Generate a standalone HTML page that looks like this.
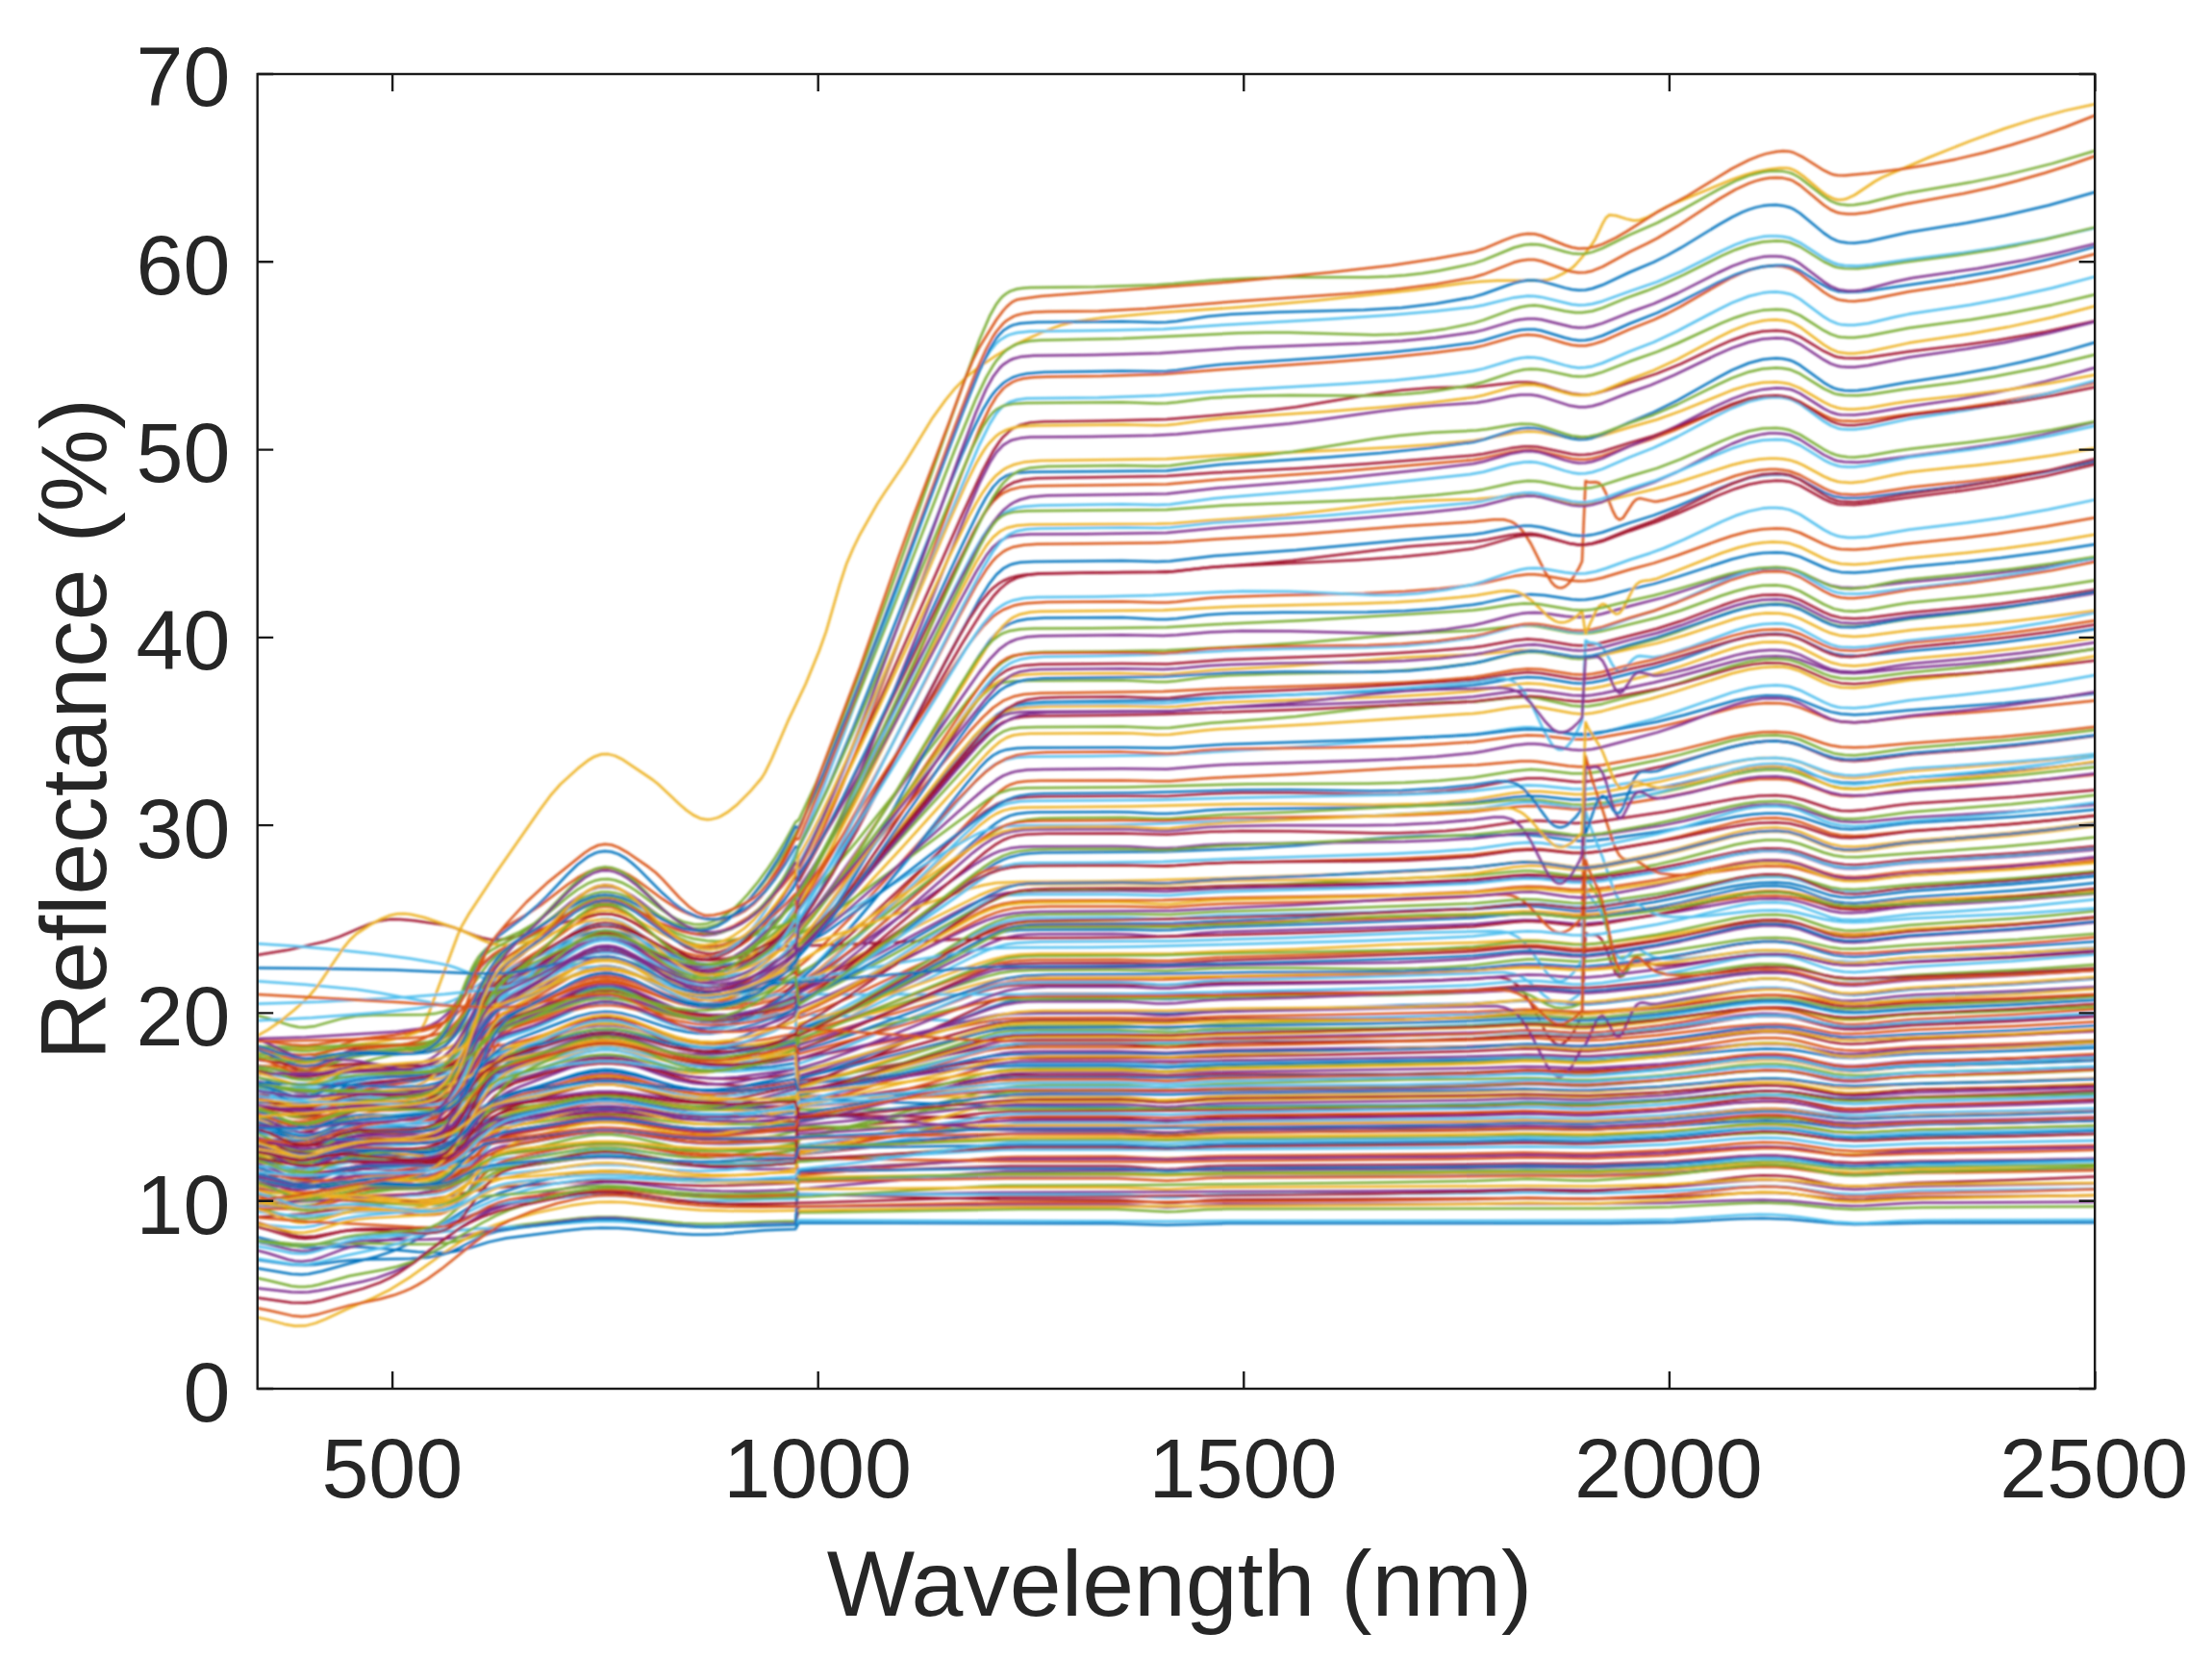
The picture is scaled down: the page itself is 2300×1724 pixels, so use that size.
<!DOCTYPE html>
<html><head><meta charset="utf-8"><title>Reflectance spectra</title><style>
html,body{margin:0;padding:0;background:#fff;overflow:hidden;}
svg{display:block;}
</style></head><body>
<svg width="2300" height="1724" viewBox="0 0 2300 1724">
<rect width="2300" height="1724" fill="#fff"/>
<defs><clipPath id="c"><rect x="267.7" y="77.0" width="1910.5" height="1367.0"/></clipPath><filter id="b" x="-2%" y="-2%" width="104%" height="104%"><feGaussianBlur stdDeviation="0.9"/></filter></defs>
<g clip-path="url(#c)"><g filter="url(#b)" fill="none" stroke-width="2.5" stroke-linejoin="round" stroke-linecap="round">
<path d="M267.7 1243.4l49.6 4.3 53.1 0.8 67.3 2.9 21.2-0.3 10.6-1.7 7.1-2.5 3.5-1.7 7.1-4.6 14.2-11.5 7.1-5.2 7.1-3.9 7-2.8 14.2-3.3 67.3-10.4 17.7-1.5 17.7 0.1 17.7 1.6 35.4 5.3 17.7 2.1 21.2 1.1 17.7-0.3 17.7-1.4 60.2-6.2 3.6-3.9 184.1-18.8 38.9-3 31.9-0.6 74.4 0.1 14.1 0.4 28.4 2.2 10.6 0.4 10.6-0.4 31.9-2.8 21.2-0.7 201.8-1.2 53.1-0.8 56.7-1.5 63.7 1 77.9-3.7 28.3-2.5 49.6-5.6 24.8-1.4 14.2 0.2 14.1 1 46.1 7.3 21.2 1.4 14.2-0.2 49.5-2.1 102.7-1.9 83.8-2.1" stroke="#A2142F"/>
<path d="M267.7 1223.6l35.4-1.4 17.7-1.4 46-6.5 53.2-6 21.2-3.8 14.2-4.5 10.6-5.3 10.6-7.2 24.8-19.8 7.1-4.5 10.6-5 10.6-3.4 17.7-3.8 49.6-9 21.2-2.5 14.2-0.4 17.7 1.2 49.6 7.8 24.8 2.8 28.3 1.4 28.3 0 21.2-1 24.8-2 3.6-2.2 60.2-7.4 134.5-18.8 14.2-1.6 14.1-1 106.3-0.4 53.1 0.7 67.2-1.7 170-0.1 77.9-1.6 60.2-2.8 49.6 1.2 14.1-0.1 77.9-4.8 24.8-2.4 49.6-5.7 28.3-1.8 14.2 0.2 14.1 1.1 14.2 2.4 28.3 6.4 10.6 1.4 10.7 0.5 14.1-0.5 35.4-3.5 21.3-1.2 102.7-2.7 80.2-2.9" stroke="#A2142F"/>
<path d="M267.7 1159.9l10.6 2.7 24.8 7.5 7.1 1.4 7.1 0.5 10.6-0.7 24.8-5 14.1-1.8 14.2-0.6 46 0.7 10.7-0.7 10.6-1.7 10.6-3.7 10.6-6.4 7.1-5.9 24.8-24.2 7.1-5.4 10.6-6.3 10.6-4.5 31.9-11 35.4-13.7 14.1-4.1 10.7-1.8 7.1-0.4 7 0.3 14.2 2.4 14.2 4.3 24.7 9.2 14.2 4.6 14.2 3.5 14.1 2 17.7 0.8 17.7-0.9 24.8-3.3 21.3-4.3 14.1-3.8 3.6-17.5 14.1-4.7 14.2-5.3 31.9-13.7 35.4-16.8 81.4-40.5 21.3-10.1 14.1-5.3 14.2-3 10.6-1 14.2-0.4 74.3-0.3 17.7 0.4 28.4 2.1 10.6 0.3 10.6-0.6 24.8-2.9 17.7-1.3 141.6-3.7 99.2-3.2 28.3-1.3 35.4-3.2 14.1-0.8 14.2 0.2 35.4 3.3 14.2 0.2 17.7-1.5 53.1-7.2 24.8-3.9 56.6-9.9 14.2-2 14.2-1.2 17.7-0.4 14.1 1 14.2 3.2 28.3 8.7 10.6 1.6 10.7 0.4 14.1-0.9 31.9-4.3 17.7-1.8 106.2-6.2 83.8-6.9" stroke="#7E2F8E"/>
<path d="M267.7 1240.3l35.4 0.7 14.2-0.6 10.6-1.4 28.3-5.2 14.2-2 74.3-7.3 10.7-1.8 10.6-2.7 10.6-4.4 7.1-4.4 3.5-2.8 10.6-10.5 14.2-17.1 7.1-7.7 7.1-6.5 7.1-4.9 10.6-5.3 10.6-3.6 21.2-5.6 21.3-4.8 10.6-1.8 10.6-1.2 10.7-0.5 10.6 0.3 17.7 2.2 46 8.6 14.2 1.6 10.6 0.7 10.6 0.2 14.2-0.4 28.3-2.8 46-6.7 3.6-5.3 28.3-5.5 31.9-7.2 131-32.4 14.1-2.9 14.2-1.9 10.6-0.8 17.7-0.5 131-0.2 70.8-1.8 177.1-1.9 74.3-2.4 42.5-3.2 14.2-0.6 14.2 0.2 31.8 2 17.7 0 17.7-1.3 56.7-6.1 24.8-3.5 53.1-8.9 17.7-2.1 14.1-0.8 14.2 0.2 10.6 0.9 10.6 1.7 24.8 5.8 10.7 2 10.6 1 14.1 0.3 155.8-6.6 90.9-5.4" stroke="#77AC30"/>
<path d="M267.7 1248.1l35.4 5.2 14.2 0.5 10.6-1 28.3-5.6 14.2-1.9 17.7-1.1 46-1.3 17.7-1.4 10.6-2.3 7.1-2.7 3.6-2 7-5 17.7-15.1 7.1-4.3 7.1-2.8 7.1-1.7 7.1-1.2 70.8-7.3 21.2-1.6 21.3-0.1 17.7 1.2 49.5 5.1 31.9 1.7 35.4-0.2 35.4-1.6 17.7-1.4 3.6-0.8 46-5.4 155.8-23.1 24.8-2.8 24.8-0.5 134.5 0.1 315.1-4.2 53.1-1.3 49.6 1.4 17.7 0.1 74.4-3.6 77.9-5.9 28.3-1.2 28.3 0.6 14.2 1.4 28.3 3.8 21.3 1.1 14.1-0.2 53.1-2.6 102.7-2.1 83.8-2.5" stroke="#4DBEEE"/>
<path d="M267.7 1239.3l10.6 3.2 24.8 8.9 7.1 1.7 7.1 0.7 10.6-0.6 28.3-5.8 14.2-1.4 17.7 0.1 49.6 2.9 10.6 0.1 10.6-0.5 10.6-1.8 10.6-3.7 10.7-6 17.7-12.4 7.1-4.2 7-3.4 10.7-3.7 17.7-3.8 38.9-6 17.7-2.1 17.7-1.1 10.6 0.1 14.2 0.8 53.1 6.5 28.3 2 35.4 0.2 60.2-2.3 3.6 9.6 191.2-11.9 24.8-1 169.9 0.1 53.1-0.9 237.3-1.8 81.4-1.5 63.7 0.9 74.4-2.8 81.4-5.5 28.3-0.9 24.8 0.9 14.2 1.7 31.9 4.8 10.6 0.8 10.6 0.1 14.2-0.7 31.8-2.4 21.3-1 182.9-3.6" stroke="#EDB120"/>
<path d="M267.7 1203.3l10.6 1.7 24.8 5.2 7.1 0.6 7.1-0.3 10.6-2.1 28.3-9.7 14.2-3.5 17.7-2.4 46-3.9 10.6-1.5 7.1-1.7 7.1-2.7 3.5-1.9 7.1-5.6 3.6-3.8 7-9.9 10.7-18.3 7-11.2 7.1-8.3 7.1-5.6 7.1-3.4 7.1-2.3 35.4-7.6 42.5-10.6 10.6-1.8 10.6-0.9 7.1 0 10.6 0.7 17.7 3.1 42.5 10.1 17.7 2.6 14.2 0.8 17.7-0.4 17.7-2 17.7-3.3 17.7-4.6 21.2-7.6 3.6-5.9 24.8-11.9 28.3-16.1 35.4-22.1 81.4-53.1 17.7-10.9 7.1-3.8 7.1-3.1 7.1-2.1 7.1-1.3 10.6-1 10.6-0.3 88.5-0.2 17.7 0.5 28.4 2.2 10.6 0.3 10.6-0.6 28.3-3.1 17.7-1.1 262-7.3 53.1-2.9 17.8 0.5 31.8 2.7 17.7 0.1 17.7-1.4 53.1-6.1 28.4-4.3 53.1-9.5 17.7-2.2 14.1-0.9 14.2 0.2 10.6 0.9 10.6 2 31.9 8 10.6 1.5 14.2 0.6 14.2-0.4 46-3.1 106.2-4.8 83.8-5.6" stroke="#EDB120"/>
<path d="M267.7 1129.1l10.6 3.9 24.8 10.5 7.1 2.1 7.1 1.1 10.6 0.1 24.8-3.6 14.1-1 10.7 0.3 10.6 0.9 42.5 5.4 17.7 1.7 7.1 0.1 7-0.4 7.1-1.6 3.6-1.5 3.5-2.1 3.5-2.8 3.6-3.7 3.5-4.9 3.6-6 7-16 17.8-52.3 7-18.2 7.1-14.2 7.1-10.8 7.1-8.4 7.1-7.2 42.4-40 7.1-5.8 7.1-4.9 7.1-3.8 7.1-2.5 7.1-0.9 7 0.6 7.1 2.1 7.1 3.5 7.1 4.6 7.1 5.5 24.7 21.6 10.7 8.3 7 4.6 7.1 3.9 7.1 3.1 7.1 2.2 7.1 1.4 7.1 0.6 7-0.1 10.7-1.7 7-2 7.1-2.8 7.1-3.6 7.1-4.4 7.1-5.3 10.6-9.5 10.6-11.4 10.6-13.2 3.6-9.5 14.1-20.5 14.2-22.5 14.2-24.1 17.7-31.6 35.4-65.9 70.8-135.1 17.7-32.2 10.6-16.9 7.1-9.2 3.5-3.7 7.1-5.8 3.6-2 7-2.9 10.7-2 14.1-0.9 120.4-1.3 21.3-0.7 38.9-2.8 88.5-5.1 113.3-8.9 70.8-4.4 21.3-2.4 10.6 0.1 7.1 1.8 3.5 1.8 3.6 2.6 3.5 3.4 3.5 4.3 7.1 11.3 14.2 28.4 7.1 11.5 3.5 3.7 3.6 2 3.5 0.2 3.5-1.4 3.6-3 3.5-4.3 7.1-11.5 3.5-7.3 3.6-83.6 3.5 1.4 7.1-0.4 3.5 1 3.6 3.7 3.5 6.9 7.1 18.3 3.5 6.8 3.6 2.6 3.5-1.8 10.7-16.5 3.5-3.1 3.5-1 14.2 3.3 3.5 0 7.1-1.3 24.8-7.4 49.6-17.9 14.1-3.8 10.7-2 10.6-0.9 7.1 0 7 0.6 7.1 1.3 10.6 4 24.8 13.6 7.1 3.2 7.1 2.3 3.5 0.6 14.2 0.9 14.2-1.2 46-6.9 60.2-6.1 38.9-4.8 46.1-6.8 44.8-8" stroke="#D95319"/>
<path d="M267.7 1154.9l49.6-3.3 49.5-6.4 63.8-6.8 17.7-3.1 7.1-2.2 7-3.4 7.1-5.4 3.6-3.8 7-10.6 7.1-14.9 14.2-38.4 7.1-17.5 7.1-13.4 7-9.3 7.1-6.4 10.6-6.4 24.8-11.8 28.3-14.4 10.7-4.7 7-2.4 10.7-2.3 7.1-0.5 7 0.3 10.7 2.1 14.1 5.2 31.9 15.4 14.1 5.7 14.2 4.2 7.1 1.4 10.6 1.2 10.6 0.3 7.1-0.3 14.2-2.4 7.1-2.2 7-2.9 7.1-3.8 7.1-4.7 7.1-5.6 7.1-6.7 14.1-16.1 3.6 0 10.6-14.8 10.6-16.3 21.3-35.5 24.7-44.4 102.7-192.2 17.7-32.1 10.7-16.9 7-8.9 7.1-6.3 7.1-3.8 3.5-1.2 7.1-1.4 14.2-0.9 92-0.8 35.5 0.8 14.1-0.4 46-5.4 85-6 113.3-10.7 70.8-5.6 10.7-1.5 28.3-5.8 14.1-1.7 7.1 0 10.7 1.5 31.8 8 7.1 0.8 7.1 0 7.1-1 10.6-2.6 28.3-9.9 24.8-7.7 24.8-9.4 42.5-18.3 14.1-5.6 17.7-5.5 14.2-2.9 14.2-0.9 7 0.3 7.1 1 10.6 3.8 24.8 13.4 10.7 4.3 10.6 1.6 14.1 0.1 14.2-1.3 35.4-4.6 53.1-6.1 39-5.5 53.1-9.3 51.9-11.2" stroke="#0072BD"/>
<path d="M267.7 1156.8l49.6 3.1 106.2 3.6 17.7-0.7 7.1-1.2 7.1-2.4 7-4.2 3.6-3.2 7.1-9 7-13.1 14.2-33.9 7.1-15.7 7.1-12.1 7.1-8.5 7-5.8 10.7-5.6 28.3-10.6 35.4-14.5 14.1-4.5 10.7-1.9 7.1-0.4 7 0.3 10.7 1.7 14.1 4.2 28.3 11.4 14.2 5 17.7 4.5 14.2 1.9 17.7 0.5 10.6-0.6 10.6-1.4 17.7-3.8 17.7-6.1 14.2-6.8 14.2-8.9 14.1-10.4 17.7-14.8 21.3-19.7 24.8-24.4 102.6-105.7 14.2-14 7.1-6.3 7.1-5 3.5-1.8 7.1-2.4 10.6-1.4 14.2-0.4 84.9-0.4 35.5 0.9 14.1-0.1 42.5-3.3 88.5-3.9 106.2-6.3 81.5-3.2 46-4.1 10.6 0 7.1 0.5 31.9 4.5 10.6 0.9 7.1-0.1 17.7-1.8 53.1-9.6 28.3-6.2 53.1-13.4 17.7-3.3 14.2-1.6 14.2-0.4 14.1 1.1 10.6 2.5 24.8 8.5 7.1 2 10.6 1.8 14.2 0.5 14.2-0.6 42.4-3.8 95.6-6.7 49.6-4.8 48.4-5.7" stroke="#D95319"/>
<path d="M267.7 1120.1l10.6 3.7 17.7 7.9 7.1 2.6 7.1 1.7 7.1 0.4 3.5-0.3 7.1-1.6 28.3-11.2 14.2-3.6 14.1-1.4 31.9-0.7 14.2-0.8 10.6-1.5 10.6-3.2 7.1-3.7 3.5-2.5 7.1-6.4 7.1-8.3 21.2-28.7 7.1-7.6 7.1-6.1 10.6-6.8 21.3-10.9 14.1-8.1 10.7-7.1 21.2-15.4 10.6-6.9 10.6-5.5 10.7-3.3 7.1-0.7 7 0.4 7.1 1.7 7.1 2.7 14.2 8 24.7 16.9 10.7 6.5 10.6 5.1 10.6 3.6 10.6 1.9 7.1 0.3 7.1-0.5 7.1-1.1 7.1-1.9 14.1-5.8 10.6-6 14.2-10 14.2-12 14.1-13.9 3.6 12.5 21.2-23.8 24.8-29.9 35.4-44.7 77.9-99.9 24.8-30.2 10.6-11.2 10.6-9.2 10.7-6.6 10.6-3.9 10.6-2.1 17.7-1.3 123.9-1.8 63.8-3.1 131-4.5 53.1-2.3 38.9-2.5 35.4-3 10.7-1.4 31.8-5.8 14.2-1.3 14.2 0.7 31.8 5.2 7.1 0.5 7.1-0.1 7.1-0.8 10.6-2 56.6-14.2 24.8-7.7 42.5-15.5 14.2-4.7 14.1-3.7 14.2-2.2 14.2-0.5 7 0.5 7.1 1.1 10.6 3.5 24.8 11.8 10.7 3.8 10.6 1.8 14.1 0.5 14.2-0.9 35.4-3.8 56.7-4.9 38.9-4 49.6-6.3 51.9-8.2" stroke="#0072BD"/>
<path d="M267.7 1205.8l10.6 2.3 24.8 6.5 7.1 1 7.1 0.3 10.6-1.2 28.3-7 14.2-2.2 17.7-1 46-0.7 10.6-0.8 10.7-1.5 10.6-2.9 10.6-4.9 10.6-7.4 17.7-14.7 7.1-5.1 7.1-4.1 10.6-4.5 17.7-4.7 39-7.5 17.7-2.9 17.7-1.6 14.1-0.1 14.2 1.1 56.6 8.9 14.2 1.4 17.7 0.9 60.2-0.7 28.3 0.3 3.6-10.4 212.4 7.6 123.9 0.7 35.5 2.5 10.6 0.3 10.6-0.4 31.9-2.8 21.2-0.6 198.3-1 56.6-1 56.7-1.8 49.6 1 17.7-0.1 74.3-3.8 24.8-2 53.1-5.3 24.8-1.3 14.2 0.1 14.1 0.7 46.1 6.2 21.2 1 250.2-6.2" stroke="#0072BD"/>
<path d="M267.7 1202.7l35.4 4.8 17.7 1.3 46-0.5 63.8 2.5 10.6-0.4 7.1-1 7.1-2.1 3.5-1.7 7.1-5 3.5-3.5 7.1-9.1 10.6-16.2 7.1-9.9 7.1-7.4 7.1-5.1 7.1-3.3 7-2.2 31.9-6.8 42.5-11.3 17.7-3.5 14.2-1.1 7 0.2 10.7 1.1 14.1 2.8 28.3 7.4 14.2 3.2 14.2 2.3 14.1 1.2 17.7 0 17.7-1.4 17.7-2.5 21.3-4.2 21.2-5.4 3.6-25 24.8-7.7 31.8-11.3 127.5-49 17.7-5.4 14.2-2.5 17.7-1.1 24.7-0.3 77.9-0.2 46.1 1 56.6-2.6 180.6-1.4 49.6-1.4 49.5-2.6 10.7 0.2 7 1.5 3.6 1.4 7.1 4.8 3.5 3.5 3.5 4.5 7.1 11.3 14.2 27.4 3.5 5.8 3.6 4.7 3.5 3.2 3.6 1.5 3.5-0.3 3.5-2 3.6-3.5 7.1-10.4 7-14.1 3.6-85.7 3.5 1.7 7.1 0.5 3.5 1.6 3.6 4.3 3.5 7.5 7.1 19.5 3.5 7.4 3.6 3.3 3.5-1.1 10.7-14.4 3.5-2.6 3.5-0.5 14.2 5.7 3.5 0.6 7.1 0 28.3-2.5 56.7-7.8 17.7-1.2 14.2-0.2 10.6 0.6 10.6 1.4 28.3 6.4 10.7 1.9 10.6 0.9 14.1 0.2 53.1-2.9 102.7-4.4 90.9-5.8" stroke="#A2142F"/>
<path d="M267.7 1221.9l10.6 2.1 24.8 6.1 7.1 1 7.1 0.3 7.1-0.4 7-1 28.4-5.4 14.1-1.2 17.7-0.3 53.1 0.8 17.7-1 10.7-2.5 7-3.5 7.1-5.3 14.2-14.8 7.1-6.8 7.1-4.9 7-3.3 10.7-2.9 10.6-1.8 56.6-8.2 21.3-1.9 10.6-0.1 14.2 0.7 14.1 1.5 42.5 5.9 14.2 1.3 14.1 0.6 28.4-0.8 67.2-5 3.6 19.6 63.7-5.4 138.1-13.2 24.8-1.6 102.7-0.3 56.6 0.7 49.6-1.4 265.5-3.1 53.1-1.4 49.6 1.4 17.7 0 77.9-4 24.8-2.3 53.1-5.8 24.8-1.4 14.2 0.1 14.1 1 10.6 1.4 35.5 6.2 10.6 0.9 10.6 0.3 14.2-0.3 49.5-2.6 102.7-2.2 83.8-2.4" stroke="#D95319"/>
<path d="M267.7 1153.1l10.6 4.8 17.7 9.9 7.1 3.4 7.1 2.4 7.1 1.1 3.5 0 7.1-1.1 28.3-9.1 7.1-1.5 7.1-0.9 17.7-0.1 35.4 3 14.2 0.6 10.6-1 7.1-2.4 3.5-2.2 3.5-3 3.6-4.2 3.5-5.5 3.6-7.1 7-19.2 10.7-36.5 7-22.4 3.6-9 3.5-7.5 3.6-6.1 3.5-4.8 7.1-6.8 7.1-4.5 31.8-14.5 42.5-24.2 7.1-3.2 7.1-2.4 7.1-1.6 7.1-0.6 7 0.4 10.7 2.3 7 2.7 7.1 3.2 28.3 15.7 10.7 5.2 14.1 5.2 7.1 1.7 7.1 1.1 10.6 0.5 7.1-0.6 7.1-1.2 7.1-1.9 7-2.6 7.1-3.4 7.1-4.3 7.1-5.2 7.1-6.1 7-7.1 7.1-8.1 7.1-9.2 14.2-21 17.7-30.9 21.2-42 24.8-53.2 31.9-71.4 63.7-145.4 21.3-45.7 10.6-19.3 7.1-10.3 3.5-4.3 7.1-6.6 3.5-2.4 7.1-3.4 10.6-2.7 17.7-1.4 134.6-1.6 53.1-4.8 116.8-7.7 148.7-12.9 10.7-1.8 28.3-6.5 14.1-2 7.1-0.2 7.1 0.8 35.4 8.5 7.1 0.8 7.1-0.1 7.1-1 10.6-2.8 28.3-10.2 21.3-6.7 24.7-9.4 42.5-18.5 17.7-7.1 17.7-5.7 14.2-2.8 14.2-1 7 0.3 7.1 1 10.6 4 24.8 13.9 7.1 3.2 7.1 2.1 3.5 0.5 14.2 0.5 14.2-1.2 35.4-5.2 60.2-7.4 35.4-5.1 53.1-9.6 51.9-11.5" stroke="#D95319"/>
<path d="M267.7 1265.5l49.6-3.4 53.1-7.1 74.3-8 21.3-3.1 31.8-6.5 14.2-2.2 92.1-6.8 21.2-0.8 17.7 0.3 60.2 4.1 28.3 0.9 24.8-0.3 70.8-2.5 3.6-10.9 219.5-6.6 109.8 0 14.1 0.5 28.4 2.4 10.6 0.4 10.6-0.4 31.9-2.8 21.2-0.6 219.5-1 88.5-1.1 74.4 0.5 74.4-2.3 24.7-1.6 49.6-4.2 24.8-1 14.2 0.2 14.1 0.9 46.1 5.7 21.2 1.1 67.3-1.9 182.9-2.2" stroke="#A2142F"/>
<path d="M267.7 1190.8l35.4 4.8 10.6 0.7 7.1 0 46-4.6 46.1-0.9 14.1-0.7 10.7-1.3 10.6-2.7 7.1-3 3.5-2 7.1-5.3 3.5-3.3 7.1-7.9 17.7-23.2 7.1-8.3 7.1-6.8 7.1-5.3 7-4.1 7.1-3.2 31.9-11.7 31.8-13 14.2-4.7 10.6-2.3 7.1-0.7 7.1-0.1 7.1 0.6 10.6 2.1 14.2 4.6 24.7 9.7 14.2 4.9 14.2 3.7 14.1 2.4 17.7 1.2 21.3-0.9 17.7-2.6 17.7-4.3 21.2-7.4 3.6-25.1 21.2-9.7 28.3-14.5 35.5-19.6 81.4-46 21.2-11.3 10.7-5 10.6-4 7.1-2 10.6-2 10.6-1 14.2-0.6 70.8-0.4 21.2 0.2 31.9 1.5 10.6-0.1 35.4-2.9 17.7-1 155.8-3.2 70.8-2.4 39-2 35.4-3.6 17.7-1.1 14.2 0.4 31.8 3.1 17.7 0 17.7-2 53.1-7.9 28.4-5.4 53.1-11.9 17.7-2.7 14.1-1.1 14.2 0.2 10.6 1 10.6 2.5 31.9 10 10.6 1.8 14.2 0.7 14.2-0.6 46-4 106.2-6.3 83.8-7.2" stroke="#4DBEEE"/>
<path d="M267.7 1020.2l49.6 3.5 53.1 5.1 24.8 3.6 53.1 10 21.2 3.5 21.3 2.5 21.2 1.1 14.2-0.7 14.1-2.6 14.2-3.8 35.4-11.3 17.7-4.6 14.2-2 10.6-0.3 10.6 1.7 7.1 2.1 7.1 2.7 14.1 6.9 28.4 15.2 14.1 6.1 10.7 3.1 10.6 1.2 17.7-0.4 17.7-1.4 17.7-2.8 17.7-4.3 3.5-0.1 49.6 1.6 162.9 6.9 95.6 0.5 88.5-0.9 240.8-4.8 84.9-2.8 42.5-3.3 14.2-0.6 14.2 0.4 31.8 2.6 14.2 0.2 21.2-1.7 56.7-7.2 24.8-4.2 53.1-10.8 14.1-2.1 14.2-1.1 14.2 0 14.1 1.4 10.6 2.5 24.8 8.1 10.7 2.8 10.6 1.4 10.6 0.4 14.2-0.7 46-4.7 106.2-5.4 83.8-6" stroke="#4DBEEE"/>
<path d="M267.7 1094.2l10.6 4.1 24.8 10.6 7.1 2.3 7.1 1.4 10.6 0.7 28.3-2 14.2 0.3 17.7 2 38.9 6.5 14.2 1.9 10.6 0.3 7.1-1.2 3.5-1.4 3.6-2.2 3.5-3.2 3.6-4.3 3.5-5.7 7.1-15.1 14.1-35.1 7.1-12.7 7.1-8.4 3.6-3.1 7-4.6 21.3-10.8 14.1-8.6 10.7-7.8 24.7-19.8 10.7-7.3 10.6-5.4 7.1-2.1 7.1-0.9 7 0.6 7.1 1.8 7.1 3.1 7.1 4 7.1 4.9 24.7 18.9 10.7 7.1 7 4 7.1 3.2 10.7 3.3 10.6 1.3 7.1-0.2 7-1.1 7.1-1.9 7.1-2.8 7.1-3.7 7.1-4.5 7-5.4 7.1-6.2 7.1-7.2 10.6-12.3 7.1-9.2 14.2-20.3 10.6-17.2 21.2-37.5 28.4-54 35.4-70.2 70.8-142.4 17.7-33.9 10.6-17.2 7.1-8.8 7.1-6.1 7.1-3.7 10.6-2.5 14.1-1 131.1-0.7 17.7-0.6 35.4-3 53.1-3.4 28.3-2.3 31.9-3.4 60.2-7.2 28.3-2.8 31.8-1.9 46.1-1.1 42.5-4.1 10.6-0.1 7.1 0.6 10.6 1.9 28.3 6.2 10.6 0.9 7.1-0.3 14.2-2.3 28.3-7.3 24.8-5.8 24.8-7.1 56.6-18.2 14.2-3.5 14.2-2.4 10.6-0.8 7.1 0 7 0.4 7.1 1.2 7.1 2.3 7.1 3.1 21.2 11.5 7.1 3.2 7.1 2.2 3.5 0.6 10.7 0.6 14.1-1.5 31.9-6.9 14.1-2.4 17.8-2.2 53.1-5.2 35.4-4.1 42.5-6 44.8-7.5" stroke="#EDB120"/>
<path d="M267.7 1213l35.4 2.4 14.2-0.4 10.6-1.4 28.3-6 14.2-2.2 17.7-1.8 56.6-4.4 10.7-1.4 7-1.4 7.1-2.5 3.6-1.8 7-5.2 7.1-8.1 17.7-25.9 7.1-7.4 7.1-4.7 7.1-2.8 10.6-2.5 24.8-4.3 38.9-7.6 17.7-2.2 14.2-0.4 17.7 1.4 46 8.2 21.3 2.8 17.7 1 21.2-0.2 31.9-2.6 38.9-4.8 3.6-2.5 60.2-10.1 134.5-24.9 14.2-2.1 10.6-0.9 21.2-0.5 88.6 0 14.1 0.4 28.4 2.3 10.6 0.4 10.6-0.6 28.3-3 17.7-1 205.4-2.4 56.6-1.9 53.1-3.5 17.8 0.2 35.4 1.9 14.1-0.1 17.7-1.3 56.7-5.7 28.3-4.1 49.6-8.4 14.1-1.7 14.2-1 14.2 0.1 14.1 1.2 10.6 2.1 24.8 6.6 10.7 2.4 10.6 1.2 10.6 0.4 14.2-0.6 46-3.7 106.2-4.2 83.8-4.7" stroke="#A2142F"/>
<path d="M267.7 1275.7l10.6 2.8 24.8 7.8 7.1 1.3 7.1 0.4 10.6-1 28.3-6.8 14.2-1.9 17.7-0.7 38.9 0.5 17.7-0.7 10.7-1.4 10.6-2.6 10.6-3.9 24.8-10.8 7.1-2.3 10.6-2.6 14.2-2.3 63.7-7.9 14.1-1.4 14.2-0.7 14.2 0.2 14.1 1 49.6 5.9 28.3 2.4 42.5 2 53.1 1.5 3.6-13.1 208.9 5.8 123.9 0.6 49.6 3.3 10.6-0.3 31.9-2.9 21.2-0.6 308-1.2 63.8 0.3 53.1-0.7 42.5-1.3 60.2-3.5 24.8-0.9 17.7 0.2 14.1 0.8 46.1 5.5 17.7 1 14.1-0.2 35.4-2 24.8-0.8 179.4-1.4" stroke="#A2142F"/>
<path d="M267.7 1146.1l49.6 4 53.1 0.6 63.7 2.5 17.7-0.1 7.1-0.6 7.1-1.3 7.1-2.6 3.5-1.9 7.1-5.8 3.5-4 7.1-10.3 14.2-26.5 7.1-12.1 3.5-5.1 7.1-8.1 3.5-3.1 7.1-4.7 7.1-3.3 10.6-3.9 31.9-9.7 14.1-3.8 14.2-2.7 14.2-1.1 10.6 0.5 14.1 2.1 39 9.8 17.7 3.6 14.2 1.8 14.1 0.8 21.3-0.7 21.2-2.5 21.2-4.5 24.8-7.4 3.6 12.6 24.8-9.5 31.8-13.8 131-61.7 17.7-6.6 7.1-1.9 10.6-1.8 10.7-0.9 14.1-0.5 134.6-0.7 162.8-3.7 155.8-4.2 53.1-3.2 14.2 0.2 35.4 2.7 14.2 0.2 17.7-1.1 56.6-6.2 77.9-11.4 28.4-2.8 17.7-0.2 14.1 0.9 14.2 2.6 28.3 7.1 10.6 1.3 10.7 0.4 14.1-0.6 49.6-4.5 106.2-4.9 83.8-5.5" stroke="#D95319"/>
<path d="M267.7 1226.4l10.6 3 24.8 8.4 7.1 1.5 7.1 0.6 10.6-0.9 28.3-6.8 14.2-1.8 17.7-0.4 49.6 1.6 10.6-0.3 7.1-0.7 10.6-2.9 7.1-3.7 3.5-2.6 7.1-6.6 17.7-19.5 7.1-5.8 3.5-2.2 7.1-3.4 7.1-2.3 7.1-1.6 67.2-12.5 14.2-1.8 14.2-0.7 10.6 0.3 14.1 1.5 46.1 8.3 14.1 1.9 14.2 1.4 17.7 0.7 17.7-0.1 17.7-1.1 14.2-1.6 14.1-2.3 17.7-3.7 3.6-7.4 49.5-12.7 145.2-40.3 17.7-3.9 14.2-1.6 24.8-0.7 77.9 0 14.1 0.4 28.4 2.1 10.6 0.3 10.6-0.5 28.3-2.6 21.3-0.9 198.2-1.1 60.2-1.6 56.7-3 14.2 0.1 35.4 1.4 14.1-0.1 21.3-1.3 56.6-4.7 24.8-3 49.6-7.7 14.1-1.5 14.2-0.8 14.2 0.1 14.1 1.3 10.6 1.9 24.8 6.2 10.7 2.2 10.6 1.2 10.6 0.4 14.2-0.4 49.5-3.5 102.7-3.2 83.8-3.5" stroke="#D95319"/>
<path d="M267.7 1169.2l10.6 3.2 24.8 9.2 7.1 1.5 7.1 0.4 10.6-1.5 28.3-9 14.2-2.8 17.7-1.1 46-0.3 10.6-1 10.7-2.3 7-2.8 3.6-1.9 7.1-5.2 3.5-3.4 7.1-8.4 17.7-25.7 7.1-9.3 7.1-7.5 3.5-3 7.1-4.8 7.1-3.6 10.6-3.9 42.5-12.5 21.2-5.2 14.2-1.9 14.1-0.1 14.2 1.7 14.2 3.1 28.3 7.7 14.1 3.3 17.8 3 17.7 1.9 21.2 1.1 21.2 0 21.3-1.7 21.2-3 3.6 52.1 24.8-5.1 31.8-7.7 138.1-36.6 17.7-3.6 14.2-1.3 21.2-0.5 81.5-0.2 56.6 1.2 49.6-2.4 265.5-5.6 53.1-2.1 17.8 0.4 31.8 2 17.7 0.1 17.7-1.1 56.7-5 28.3-3.7 49.6-7.7 14.1-1.6 14.2-0.9 14.2 0.2 14.1 1.3 10.6 2 24.8 6.8 10.7 2.4 10.6 1.3 10.6 0.3 14.2-0.7 28.3-2.9 21.2-1.6 106.3-3.8 80.2-4" stroke="#7E2F8E"/>
<path d="M267.7 1252.5l35.4 2.1 14.2-0.6 10.6-1.8 28.3-7.4 14.2-2.9 14.1-2 46.1-5.3 17.7-2.9 14.1-3.9 10.7-4.5 10.6-6.1 21.2-14.2 7.1-3.8 10.6-4.4 17.7-4.6 49.6-10 17.7-3 17.7-1.5 17.7 0.5 14.2 1.8 35.4 6.4 14.1 2.1 17.8 1.6 14.1 0.3 17.7-0.7 21.3-2.2 24.7-3.9 24.8-5.1 3.6-45.5 28.3-7.4 31.9-9.3 131-41.1 14.1-3.8 10.7-1.8 10.6-0.9 14.1-0.3 88.6-0.1 14.1 0.5 28.4 2.3 10.6 0.3 10.6-0.6 28.3-3.1 17.7-1 262-6.3 49.6-2.6 17.7 0.2 35.4 2.5 14.2 0.2 17.7-1 56.6-5.6 24.8-3.1 56.7-8 28.3-2.4 14.2-0.1 14.1 0.8 10.6 1.7 24.8 5.4 10.7 1.9 10.6 0.9 10.6 0.1 14.2-0.5 46-3.1 116.8-4.8 73.2-4.4" stroke="#77AC30"/>
<path d="M267.7 1193l10.6 2.6 24.8 6.9 7.1 1.3 7.1 0.6 10.6-0.3 24.8-3.7 14.1-1.3 17.7-0.1 39 1.4 10.6-0.1 10.6-1 7.1-1.3 7.1-2.3 7.1-3.4 7.1-5 10.6-10.5 24.8-30.7 7.1-7.1 10.6-8.1 10.6-5.4 10.6-3.9 17.7-4.9 24.8-6.1 14.2-2.8 10.6-1.4 10.6-0.8 10.6 0.1 10.7 0.9 10.6 1.5 49.5 9.8 14.2 1.9 14.2 1.2 24.8 0.9 24.7-0.7 21.3-1.8 21.2-3.2 3.6 2.7 24.8-5.3 28.3-7.3 134.5-38 17.7-4 17.7-2.3 24.8-0.9 77.9-0.2 56.7 1 46-2 35.4-0.5 134.6 0.7 46-0.5 56.6-2.3 39-3.2 17.7-1 14.2 0 35.4 1.6 21.2-0.6 67.3-6.2 24.8-3 53.1-7.5 14.1-1.4 14.2-0.9 14.2 0 14.1 1 10.6 1.7 24.8 5.7 10.7 2 10.6 1 10.6 0.3 14.2-0.6 46-3.4 106.2-3.9 83.8-4.4" stroke="#A2142F"/>
<path d="M267.7 1175.1l10.6 2.9 17.7 6.5 7.1 2.1 7.1 1.1 7.1-0.1 10.6-2.5 28.3-12.8 14.2-4.3 17.7-2.7 42.5-3.6 10.6-1.5 7.1-1.6 10.6-3.6 10.6-6 7.1-5.4 21.2-18.4 7.1-4.7 7.1-3.6 10.6-3.8 35.4-8.8 42.5-12.7 10.6-2.4 10.7-1.4 14.1-0.1 14.2 2 14.2 3.4 38.9 11.4 10.6 2.3 14.2 2.3 24.8 1.8 24.8-0.1 24.7-1.7 24.8-3.5 3.6 7.4 24.8-5.4 28.3-7.4 138.1-40.4 17.7-3.9 14.1-1.6 35.4-0.8 77.9-0.2 49.6 0.4 46-2.1 81.5-2.1 113.3-4 74.3-1.9 53.1-3 17.8 0.5 31.8 2.8 17.7 0.2 17.7-1.5 56.7-7 24.8-4.2 53.1-10.5 14.1-2.1 14.2-1.1 14.2 0 14.1 1.4 10.6 2.5 24.8 8.1 10.7 2.9 10.6 1.5 10.6 0.3 14.2-0.8 28.3-3.4 17.7-1.6 106.2-5.3 83.8-5.9" stroke="#0072BD"/>
<path d="M267.7 1178l10.6 1.7 17.7 4.4 7.1 1.3 7.1 0.5 7.1-0.9 10.6-3.5 28.3-15.1 14.2-5.6 14.1-3.8 42.5-8.3 10.7-3 10.6-4.1 10.6-6.4 7.1-5.9 3.5-3.6 10.6-13.3 21.3-30.6 7.1-8.2 10.6-9.3 7.1-4.5 10.6-5.3 24.8-10.8 31.8-15.1 10.7-4.3 7-2.3 10.7-2.2 7.1-0.5 7 0.3 7.1 1 14.2 4 31.8 13.2 10.7 3.8 10.6 2.7 10.6 1.5 7.1 0.2 7.1-0.4 10.6-2 14.2-4.8 14.1-6.8 14.2-8 14.1-8.8 14.2-9.7 10.6-7.9 3.6-9.3 14.1-11.9 14.2-12.8 17.7-17.2 17.7-18.2 42.5-45.8 88.5-97.9 7.1-7.1 7.1-6.1 7.1-4.3 7-2.5 7.1-1.1 10.6-0.6 88.6-0.5 17.7 0.3 24.8 1.3 14.1-0.2 35.4-4.2 14.2-1.3 99.1-5.2 166.4-11.1 10.7-1.2 28.3-4.8 14.1-1.4 7.1 0 7.1 0.5 35.4 6.6 7.1 0.6 7.1 0 7.1-0.8 10.6-2 28.3-7.7 21.3-5 24.7-7.1 60.2-19.3 17.7-4.3 14.2-2.1 14.2-0.7 7 0.4 7.1 0.9 10.6 3.4 24.8 11.7 7.1 2.8 10.6 2.4 14.2 0.4 14.2-1.4 42.4-6.6 67.3-6.6 42.5-5.1 42.5-6.2 41.3-7" stroke="#EDB120"/>
<path d="M267.7 1199.1l10.6 4.5 17.7 9.4 7.1 3.2 7.1 2.2 7.1 0.7 3.5-0.1 7.1-1.4 28.3-10.7 7.1-1.9 7.1-1.2 7.1-0.7 10.6-0.2 42.5 1.5 10.6-0.5 7.1-1.1 7.1-2.3 3.5-1.8 7.1-5.2 3.5-3.6 7.1-9.4 17.7-29.7 7.1-9.7 3.5-3.8 3.6-3.3 7.1-4.8 7-3.3 7.1-2.4 31.9-8.3 38.9-11.8 10.6-2.4 10.7-1.5 10.6-0.3 14.2 1.3 14.1 3 35.4 9.2 14.2 2.4 10.6 0.7 14.2-0.6 14.1-2.4 14.2-4.3 14.2-5.8 10.6-5.1 14.1-7.6 10.7-6.4 14.1-9.3 3.6-49.6 14.1-10.4 14.2-11.2 31.9-27.3 31.8-28.8 77.9-72.5 17.7-15.9 10.7-8.3 7-4.3 7.1-3.1 7.1-1.8 10.6-1.3 10.6-0.4 102.7-0.8 116.9-2.6 49.5-0.1 88.6 1.2 46-1 28.3-1.9 28.3-2.8 39-6.5 17.7-2 14.2 0.1 35.4 3.1 10.6-0.1 10.6-1.1 67.3-12.4 24.8-5.9 53.1-14.2 14.1-2.7 14.2-1.6 14.2-0.2 14.1 1.6 10.6 3.2 24.8 10.5 10.7 3.6 10.6 1.7 10.6 0.4 14.2-1.1 42.4-5.9 106.3-7.9 42.5-4.1 44.8-5.2" stroke="#EDB120"/>
<path d="M267.7 1233.2l53.1-3.9 46-5.3 63.8-6.4 21.2-3.2 7.1-1.8 7.1-2.4 10.6-5.6 7.1-5.3 17.7-16.6 7.1-5.7 7.1-4.4 7-3.1 10.7-2.9 14.1-2.1 46-5.1 21.3-1.6 14.2-0.4 17.7 0.5 67.2 6.1 21.3 1.1 24.8 0.6 67.2 0.6 3.6-7 205.3 3.1 124 0.2 14.1 0.5 28.4 2.4 10.6 0.4 10.6-0.5 31.9-3.2 21.2-0.8 208.9-2.3 49.6-1.1 53.1-2 49.6 1.6 17.7-0.2 74.3-5 24.8-2.6 49.6-6.3 14.1-1.3 14.2-0.6 14.2 0.1 14.1 1 10.6 1.7 35.5 7.3 10.6 1 10.6 0.3 14.2-0.5 49.5-3.4 106.3-3 80.2-3.1" stroke="#A2142F"/>
<path d="M267.7 1090.8l10.6 5.1 17.7 10.8 7.1 3.6 7.1 2.4 7.1 0.5 3.5-0.4 7.1-2.2 7.1-3.5 14.1-8.2 7.1-3.6 7.1-2.8 7.1-2 14.1-1.9 35.5-1.1 14.1-1.2 10.6-2.1 10.7-4.1 7-4.3 3.6-2.7 7.1-6.8 7-8.3 21.3-28.4 10.6-11.8 10.6-9.5 21.3-16.6 10.6-9.2 10.6-10.5 24.8-26.9 10.6-10.5 10.6-8.3 7.1-3.7 3.6-1.2 7.1-1.1 7 0.7 7.1 2.6 7.1 4.1 7.1 5.5 7.1 6.5 24.7 25.7 10.7 9.8 7 5.4 7.1 4.5 10.7 4.5 10.6 1.9 7.1-0.3 7-1.5 7.1-2.6 7.1-3.7 7.1-4.7 7.1-5.6 14.1-13.6 10.6-12.4 10.7-14.3 14.1-22.1 3.6-7.4 10.6-19.2 10.6-20.5 28.3-59.2 35.5-78.2 84.9-191.5 21.3-45.7 10.6-19.7 7.1-10.6 3.5-4.4 7.1-6.7 3.5-2.3 7.1-3.3 10.6-2.5 14.2-1.1 56.7-0.6 70.8-1.7 77.9-6.5 28.3-2.8 28.3-3.6 81.5-13.7 28.3-3.8 31.8-2.5 46.1-1 42.5-4.8 10.6 0 7.1 0.9 10.6 2.5 17.7 5.7 10.6 2.8 10.6 1.2 7.1-0.3 7.1-1.2 10.6-2.9 24.8-8.6 28.3-9.1 24.8-10.1 39-18.4 14.1-6.2 17.7-6.2 14.2-3 14.2-0.7 7 0.5 7.1 1.3 10.6 4.5 24.8 15.1 10.7 5 3.5 1 7.1 1 14.1 0.4 10.7-0.9 42.4-6.1 56.7-6.8 35.4-5.1 49.6-8.8 51.9-11.3" stroke="#A2142F"/>
<path d="M267.7 1178.5l35.4 3.9 14.2 0.5 10.6-0.7 28.3-3.6 14.2-1.2 60.2-1.4 21.2-1.6 10.6-2.3 7.1-2.5 7.1-3.6 21.2-13.5 7.1-3.4 7.1-2.5 10.6-2.5 35.4-6.7 46.1-11.1 10.6-1.8 10.6-0.8 10.6 0.1 14.2 1.6 14.2 2.8 31.8 7.7 14.2 2.6 17.7 1.8 14.2 0.1 14.1-0.9 39-4.6 31.8-2.9 3.6-6.1 63.7-5.6 131-12.7 24.8-1.7 109.8-0.4 53.1 2.1 10.6-0.3 28.3-2.1 17.7-0.7 240.8-3.2 74.3-2.3 17.8 0.2 35.4 1.5 14.1-0.1 74.4-4.6 28.3-2.7 49.6-5.8 28.3-1.9 14.2 0.1 14.1 1 10.6 1.6 35.5 6.8 10.6 1 10.6 0.3 14.2-0.6 49.5-3.3 106.3-2.9 80.2-2.9" stroke="#4DBEEE"/>
<path d="M267.7 1208.6l10.6 2 24.8 6.1 7.1 0.8 7.1-0.2 7.1-1.2 7-2.1 17.7-6.7 10.7-3.5 14.1-3.2 17.7-2.1 49.6-3.6 17.7-2.8 10.6-3.6 7.1-4.1 3.5-2.6 7.1-6.7 17.7-19.2 7.1-5.9 7.1-4.1 7.1-3 7.1-2.2 28.3-7.2 35.4-10.3 14.1-3.2 10.7-1.4 7.1-0.3 7 0.2 10.7 1.2 14.1 3.1 31.9 9.1 14.1 3.6 17.8 3.3 21.2 2.5 24.8 1.4 17.7-0.3 17.7-1.8 21.2-3.9 3.6 2.5 24.8-6.1 31.8-8.9 134.6-40.4 14.1-3.5 10.7-1.4 24.7-0.6 145.2 0 42.5-1.8 88.5-2.3 109.8-3.8 77.9-1.9 49.5-2.6 17.8 0.5 31.8 2.8 14.2 0.2 17.7-1.1 53.1-5.8 81.4-11.2 28.4-2.6 17.7-0.3 14.1 0.8 14.2 2.7 28.3 7 10.6 1.4 10.7 0.3 14.1-0.7 31.9-3.7 17.7-1.4 106.2-5.1 83.8-5.6" stroke="#EDB120"/>
<path d="M267.7 1221.7l35.4 7.1 14.2 1.2 10.6-0.7 28.3-4.7 14.2-1.4 21.2-0.4 49.6 0.7 17.7-0.8 10.6-2.2 7.1-3.2 7.1-4.9 14.1-13.6 7.1-5.9 7.1-4.1 7.1-2.6 7.1-1.6 10.6-1.4 60.2-5.8 21.2-1.4 14.2-0.2 17.7 0.7 49.6 4.5 21.2 1.4 21.3 0.6 21.2 0 63.7-1 3.6-8.8 240.7-3.5 92.1 0 49.6 2.4 10.6-0.3 31.9-2.4 21.2-0.6 254.9-2.8 53.1-1.3 67.3 1.3 77.9-3.7 74.4-6.7 28.3-1.5 14.2 0.2 14.1 0.8 10.6 1.4 35.5 5.8 10.6 0.9 10.6 0.3 63.7-3.4 106.3-2.2 80.2-2.2" stroke="#EDB120"/>
<path d="M267.7 1186.3l10.6 3 24.8 8.3 7.1 1.5 7.1 0.8 10.6-0.5 24.8-4.5 14.1-1.5 14.2-0.2 42.5 1.7 10.6-0.4 10.6-1.6 7.1-2.3 7.1-3.8 7.1-5.9 3.5-3.9 7.1-9.4 17.7-29.1 7.1-10.4 7.1-8.3 7.1-6.3 7-4.5 10.7-4.7 56.6-16.6 14.2-3.6 10.6-1.9 10.6-0.9 10.6 0.1 7.1 0.7 10.6 1.7 46.1 12 14.1 2.7 10.7 1.4 14.1 1 17.7-0.2 17.7-1.3 17.7-2.3 17.7-3 17.7-3.6 3.6-8.9 21.2-5.3 28.3-7.9 138.1-40.5 17.7-4.4 17.7-2.9 14.2-1.1 14.2-0.5 127.4-0.6 67.3-2.3 180.6-3.2 74.3-3.4 42.5-4.5 14.2-0.8 14.2 0.4 31.8 2.9 14.2 0.2 17.7-1.6 53.1-7.8 28.3-4.9 53.1-10.5 17.7-2.6 14.2-1.2 14.2-0.4 14.1 0.9 10.6 1.9 31.9 8.3 10.6 1.3 14.2 0.4 14.2-0.5 38.9-2.7 99.1-5.6 49.6-3.8 48.4-4.5" stroke="#D95319"/>
<path d="M267.7 1090.4l10.6 2.6 17.7 5.9 7.1 1.9 7.1 1 7.1-0.2 10.6-2.7 28.3-12.9 14.2-4.5 14.1-2.6 46.1-5.3 10.6-2.1 10.6-3.2 10.6-5 10.7-7.5 7-6.4 24.8-25.2 7.1-5.9 7.1-5.1 38.9-23.3 31.9-23.1 10.6-7.1 10.6-5.6 10.7-3.4 7.1-0.8 7 0.5 7.1 1.6 7.1 2.7 10.6 5.6 28.3 18.7 10.7 6.2 7 3.3 7.1 2.6 10.7 2.5 7 0.6 7.1-0.2 7.1-1.1 10.6-3.1 7.1-3.1 7.1-4 7.1-4.7 7-5.7 10.7-10.3 7-8 7.1-9 10.7-15.4 10.6-17.1 7.1-13 17.7-35.9 21.2-48.6 28.3-70.5 31.9-83.4 63.7-170.4 17.7-44.3 10.7-22.3 7-11.6 7.1-8.4 3.6-3 7-4.3 3.6-1.4 7.1-1.9 10.6-1.2 14.1-0.6 56.7-0.6 63.7-2.2 60.2-4.7 113.3-7.6 56.7-4.5 49.5-5 42.5-5.4 10.7-2.3 31.8-9.2 7.1-1.4 7.1-0.7 7.1 0.3 7.1 1.2 24.7 7.4 7.1 1.7 7.1 0.9 7.1-0.2 7.1-1.3 10.6-3.3 28.3-12.4 24.8-9.8 14.2-6.6 14.1-7.4 39-22.5 14.1-7.6 10.7-4.8 7-2.7 7.1-2.1 7.1-1.5 7.1-0.9 7.1 0 7 0.6 7.1 1.8 3.6 1.5 7 4.1 24.8 19.2 7.1 4.5 7.1 3.1 3.5 0.8 7.1 1 7.1 0.2 14.2-1.5 42.4-8.6 56.7-8.5 38.9-6.9 49.6-10.9 48.4-12.9" stroke="#D95319"/>
<path d="M267.7 1232.6l49.6 1.9 95.6 1.7 21.2-0.2 14.2-1.5 10.6-2.9 7.1-3.4 3.5-2.2 10.6-9.1 21.3-22.6 7.1-5.8 10.6-5.9 10.6-3.6 14.2-3 53.1-9.1 14.1-1.8 10.7-0.8 14.1 0 14.2 1 53.1 8.1 28.3 2.6 17.7 0.6 21.3-0.1 28.3-1 28.3-1.6 3.6 1.9 53.1-4.6 138.1-13.6 28.3-1.8 134.5-0.7 262.1-2.5 84.9-1.8 56.7-2.5 14.2 0.2 31.8 1.5 17.7 0 70.8-4.8 28.4-2.7 53.1-6.1 17.7-1.3 14.1-0.6 14.2 0.2 10.6 0.7 10.6 1.3 35.5 6.1 21.2 1 60.2-3.1 106.2-3.1 83.8-3.6" stroke="#A2142F"/>
<path d="M267.7 1196.3l10.6 2.1 24.8 6.2 7.1 0.8 7.1-0.1 7.1-1.1 7-1.9 28.4-9.5 14.1-2.9 17.7-1.8 53.1-3 17.7-2.2 10.7-2.9 7-3.4 7.1-4.8 17.7-14.6 7.1-4.4 7.1-3.1 10.6-3 31.9-7 38.9-10.2 17.7-3 14.2-0.6 14.2 1.3 14.1 2.7 42.5 10.7 14.2 2.4 14.1 1.5 17.7 0.7 17.7-0.5 17.7-1.4 17.7-2.4 24.8-4.7 3.6 0.2 24.8-6.1 46-13.2 116.8-35.8 17.7-4.3 17.7-2.6 28.4-1.1 131-0.6 56.6-1.4 177.1-3.1 84.9-2.7 42.5-3.1 14.2-0.6 14.2 0.4 31.8 2.3 14.2 0.2 17.7-1.2 56.6-6.3 24.8-3.4 53.1-8.2 17.7-2.1 14.2-0.9 14.2-0.2 14.1 0.8 10.6 1.7 31.9 7 10.6 1.3 14.2 0.3 14.2-0.6 46-3.1 109.8-5 80.2-5.3" stroke="#4DBEEE"/>
<path d="M267.7 1318.7l35.4 6 10.6 0.5 7.1-0.5 14.2-2.9 24.8-7.1 31.8-8.2 17.7-5.9 17.7-8.1 17.7-10 42.5-26.7 14.2-7.5 17.7-7.6 24.8-8 28.3-7 28.3-5.4 21.3-2.4 14.1-0.3 14.2 0.6 53.1 5.8 24.8 1.9 24.8 0.8 31.8 0.3 56.7-0.6 201.8-3.9 378.9-1.2 166.4-1.5 67.3 0.6 77.9-2.5 24.7-1.8 49.6-4.4 24.8-1.1 14.2 0.3 14.1 1 46.1 7 10.6 1 10.6 0.4 67.3-3.1 182.9-2.4" stroke="#0072BD"/>
<path d="M267.7 1155.6l10.6 3 17.7 6.7 7.1 2.3 7.1 1.3 7.1 0 7.1-1.2 7-2.3 17.7-7.6 10.7-4 14.1-3.3 17.7-1.8 53.1-2.3 10.7-1.1 7-1.3 7.1-2.2 3.6-1.7 7-4.6 7.1-6.7 14.2-17.7 7.1-8 7.1-6.1 7-4.3 10.7-4.2 28.3-8.4 35.4-11.9 10.6-2.9 10.6-2 14.2-0.7 14.2 1.6 14.1 3.6 42.5 13.6 14.2 3.3 17.7 2.5 21.2 1.3 21.3-0.3 21.2-1.8 21.3-3.3 7-1.3 3.6-8.1 28.3-6.8 31.9-9.1 134.5-42.4 14.2-3.6 14.1-2.1 21.3-0.9 81.4-0.3 56.7 0.9 46-2.4 35.4-0.6 49.6 0.1 85 1.2 46-0.6 28.3-1.4 28.3-2 39-4.7 17.7-1.4 14.2 0 35.4 2.1 10.6-0.1 10.6-0.8 70.8-9 74.4-11.8 14.1-1.7 14.2-1.1 14.2-0.2 14.1 0.8 10.6 1.8 31.9 7.5 10.6 1.3 14.2 0.3 14.2-0.7 46-3.5 109.8-5.6 80.2-6" stroke="#77AC30"/>
<path d="M267.7 1170.6l35.4 7.9 7.1 1 7.1 0.3 10.6-0.8 28.3-5.2 14.2-1.5 17.7-0.5 53.1 0.6 10.6-0.7 7.1-1.3 7.1-2.6 3.5-2.1 7.1-6.4 7.1-9.7 10.6-18.4 7.1-11 7.1-8.1 7.1-5.1 7-3.1 7.1-2 31.9-6.3 35.4-8.3 14.1-2.5 17.8-1.4 17.7 1.1 14.1 2.4 42.5 9 14.2 1.9 17.7 1.3 17.7-0.1 17.7-1.3 17.7-2.5 17.7-3.9 21.2-6.5 3.6-11.8 28.3-11.5 35.4-17 35.4-18.4 81.5-44.1 17.7-9.1 10.6-4.8 7.1-2.5 7-2 7.1-1.2 10.6-1.1 14.2-0.4 134.6-1 120.3-5.2 116.9-7.4 31.8-1.2 46.1-1 46-3 17.7 0.6 39 4.9 14.1 0 14.2-1.4 53.1-8.3 24.8-4.6 56.6-11.5 14.2-2.2 14.2-1.5 17.7-0.6 14.1 1 14.2 3.4 28.3 9.2 10.6 1.7 10.7 0.4 14.1-0.9 46-5.6 106.3-7.2 42.5-3.7 44.8-4.7" stroke="#0072BD"/>
<path d="M267.7 1166.7l10.6 2.5 17.7 5.9 7.1 1.9 7.1 0.9 7.1-0.4 3.5-0.7 7.1-2.4 28.3-14.3 14.2-5.1 14.1-3.1 42.5-6 10.7-2.4 10.6-3.9 7.1-3.9 3.5-2.6 7.1-6.7 3.5-4.2 3.6-4.9 7-11.5 14.2-26.6 7.1-12.2 7.1-10.1 3.5-4.1 7.1-6.5 7.1-4.8 10.6-5.1 53.1-19.7 14.2-4.7 10.6-2.5 10.6-1.2 7.1-0.1 10.6 1.1 7.1 1.4 10.6 2.9 31.9 11.2 17.7 5 17.7 3.1 17.7 1 10.6-0.2 10.6-1 10.7-1.7 10.6-2.6 10.6-3.5 7.1-3 10.6-5.2 10.6-6.1 3.6 3.7 10.6-7.3 14.2-10.8 28.3-24 35.4-32.3 74.3-69.9 21.3-18.9 10.6-8.1 10.6-6.5 7.1-3 10.6-2.9 14.2-1.7 17.7-0.7 81.4-0.5 46.1 0.4 46-2.9 31.9-0.9 49.5-0.1 88.6 1.7 24.7-0.3 21.3-0.9 28.3-2.3 28.3-3.2 39-7.6 17.7-2.3 14.2 0 35.4 3.7 10.6-0.2 10.6-1.3 70.8-15 21.3-5.7 53.1-15.2 14.1-2.9 14.2-1.8 14.2-0.4 14.1 1.5 10.6 3.1 24.8 10.6 7.1 2.6 10.6 2.2 14.2 0.7 14.2-1 46-5.9 63.7-4.9 42.5-4 42.5-4.9 41.3-5.5" stroke="#A2142F"/>
<path d="M267.7 1144.4l35.4 2.8 17.7 0.2 49.6-4.3 70.8-1.8 10.6-1.1 10.6-2.4 7.1-3 3.6-2.1 7-6.1 3.6-4 7.1-10.1 14.1-25.4 7.1-11.6 7.1-9.3 3.5-3.7 7.1-5.8 7.1-4.3 7.1-3.5 49.5-21.3 14.2-5 10.6-2.4 7.1-0.8 7.1-0.1 7.1 0.7 7.1 1.3 14.1 4.3 31.9 12.9 14.1 4.7 14.2 3.4 17.7 2.1 10.6 0.3 10.7-0.5 10.6-1.1 10.6-1.7 21.2-5.3 10.7-3.5 14.1-5.5 3.6 23.3 24.8-11.8 28.3-15.4 35.4-20.6 70.8-42.5 21.3-12.1 10.6-5.3 10.6-4.3 10.6-3 10.6-1.8 10.7-0.9 17.7-0.6 127.4-0.4 70.8-2.5 177.1-2.9 74.3-3.4 42.5-4.6 14.2-0.8 14.2 0.3 31.8 2.9 17.7 0 17.7-1.9 53.1-8 28.4-5.4 53.1-11.8 17.7-2.7 14.1-1 14.2 0.2 10.6 1.2 10.6 2.6 24.8 8.8 10.7 3 10.6 1.5 10.6 0.4 14.2-0.9 28.3-3.5 17.7-1.7 102.7-6.1 42.5-3.4 44.8-4.1" stroke="#D95319"/>
<path d="M267.7 1096.6l53.1 0.2 95.6-1.6 14.2-0.9 10.6-1.6 7.1-1.9 7.1-3 7-4.4 3.6-3 7.1-7.7 3.5-4.8 7.1-11.2 14.1-25.5 7.1-11.6 7.1-9.6 7.1-7.7 10.6-8.8 31.9-21.6 35.4-27.1 7.1-4.6 7-3.7 10.7-3.5 7.1-0.8 7 0.5 7.1 1.8 7.1 3 7.1 3.9 7.1 4.7 24.7 18.3 10.7 7 7 4 7.1 3.2 10.7 3.5 7 1.2 7.1 0.6 7.1-0.3 7.1-1 7.1-1.7 7-2.3 14.2-6.3 14.2-8.1 10.6-7.3 10.6-8.4 10.6-9.4 3.6 3.5 10.6-10.6 21.2-23.4 28.4-33.9 35.4-44.4 77.9-99.4 21.2-25.8 10.6-11 7.1-5.8 7.1-4.2 3.5-1.6 7.1-2.1 10.6-1.6 14.2-0.7 60.2-0.5 67.3-1.3 95.6-5 49.5-3.4 99.2-8.5 31.8-1.8 46.1-2 35.4-4.2 10.6-0.8 10.6 0 7.1 0.7 31.9 6.1 10.6 1.2 7.1 0 7.1-0.6 10.6-1.9 56.6-13.8 24.8-7.6 42.5-15.4 14.2-4.6 14.1-3.7 14.2-2.2 14.2-0.3 7 0.7 7.1 1.4 10.6 4.1 24.8 13.7 10.7 4.7 10.6 2.2 10.6 0.4 14.2-1.4 28.3-5.3 14.1-2.2 70.9-6.8 35.4-3.9 42.5-5.6 44.8-7.1" stroke="#77AC30"/>
<path d="M267.7 1146.1l49.6 0.6 53.1-2.3 70.8-1.5 17.7-1.2 7.1-1.1 7.1-1.9 7-3.5 3.6-2.6 7.1-7.6 7-11.1 17.8-33.4 7-9.8 7.1-6.7 7.1-4.7 7.1-3.6 46-19.5 14.2-5.4 14.1-3.5 7.1-0.8 7.1-0.1 7.1 0.6 7.1 1.4 14.1 4.3 28.3 11.4 14.2 5.1 14.2 3.6 17.7 2.5 10.6 0.3 10.6-0.4 14.2-1.6 10.6-2 10.6-2.8 10.6-3.5 10.7-4.2 14.1-6.7 3.6 10 24.8-14.6 31.8-21.9 39-28.9 77.9-59.7 21.2-15.3 10.6-6.6 7.1-3.5 7.1-2.7 10.6-2.6 10.6-1.3 14.2-0.7 123.9-1.2 88.5-3.2 53.2-3.3 88.5-7.8 38.9-2 60.2 0 31.9-1 14.1-0.1 14.2 1 35.4 4.8 10.6 0.6 10.7-0.3 14.1-1.5 53.1-7.5 24.8-4.4 56.7-11.5 17.7-2.5 14.1-1 14.2 0.1 10.6 1.1 14.2 3.5 28.3 9.4 10.6 1.9 10.7 0.5 14.1-0.7 31.9-4.1 17.7-1.8 102.7-6.2 42.5-3.4 44.8-4.2" stroke="#0072BD"/>
<path d="M267.7 1138.6l49.6 0.8 99.1-0.4 21.3-1 7-0.9 7.1-1.6 7.1-2.7 3.5-1.8 7.1-5.2 3.6-3.3 7-8.3 14.2-19.4 7.1-8.6 7.1-6.8 7.1-5.2 10.6-5.6 21.2-9 10.6-5.1 42.5-23.9 10.6-4.5 10.7-2.6 7.1-0.6 7 0.4 7.1 1.3 7.1 2.2 14.2 6.5 24.7 13.9 10.7 5.3 14.1 5.4 14.2 3.2 14.2 1 7-0.3 10.7-1.5 10.6-2.6 7.1-2.5 10.6-4.6 7.1-3.8 14.1-9.3 7.1-5.6 10.6-9.6 3.6-32.7 10.6-11.2 14.2-16.7 14.1-18.2 17.7-24.3 39-56.7 77.9-117.2 17.7-24.9 10.6-12.5 7.1-6.3 7.1-4.6 7-2.9 10.7-2.2 17.7-1.1 84.9-0.7 46.1 0.3 60.2-4.4 127.4-4.6 53.1-2.4 39-2.5 38.9-3.2 10.7-1.5 31.8-5.9 14.2-1.3 14.2 0.8 31.8 5.4 7.1 0.5 7.1-0.2 7.1-0.7 10.6-2.1 56.6-14.6 24.8-7.9 42.5-16 14.2-4.9 14.1-3.8 14.2-2.3 14.2-0.4 7 0.5 7.1 1.3 10.6 3.7 24.8 12.7 7.1 3.1 10.6 2.7 14.2 0.9 14.2-0.8 42.4-5.4 60.2-5.5 35.4-3.9 49.6-6.6 48.4-7.8" stroke="#A2142F"/>
<path d="M267.7 1193.8l10.6 3.6 17.7 7.8 7.1 2.6 7.1 1.6 7.1 0.2 3.5-0.4 7.1-1.9 28.3-12.4 7.1-2.4 7.1-1.7 17.7-2.1 38.9-2 17.7-2.5 10.7-3 10.6-4.9 7.1-4.4 24.7-17.7 7.1-4 7.1-3.2 14.2-4.7 35.4-9.2 35.4-11 10.6-2.6 10.6-1.8 14.2-0.6 14.2 1.4 14.1 3.2 28.3 8.4 14.2 3.6 14.2 2.6 10.6 1.1 14.2 0.4 14.1-0.9 17.7-2.3 24.8-4.1 28.3-5 3.6-23.9 56.6-11 131-26.8 17.7-3.2 10.7-1.3 21.2-0.9 88.5-0.2 60.2 1.1 53.1-2.4 127.5-1.9 134.5-2.8 53.1-2.4 17.8 0.3 35.4 1.9 14.1 0 17.7-1.1 53.1-4.4 28.4-3 53.1-6.7 17.7-1.5 14.1-0.6 14.2 0.1 10.6 0.6 10.6 1.4 31.9 5.6 10.6 1.1 14.2 0.3 60.2-2.6 106.2-3.5 83.8-4" stroke="#D95319"/>
<path d="M267.7 1212.3l35.4 5.1 7.1 0.5 7.1-0.1 10.6-1.4 24.8-5.9 14.1-2.6 17.7-1.8 46.1-2.9 10.6-1.5 10.6-2.7 7.1-3.2 3.5-2.2 7.1-5.9 3.6-3.8 7-9.5 14.2-22.6 7.1-10.1 7.1-7.9 7.1-5.7 7-4 7.1-3 31.9-10.3 35.4-13 14.1-3.9 10.7-1.7 7.1-0.4 7 0.2 7.1 0.9 14.2 3.2 31.8 10.7 14.2 4 14.2 2.6 10.6 0.6 14.2-0.9 14.1-3 7.1-2.3 10.6-4.1 17.7-8.8 17.7-10.9 17.7-13.4 3.6-52.8 10.6-9.4 14.2-13.8 28.3-30.3 38.9-44.8 74.4-87.9 17.7-19.8 10.6-10.2 7.1-5.4 7.1-4 7.1-2.5 10.6-2.1 14.1-0.9 63.8-0.4 77.9-1.2 49.5-3.3 63.8-3.5 42.5-3 92-7.4 70.8-4.4 10.7-1.2 28.3-4.6 14.1-1.4 7.1 0 10.7 1.3 31.8 6.5 7.1 0.7 7.1 0 7.1-0.8 10.6-2.1 28.3-8 24.8-6.3 24.8-7.8 56.6-19.7 17.7-4.6 14.2-2.3 14.2-0.6 7 0.4 7.1 1 10.6 3.7 24.8 12.5 7.1 3 7.1 2 3.5 0.5 14.2 0.6 14.2-1.4 42.4-6.7 63.8-6.6 42.5-5.2 42.5-6.4 44.8-8" stroke="#4DBEEE"/>
<path d="M267.7 1255.8l10.6 2.6 24.8 7.2 7.1 1.3 7.1 0.4 10.6-0.8 28.3-5.8 14.2-1.6 21.2-0.3 49.6 1.6 10.6-0.2 7.1-0.7 7.1-1.5 3.5-1.3 7.1-4.2 3.5-3 7.1-7.8 14.2-18.3 7.1-6.8 3.5-2.5 7.1-3.6 10.6-3 31.9-5.1 38.9-7 14.2-1.8 10.6-0.6 10.6 0.1 14.2 1.1 46 7.3 17.7 1.9 21.3 0.4 21.2-2.1 70.8-12.9 3.6-6.1 28.3-5.9 31.9-7.5 131-34.1 17.7-3.7 17.7-2.2 28.3-1.1 70.8-0.1 17.7 0.4 28.4 1.8 10.6 0.2 53.1-3.4 198.3-4.5 70.8-0.6 49.5-1.1 14.2 0.3 39 1.8 17.7 0 53.1-3.2 21.2-1.7 24.8-2.8 53.1-7.4 24.8-1.7 14.2 0.1 14.1 1.2 10.6 1.7 35.5 7.5 10.6 1.1 10.6 0.4 14.2-0.3 49.5-2.9 102.7-2.7 83.8-3.1" stroke="#77AC30"/>
<path d="M267.7 1172.4l35.4 5.7 14.2 1.1 10.6-0.5 24.8-2.8 14.1-1.1 17.7-0.3 49.6 0.7 10.6-0.6 7.1-1.1 7.1-2.3 3.5-1.9 7.1-5.8 7.1-8.9 10.6-16.8 7.1-9.9 7.1-7 7.1-4.4 10.6-3.7 38.9-8 42.5-12.2 17.7-3.3 14.2-0.6 14.2 1.4 14.1 3 42.5 11.7 14.2 2.6 14.1 1.6 21.3 0.6 24.8-1.6 10.6-1.4 14.1-2.7 24.8-6.4 3.6 8.5 24.8-8.5 28.3-11 109.7-46.7 21.3-8.6 17.7-5.6 7.1-1.6 10.6-1.5 10.6-0.8 17.7-0.4 77.9-0.2 17.7 0.4 28.4 2.1 10.6 0.2 10.6-0.5 28.3-3.1 17.7-1 138.1-3.3 120.4-3.6 28.3-1.4 7.1 0.1 10.6 1.7 7.1 2.7 3.5 2 7.1 5.2 14.2 12.9 7.1 5.2 3.5 1.7 3.6 0.9 3.5 0.1 3.5-0.7 7.1-3.1 7.1-5.1 3.5-3.6 3.6-106.8 3.5 6.6 10.6 14.1 3.6 7 3.5 9.6 7.1 22.3 3.5 8.6 3.6 4.8 3.5 0.5 3.6-2.5 7.1-6.7 3.5-1.3 3.5 0.4 10.7 6.1 3.5 1.5 3.5 1 7.1 0.9 10.6 0.1 14.2-0.6 63.7-7.1 14.2-0.9 14.2-0.1 10.6 0.5 10.6 1.4 28.3 6.7 10.7 2.1 17.7 1 14.1-0.4 49.6-3.6 106.2-5.1 83.8-5.9" stroke="#4DBEEE"/>
<path d="M267.7 1184.4l10.6 1.7 24.8 5.4 7.1 0.7 7.1-0.1 10.6-1.5 28.3-7.6 14.2-2.6 17.7-1.6 46-2.1 17.7-1.8 10.6-2 10.7-3.4 7-3.1 21.3-10.8 7.1-2.9 10.6-3.2 14.2-2.7 63.7-9.4 14.1-1.7 10.7-0.7 14.1 0 14.2 0.9 56.6 8.1 35.5 3.4 42.4 2.5 42.5 0.4 3.6-10.4 212.4-4.5 159.4-0.6 251.3-2.9 77.9-1.8 56.7-2.8 14.2 0.2 31.8 1.6 14.2 0.1 17.7-0.9 53.1-4.2 85-9.1 17.7-1.4 14.1-0.5 14.2 0.2 10.6 0.8 14.2 2.3 21.2 4.9 10.7 2 10.6 1 10.6 0.1 14.2-1 31.8-3.5 17.7-1.2 106.3-3.6 80.2-3.8" stroke="#7E2F8E"/>
<path d="M267.7 1247.2l10.6 2.5 24.8 7.3 10.6 1.3 7.1-0.4 10.6-2.4 24.8-8.1 14.2-2.9 17.7-1.6 49.6-1.7 17.7-2.2 7-1.9 7.1-2.6 21.3-11.2 7-3.3 7.1-2.5 10.7-2.4 46-5.3 38.9-5.2 21.3-1.7 14.1 0 14.2 0.8 53.1 6.5 28.3 1.8 14.2 0 17.7-0.6 63.7-4.5 3.6 15.3 187.6-17 21.3-1.6 17.7-0.7 102.7-0.3 53.1 2.3 42.5-2.5 21.2-0.5 230.2-1.8 77.8-1.5 53.2 1 17.7-0.1 74.3-3.2 28.3-2.3 49.6-5 24.8-1.2 14.2 0.1 14.1 0.9 46.1 6.9 21.2 1.3 14.2-0.3 49.5-2.1 186.5-3.6" stroke="#D95319"/>
<path d="M267.7 1286.5l35.4 8.5 14.2 2.2 10.6 0.3 28.3-1.2 14.2 0.1 17.7 1.2 46 4.2 21.3 0.9 10.6-0.5 10.6-1.5 10.6-2.7 21.3-6.6 17.7-3.9 60.2-7.7 21.2-2.2 17.7-0.9 17.7 0.3 14.2 1 46 4.8 17.7 1 14.2 0 17.7-0.9 42.5-3.7 31.8-1.1 3.6-6.6 325.7 0.7 56.7 1.5 63.7-1.6 396.6-0.2 67.2-1 67.3-3.6 24.8-0.6 28.3 1 46.1 4.3 21.2 0.9 74.4-1.3 175.8-0.3" stroke="#0072BD"/>
<path d="M267.7 1115.1l35.4 6.1 14.2 1.2 10.6-0.3 28.3-2.8 14.2-0.7 17.7 0.1 42.5 1.2 14.1-0.1 10.7-1 10.6-2.7 7.1-3.6 3.5-2.7 7.1-7.3 7.1-10.4 17.7-33.6 7.1-11.9 7-9.5 7.1-7.5 7.1-6 28.3-21.8 31.9-26.7 7.1-5 7-4.1 7.1-2.9 3.6-1 7.1-1 7 0.5 7.1 1.9 7.1 3.1 10.6 6.5 28.3 21.6 10.7 7.1 7 3.9 7.1 3 10.7 3 7 0.9 7.1 0 7.1-0.8 7.1-1.6 7.1-2.5 7-3.2 7.1-4.1 7.1-5 10.6-9.1 10.6-11 10.7-12.9 14.1-19.7 3.6-16.3 10.6-17 14.2-24.3 14.1-25.8 17.7-33.8 35.4-70.5 70.8-144.9 17.8-34.3 10.6-18.1 7.1-10 3.5-4.2 7.1-6.8 3.5-2.6 7.1-3.8 7.1-2.3 7.1-1.3 17.7-1.3 84.9-1.2 35.5 0.9 14.1-0.5 46-6.4 120.4-9.7 145.2-15.2 14.2-2.6 28.3-7.9 14.1-2.4 7.1-0.2 7.1 0.9 7.1 1.7 21.2 6.8 7.1 1.8 7.1 1 7.1-0.2 7.1-1.2 10.6-3.4 28.3-12.3 24.8-9.6 24.8-11.7 38.9-20.8 17.7-8.7 17.7-6.9 14.2-3.4 7.1-0.9 7.1-0.2 7 0.5 7.1 1.4 3.6 1.4 7 3.7 24.8 18.1 7.1 4.2 7.1 2.8 3.5 0.7 7.1 0.7 7.1-0.1 14.2-1.8 42.4-9.1 60.2-9.2 39-7.1 46-10.4 48.4-13.1" stroke="#4DBEEE"/>
<path d="M267.7 1205.2l35.4 3.7 14.2 0.3 10.6-1 24.8-4 14.1-1.7 17.7-1.2 49.6-1.8 10.6-0.9 10.7-1.8 7-2.3 3.6-1.7 7.1-4.7 3.5-3.1 7.1-8 10.6-14.2 7.1-8.7 7.1-6.6 7.1-4.6 7-3.2 7.1-2.3 31.9-8.4 38.9-12.5 14.2-3.2 14.2-1.2 7 0.2 10.7 1.4 14.1 3.3 28.3 8.8 14.2 3.8 14.2 2.6 14.1 1.3 17.7-0.5 17.7-2.4 31.9-6.7 28.3-7.3 3.6 6 28.3-9 31.9-11.5 138.1-54.5 17.7-5.6 14.1-2.4 14.2-0.9 24.8-0.3 67.2-0.2 49.6 0.8 46-2.3 269.1-7 53.1-2.5 17.8 0.4 31.8 2.5 17.7 0.1 17.7-1.3 56.7-5.7 81.4-11 14.2-1.3 14.1-0.7 14.2 0.2 10.6 0.8 10.6 1.8 24.8 6.3 10.7 2.2 10.6 1 10.6 0.1 10.6-0.6 31.9-3.6 17.7-1.4 106.2-4.7 83.8-5.1" stroke="#0072BD"/>
<path d="M267.7 1131.4l10.6 3.7 24.8 10.4 7.1 1.8 7.1 0.6 10.6-1.4 28.3-9.1 14.2-2.7 14.1-0.8 42.5 0.2 10.7-1 10.6-2.4 7.1-2.9 3.5-2.1 7.1-5.3 10.6-11.5 14.2-18.8 7-8.6 7.1-7.1 10.7-7.7 10.6-5.4 35.4-13.9 35.4-16.3 10.6-4 10.6-2.6 7.1-0.9 7.1-0.1 7.1 0.7 7.1 1.5 14.1 4.7 28.3 12.6 14.2 5.6 14.2 4 10.6 1.9 14.2 1.1 17.7-0.7 17.7-2.5 21.2-4.8 14.2-4.2 14.1-4.8 3.6-7.1 24.8-10.5 28.3-13.7 35.4-18.5 70.8-38.3 17.7-9.1 10.6-4.8 10.7-3.9 7-2 10.7-2.1 14.1-1.3 24.8-0.7 81.4-0.3 46.1 0.6 56.6-2.8 180.6-4.2 81.4-3.2 42.5-4 14.2-0.7 14.2 0.4 31.8 3.1 17.7 0 17.7-1.9 56.7-8.3 24.8-4.7 53.1-11.9 14.1-2.2 14.2-1.4 14.2 0 14.1 1.5 10.6 2.7 24.8 9 10.7 3.1 10.6 1.5 10.6 0.4 14.2-1 28.3-3.6 17.7-1.8 106.2-6.3 83.8-7" stroke="#7E2F8E"/>
<path d="M267.7 1252.9l35.4 2.7 17.7 0.9 49.6 0.3 70.8 2.2 10.6-0.3 10.6-1.4 7.1-2.4 3.6-1.9 7-5.7 7.1-8.8 14.2-22.8 7.1-9.7 7.1-6.9 7-4.3 10.7-3.8 10.6-2.1 56.6-9.7 21.3-2.2 14.1-0.1 14.2 1.1 53.1 8.5 14.2 1.6 14.1 1 17.7 0.4 17.7-0.3 60.2-2.9 3.6 8.6 60.2-4.2 138.1-11.3 28.3-1.4 102.7-0.2 14.1 0.5 28.4 2 10.6 0.4 10.6-0.4 31.9-2.7 21.2-0.6 254.9-2.5 53.1-1.1 67.3 1.1 70.8-2.8 85-5.5 28.3-0.9 24.8 0.8 14.2 1.5 31.9 4.5 21.2 0.8 63.7-3.7 186.5-3.9" stroke="#0072BD"/>
<path d="M267.7 1092.5l24.8-0.5 24.8-1.4 35.4-2.9 38.9-3.9 14.2-2.3 14.2-3.4 14.1-4.9 3.6-2.7 3.5-5.8 3.5-8 31.9-86 3.5-7.5 7.1-12.4 28.4-43 46-66 10.6-14.4 10.6-12 17.7-16.1 10.6-8.4 7.1-4.2 7.1-2.4 7.1-0.2 7.1 1.8 7.1 3.4 31.8 21.3 7.1 5.7 21.2 20.1 7.1 6.1 7.1 5 7.1 3.4 7.1 1.4 3.5-0.2 7.1-1.7 3.5-1.5 7.1-4.2 10.6-8.5 14.2-14.4 10.6-12.4 3.6-5.8 7-14.4 17.8-41.1 17.7-37.1 14.1-34.5 7.1-19.8 14.2-49 7-21.5 7.1-16.5 7.1-14.4 17.7-31.1 7.1-11.1 21.2-31 28.4-46.3 14.1-19.5 10.6-13 10.7-10.7 14.1-11.4 17.7-11.7 21.3-12.1 24.8-11.3 21.2-8.1 14.2-3.4 28.3-4.2 60.2-5.5 88.5-5.8 74.4-6.5 102.6-11.2 49.6-6.8 17.7-1.9 17.7-0.9 46.1 0 7-0.8 7.1-2.4 10.6-5.3 7.1-4.5 3.6-3.3 7-8 10.7-14 3.5-5.7 7.1-15.1 3.5-6.2 3.6-3 7 0.8 10.7 3.3 7.1 1.6 3.5 0.1 3.5-0.5 7.1-2.5 21.3-11.6 67.2-28.1 14.2-4.9 10.6-3 14.2-2.8 10.6-1.1 7.1-0.1 3.5 0.6 3.6 1.3 3.5 1.8 7.1 4.9 17.7 15 7.1 5.1 7.1 3.4 3.5 0.9 3.5 0.1 3.6-0.5 3.5-1.1 7.1-3.3 21.2-14.3 7.1-3.9 49.6-21.2 42.5-16.9 35.4-12.8 31.9-10.2 31.8-8.7 30.7-6.7" stroke="#EDB120"/>
<path d="M267.7 1201.8l10.6 3.8 24.8 10.7 7.1 1.9 7.1 0.5 7.1-0.6 7-1.8 17.7-6.3 10.7-3.1 14.1-2.3 17.7-0.5 46.1 1.3 17.7-0.8 10.6-2 10.6-4 7.1-4 21.2-14.1 7.1-3.6 10.6-3.8 17.7-3.5 53.1-7.4 17.7-1.9 14.2-0.8 10.6 0.1 14.2 0.9 53.1 6.5 17.7 1.5 14.2 0.6 92-0.4 3.6 2.2 208.9 3.9 120.4 0.3 14.1 0.4 28.4 2.2 10.6 0.4 10.6-0.4 31.9-2.8 21.2-0.6 251.4-2.4 56.6-1.2 53.2 1.1 17.7-0.1 70.8-2.9 77.9-5.2 28.3-1.2 28.3 0.6 46.1 5.1 21.2 0.7 63.7-2.4 102.7-1.8 83.8-2" stroke="#77AC30"/>
<path d="M267.7 1080l49.6-1.4 95.6-5.9 21.2-2.6 7.1-1.7 7.1-2.5 7.1-3.8 3.5-2.5 7.1-6.6 3.5-4.1 7.1-9.6 17.7-26.9 7.1-8.6 7.1-6.8 10.6-7.5 24.8-13.5 10.6-6.7 14.2-10.6 24.7-20.5 10.7-7.6 10.6-5.6 7.1-2.2 7.1-0.9 7 0.5 7.1 1.8 7.1 3.1 7.1 4.1 7.1 4.9 21.2 16.3 10.6 7.5 7.1 4.1 7.1 3.5 10.6 3.4 10.6 1.3 7.1-0.3 7.1-1.2 7.1-2.2 7.1-3 7-3.8 7.1-4.6 14.2-11 14.1-13.4 10.7-11.6 14.1-17.7 3.6 4.9 14.1-20.5 10.7-16.8 14.1-23.7 28.3-50.9 35.5-67.1 67.2-130.7 21.3-38.9 10.6-16.5 7.1-8.9 3.5-3.7 7.1-5.9 3.5-2.2 7.1-3.2 10.6-2.7 17.7-1.5 124-1.9 53.1-5.9 77.9-5.9 53.1-4.7 81.4-8.4 53.1-6.2 10.7-2.3 28.3-8.2 14.1-2.5 7.1-0.2 7.1 0.8 7.1 1.8 21.2 6.9 7.1 1.8 7.1 1 7.1-0.1 7.1-1.3 10.6-3.4 28.3-12.7 28.3-11.2 21.3-10 38.9-19.8 17.7-8.1 17.7-6.5 14.2-3.4 14.2-1.4 7 0.2 7.1 1 3.6 1.1 7 3.3 24.8 15.8 7.1 3.6 7.1 2.2 3.5 0.5 14.2 0.2 14.2-1.5 38.9-6.7 53.1-7.8 39-6.9 24.8-5.2 28.3-6.7 24.8-6.5 27.1-7.9" stroke="#7E2F8E"/>
<path d="M267.7 1249.6l35.4 0.1 17.7-0.5 42.5-3.4 53.1-3.1 17.7-1.8 10.6-1.8 10.7-2.8 10.6-3.8 24.8-10.6 7-2.4 10.7-2.7 14.1-2.3 35.4-4 39-5.2 24.8-2.1 14.1 0 14.2 0.9 53.1 6.6 31.9 2.8 49.5 2.3 21.3-0.1 21.2-0.6 3.6 1.9 191.2-10.6 31.8-1.2 106.3-0.2 56.6 0.4 53.1-1.1 244.3-1.9 74.4-1.5 63.7 1 74.4-3 81.4-5.8 28.3-0.9 24.8 1 14.2 1.8 31.9 5.4 10.6 0.8 10.6 0.2 14.2-0.8 31.8-2.9 21.3-1 182.9-3.8" stroke="#7E2F8E"/>
<path d="M267.7 1184l53.1 2.9 46 0.1 67.3 1.5 10.6-0.3 10.7-1.2 7-1.8 3.6-1.5 7.1-4.6 3.5-3.4 3.5-4.3 7.1-11.2 17.7-36.1 7.1-11.5 3.6-4.5 7-6.6 7.1-4.4 10.6-4.4 56.7-17.3 14.1-3.4 10.7-1.4 10.6-0.3 14.2 1.3 14.1 3.1 35.4 9.6 14.2 2.6 10.6 0.9 14.2-0.3 10.6-1.5 14.2-3.6 14.1-5.3 14.2-6.4 14.1-7.5 10.7-6.2 14.1-9.2 3.6-16.6 24.8-18.5 31.8-26.4 42.5-37.2 81.5-72.9 17.7-15.2 7-5.3 7.1-4.4 7.1-3.2 7.1-1.9 10.6-1.3 10.6-0.4 77.9-0.3 17.7 0.3 28.4 1.5 10.6 0.1 10.6-0.6 31.9-3.1 21.2-1 141.6-2 39-0.9 35.4-1.6 38.9-2.6 42.5-5.5 14.2-1.1 14.2 0.4 31.8 3.3 14.2 0.2 17.7-2 53.1-9.1 28.3-5.7 53.1-12.4 17.7-3 14.2-1.5 14.2-0.3 14.1 1.1 10.6 2.5 31.9 10.6 10.6 1.8 14.2 0.5 14.2-0.8 46-4.8 63.7-4 42.5-3.3 42.5-4 41.3-4.5" stroke="#0072BD"/>
<path d="M267.7 992.9l31.9-5.2 38.9-8.8 14.2-4.8 31.8-13.5 10.7-3.2 10.6-1.6 10.6 0.2 14.2 1.2 31.8 4.6 10.7 3 21.2 8.2 7.1 2.3 7.1 1.5 7.1 0.5 10.6-1 14.1-3 35.4-11.1 39-10.5 10.6-1.6 10.6 0.4 10.7 2.8 10.6 4.9 14.1 8.5 28.4 19 14.1 7.7 7.1 2.7 7.1 1.9 10.6 0.6 17.7-0.9 17.7-2.7 17.7-4.8 14.2-5.5 3.5-0.4 53.1-1.8 141.7-6.1 35.4-1 92-0.1 46.1-0.6 233.7-6.2 63.7-2.4 56.6-2.7 42.5-4.7 14.2-0.9 14.2 0.6 31.8 3.7 10.6 0.3 7.1-0.3 17.7-2.2 53.1-9.1 24.8-5.3 56.7-14.1 14.1-2.6 14.2-1.5 14.2-0.2 14.1 1.4 10.6 2.8 31.9 11.7 10.6 2.1 14.2 0.6 14.2-0.8 46-5.2 67.3-4.4 46-3.6 76.7-7.8" stroke="#A2142F"/>
<path d="M267.7 1228.4l35.4 4.9 14.2 0.7 10.6-0.7 28.3-3.8 14.2-1.2 17.7-0.6 49.6-0.3 10.6-0.7 10.6-1.6 7.1-2.2 3.5-1.6 7.1-4.8 3.5-3.3 7.1-8.3 14.2-20.2 7.1-8.5 7.1-6.2 7-4.2 10.7-3.8 10.6-2.5 56.6-11.3 10.6-1.6 10.7-0.9 14.1-0.1 14.2 1.3 14.2 2.3 31.8 6.3 17.7 2.6 14.2 1.2 17.7 0.3 49.6-2.8 31.8-0.9 3.6-15.3 325.7 0 17.7 0.5 28.4 2.3 10.6 0.4 10.6-0.5 31.9-3.1 21.2-0.8 254.9-3.9 53.1-1.8 17.8 0.2 35.4 1.6 17.7-0.1 70.8-4.5 77.9-7.3 28.3-1.5 14.2 0 14.1 0.8 14.2 1.9 28.3 5.3 10.6 1.1 10.7 0.3 14.1-0.5 31.9-2.8 21.2-1.2 106.3-3 80.2-3.1" stroke="#EDB120"/>
<path d="M267.7 1300.3l10.6 2.7 21.3 6.7 7 1.5 7.1 0.5 10.7-1.2 10.6-3.3 21.2-8.1 10.6-3.1 10.7-2.3 38.9-6.9 24.8-6.2 17.7-5.5 56.7-19.5 21.2-6.4 28.3-7.8 21.3-5.4 14.1-3 14.2-2.2 14.2-1.2 10.6-0.2 14.1 0.7 49.6 5.8 21.3 1.8 24.7 0.9 28.4 0.1 31.8-1 31.9-2.1 170-15.5 35.4-2.2 382.4-2.2 102.6-1.1 56.7-1.4 63.7 1.1 77.9-3.6 24.8-2 53.1-5.6 24.8-1.3 14.2 0.1 14.1 1.1 10.6 1.4 35.5 6.3 10.6 1 10.6 0.3 14.2-0.4 31.8-2 21.3-0.9 102.7-1.9 80.2-2" stroke="#7E2F8E"/>
<path d="M267.7 1168.3l35.4 0 17.7-0.6 46-4.4 60.2-4.1 14.2-1.7 14.2-3.2 10.6-4.1 10.6-6.4 10.6-9.1 24.8-25.6 7.1-5.8 10.6-6.8 7.1-3.3 10.6-4.1 31.9-10 21.2-5.7 17.7-3.1 14.2-0.6 7.1 0.4 10.6 1.4 14.2 3.1 35.4 9 21.2 3.7 17.7 1.5 21.3 0.1 31.8-2 35.4-4.5 3.6 2.4 3.5-0.6 24.8-4.6 31.9-6.9 123.9-29.3 17.7-3.1 17.7-1.4 155.8-0.9 85-1.9 152.2-1.4 60.2-1.8 63.7-3.5 10.7 1 7 1.9 7.1 3 17.7 9.6 7.1 2.6 7.1 0.8 10.6-1.3 7.1-2.5 3.5-2.6 3.6-133.4 3.5 8.7 7.1 11.2 3.5 6.7 3.6 10.2 3.5 14.2 7.1 34 3.5 13.2 3.6 7 3.5 0.5 3.6-4.2 7.1-11.2 3.5-2.3 3.5 0.6 3.6 2.6 7.1 6.7 3.5 2.5 3.5 1.6 7.1 1.4 14.2 0.6 14.1-0.7 14.2-1.6 42.5-6.4 14.2-1.2 14.1-0.2 10.6 0.7 10.7 1.5 10.6 2.7 21.2 6.6 10.7 2.6 10.6 1.4 10.6 0.4 14.2-0.5 46-3.8 116.8-5.8 73.2-5.1" stroke="#77AC30"/>
<path d="M267.7 1230.6l10.6 2.8 24.8 8.2 7.1 1.2 7.1 0 10.6-1.9 28.3-10.5 14.2-3.5 17.7-1.9 46-2.1 10.6-1.2 7.1-1.5 7.1-2.4 3.5-1.7 7.1-4.7 7.1-6.6 17.7-20.8 7.1-6.7 3.5-2.7 3.6-2.2 7.1-3.2 7-2.2 10.7-2 67.2-10.1 14.2-1.5 10.6-0.6 10.6 0.1 14.2 1 53.1 7.5 14.2 1.3 14.1 0.6 24.8-0.6 70.8-5.5 3.6-30.1 56.6-4.7 138.1-12.8 31.9-1.3 95.6-0.2 21.2 0.3 39 1.5 56.6-2.8 191.2-3.7 74.4-0.9 46-1.2 17.7 0.2 39 1.8 14.1 0 70.8-4.1 81.5-7.3 31.8-1.5 24.8 0.9 14.2 1.9 31.9 5.8 10.6 0.8 10.6 0.1 63.7-4.5 106.3-2.9 80.2-2.9" stroke="#0072BD"/>
<path d="M267.7 1243.4l35.4 9.6 14.2 2.5 10.6 0.6 24.8-0.4 14.1 0.3 17.7 1.5 46.1 5.3 10.6 0.6 10.6-0.3 7.1-1.2 3.5-1.1 7.1-3.5 3.6-2.5 7-6.7 17.7-21.7 7.1-7.5 7.1-5.7 7.1-4 7.1-2.8 10.6-2.8 63.7-12.4 10.6-1.5 10.7-0.9 10.6-0.2 10.6 0.6 17.7 2.4 46 8.3 14.2 1.6 14.2 0.8 17.7 0.1 21.2-1 28.3-2.4 24.8-2.9 3.6 1.6 56.6-8.8 141.7-24.8 14.1-2 14.2-1.1 24.8-0.5 77.9 0 53.1 1.7 56.6-2.6 244.3-2.7 70.8-1.8 53.2 1.4 14.1-0.1 70.8-3.4 81.5-6.4 31.8-1.3 24.8 0.9 14.2 1.8 31.9 5.3 10.6 0.8 10.6 0.1 63.7-4.5 109.8-2.5 76.7-2.4" stroke="#D95319"/>
<path d="M267.7 1197.8l10.6 2.8 17.7 6.2 7.1 2.1 10.6 1.2 7.1-0.7 10.6-3.3 24.8-10.9 7.1-2.4 10.6-2.5 17.7-2.2 56.7-3.8 10.6-1.6 7.1-1.8 10.6-4.7 7.1-4.7 10.6-8 7.1-4.5 7.1-3.2 7.1-2 14.1-2 31.9-2.8 35.4-3.7 24.8-1.7 24.8 0.4 56.6 5.2 24.8 1.1 21.2-0.6 49.6-3.5 28.3-0.9 3.6 8.5 364.7-1.3 279.7-2.5 56.6-0.8 56.7-1.7 46 1.3 17.7 0 74.4-3.6 77.9-5.9 28.3-1.3 28.3 0.6 14.2 1.5 28.3 3.8 21.3 1.1 14.1-0.3 53.1-2.6 102.7-2.1 83.8-2.6" stroke="#77AC30"/>
<path d="M267.7 1129.7l10.6 2.6 17.7 6.8 7.1 2.1 7.1 0.8 3.5-0.3 7.1-1.9 3.6-1.7 7-4.3 24.8-18.7 7.1-4.3 10.6-4.9 7.1-2.4 10.6-2.9 56.7-12.3 10.6-3.5 7.1-3.3 7.1-4.8 7-7 7.1-9.1 10.6-15 7.1-8.1 3.6-3.2 7.1-4.6 10.6-4.1 31.8-8.7 39-14.1 14.1-3.9 10.7-1.7 7.1-0.4 7 0.2 7.1 0.9 7.1 1.4 10.6 2.9 28.3 9.9 14.2 4.1 14.2 2.8 10.6 0.9 14.2-0.3 14.1-2.2 14.2-3.8 17.7-6.3 21.2-9.3 17.7-9.3 3.6-16.8 24.8-15.3 31.8-22 138.1-101.9 7.1-4.6 7.1-3.7 10.6-3.4 7.1-1 10.6-0.7 102.7-0.8 127.4-3.3 124-0.5 38.9-0.9 35.4-2 35.4-3.2 42.5-6.9 17.7-1.6 14.2 0.8 28.3 3.3 14.2 0.1 17.7-2.3 56.6-11.4 24.8-6 53.1-14.6 14.2-3 14.2-2 17.7-0.6 14.1 1.5 10.6 3.1 24.8 10.8 10.7 3.6 10.6 1.7 10.6 0.3 14.2-1.3 42.4-6.2 106.3-8.7 42.5-4.6 44.8-5.7" stroke="#77AC30"/>
<path d="M267.7 1289.9l35.4 3.3 14.2 0.7 53.1-1.2 60.2 1.1 21.2-0.3 14.2-1.2 10.6-1.9 10.6-2.9 24.8-8.1 14.2-3.2 17.7-2.6 60.2-7 17.7-1.1 17.7 0.1 17.7 1.2 53.1 5.2 17.7 0.8 21.2 0 46.1-2.2 31.8-0.9 3.6-8.9 7.1-0.1 223-3.4 99.2 0 53.1 2.7 10.6-0.3 31.9-2.2 21.2-0.4 393-0.7 67.3-1.3 70.8-3.9 24.8-0.7 28.3 1 46.1 5.1 21.2 1 70.8-2.2 179.4-0.9" stroke="#77AC30"/>
<path d="M267.7 1189l10.6 3.1 24.8 9 7.1 1.4 7.1 0.3 10.6-1.8 24.8-8.8 14.1-3.7 17.7-2.1 31.9-1 14.2-1 10.6-1.8 10.6-3.8 7.1-4.4 3.5-3 7.1-8.2 3.6-5.2 3.5-6.2 7.1-14.6 14.1-34.2 7.1-15.7 7.1-13 3.6-5.3 7-8.6 3.6-3.5 7.1-5.7 10.6-6.7 49.5-28.7 10.7-5.3 10.6-3.9 7.1-1.5 7.1-0.6 7 0.4 10.7 2.3 14.1 5.8 28.3 15.4 14.2 6.9 14.2 5.2 7.1 1.9 10.6 2 17.7 1.3 10.6-0.4 7.1-0.8 10.6-2.1 7.1-2.2 14.1-6.1 10.7-6.1 14.1-9.9 3.6-13.1 10.6-8.8 14.2-13 28.3-28.5 35.4-38.1 74.3-82.4 21.3-22.2 10.6-9.8 10.6-7.9 10.7-5.6 10.6-3.4 14.1-2.1 17.7-0.9 74.4-0.5 49.6 2 10.6-0.6 28.3-3 21.3-1.2 148.7-2.4 42.5-1.2 31.8-1.6 35.4-2.4 42.5-5.7 14.2-1.1 14.2 0.4 31.8 3.5 10.6 0.3 7.1-0.4 14.2-1.8 56.6-10.2 28.4-6.6 53.1-14.2 17.7-3.3 14.1-1.3 14.2 0.2 10.6 1.4 10.6 3 24.8 10.1 7.1 2.5 10.6 2.2 14.2 0.8 14.2-0.9 46-5.4 67.3-4.6 46-3.7 76.7-8.2" stroke="#D95319"/>
<path d="M267.7 1113.6l35.4 5.7 10.6 0.8 7.1-0.2 10.6-1.3 21.3-3.9 14.1-1.8 14.2-1 35.4-1.1 14.2-1.2 10.6-1.9 10.6-3.5 7.1-3.8 3.5-2.5 7.1-6.4 3.6-3.9 7-9.3 21.3-31.5 7.1-8.8 10.6-10.1 10.6-7.3 31.9-18.1 35.4-22.3 10.6-5.4 10.6-3.6 7.1-1.2 7.1-0.1 7.1 1 7.1 1.9 7 2.9 7.1 3.5 28.3 16.9 14.2 7.4 14.2 5.2 10.6 2.3 7.1 0.7 7.1 0 7-0.6 7.1-1.3 7.1-1.9 10.6-4 14.2-7.6 10.6-7.6 10.6-9.2 7.1-7.2 10.6-12.4 3.6 1.5 14.1-19.8 21.3-34.1 24.8-43.9 28.3-53.1 63.7-122.1 14.2-26.1 10.6-18.4 10.6-16.2 10.7-12.8 3.5-3.4 7.1-5.4 3.5-2.1 7.1-3.1 7.1-2 7.1-1.2 17.7-1.4 120.4-1.6 17.7-0.8 38.9-4.1 53.1-4.1 31.9-3 92-11.3 28.4-3.1 70.8-5.3 10.6-1.7 24.8-5.1 10.6-1.3 10.6-0.1 7.1 1 7.1 1.7 24.8 7.4 10.6 1.7 7.1 0 7.1-1 10.6-2.8 28.3-10.6 28.3-9.6 21.3-8.6 42.5-18.8 17.7-7 14.1-4.4 14.2-2.9 14.2-1.2 7 0.2 7.1 1 10.6 4 24.8 14 7.1 3.2 7.1 2.1 3.5 0.4 14.2 0.3 14.2-1.3 38.9-5.8 60.2-7.8 31.9-4.9 53.1-10.1 51.9-12.2" stroke="#A2142F"/>
<path d="M267.7 1130l10.6 3.2 24.8 8.8 7.1 1.7 7.1 1 10.6-0.1 24.8-3.4 14.1-1 17.7 0.5 46.1 3.7 10.6-0.3 7.1-1.2 7.1-2.8 3.5-2.3 3.5-3.1 3.6-4.1 3.5-5.2 3.6-6.4 7-16.7 14.2-41.2 7.1-18 7.1-13.5 7.1-9.3 7-6.3 7.1-4.6 31.9-16.3 28.3-17.4 10.6-6 10.6-4.7 10.7-2.9 7.1-0.6 10.6 1 7.1 1.8 10.6 4.4 31.8 17.7 10.7 5.1 7 2.7 7.1 2 10.7 1.4 7-0.1 7.1-1.1 10.6-3.7 7.1-3.7 7.1-5 10.6-9.5 7.1-7.8 7.1-9 7.1-10.2 7-11.4 14.2-26.1 17.7-38 21.3-51.5 24.7-64.6 35.5-95.8 70.8-194.7 21.2-56 10.6-24.6 7.1-13.5 3.6-5.6 7-8.7 3.6-3.2 7.1-4.4 3.5-1.5 7.1-1.9 14.1-1.5 67.3-0.7 70.8-1.5 60.2-4.4 113.3-6.2 63.8-4.2 46-4 38.9-4.2 10.7-2 31.8-7.9 14.2-1.7 7.1 0.2 7.1 1 31.8 7.6 7.1 0.7 7.1-0.2 7.1-1 10.6-2.8 28.3-10.4 28.3-9.7 24.8-10.7 42.5-21.5 14.2-6.5 14.1-5.1 14.2-3.2 7.1-0.6 7.1-0.1 7 0.6 7.1 1.5 10.6 4.8 24.8 16 10.7 5.2 3.5 1.2 7.1 1.2 14.1 0.5 14.2-1.2 38.9-5.5 56.7-6.9 31.9-4.7 53.1-9.6 51.9-11.5" stroke="#4DBEEE"/>
<path d="M267.7 1128.9l35.4 2.8 17.7 0.3 46-3.8 53.2-2 14.1-1.8 10.6-2.8 7.1-3.3 7.1-4.7 7.1-6.8 3.5-4.2 10.6-16 14.2-25.1 7.1-11.5 7.1-9.4 3.5-4 7.1-6.4 10.6-6.8 10.6-4.9 53.1-20.6 17.7-5.4 10.7-1.7 7.1-0.4 7 0.2 10.7 1.5 14.1 3.8 28.3 10.1 14.2 4.4 17.7 3.8 14.2 1.3 17.7-0.3 14.1-1.9 10.7-2.5 7-2.2 14.2-5.9 10.6-5.8 7.1-4.6 10.6-7.7 3.6-1.6 14.1-12.4 14.2-13.9 21.2-22.8 24.8-28.6 31.9-38.1 70.8-86.4 17.7-20.6 10.6-10.8 7.1-5.9 7.1-4.5 10.6-4.3 10.6-1.9 17.7-1.1 77.9-0.8 35.5 0.5 14.1-0.3 49.6-4.8 120.4-6.1 74.3-4.8 63.8-5.3 10.6-1.2 17.7-2.9 10.6-0.5 7.1 1.7 3.5 1.8 3.6 2.6 3.5 3.5 3.5 4.4 7.1 11.8 14.2 29.9 7.1 12.1 3.5 3.9 3.6 2.1 3.5 0.2 3.5-1.6 3.6-3.3 3.5-4.7 3.6-5.8 7-14.3 3.6-83.9 3.5 2 7.1 1.2 3.5 1.2 3.6 3 3.5 5.2 7.1 13.3 3.5 4.8 3.6 1.8 3.5-1.3 10.7-11.9 3.5-2.4 3.5-0.8 14.2 1.5 10.6-1.8 24.8-7.9 49.6-18.3 14.1-4 14.2-2.5 14.2-0.8 7 0.4 7.1 1.2 10.6 3.8 24.8 13.4 7.1 3.1 7.1 2.1 3.5 0.5 14.2 0.6 14.2-1.1 38.9-5.7 60.2-6.6 38.9-5.1 49.6-8.1 48.4-9.6" stroke="#4DBEEE"/>
<path d="M267.7 1234.1l10.6 2.5 24.8 7 7.1 1.2 7.1 0.4 10.6-1 28.3-6.2 14.2-1.9 17.7-0.6 53.1 0.8 10.6-0.5 7.1-0.8 10.6-2.7 7.1-3.2 7.1-4.5 14.1-11.2 7.1-5.1 7.1-3.9 7.1-2.9 10.6-2.9 31.9-6.6 35.4-8.5 14.1-2.6 10.7-1.1 14.1 0 14.2 1.5 14.2 2.7 38.9 8.8 14.2 2.2 17.7 1.6 17.7 0.4 21.2-0.7 21.3-1.7 24.8-3.3 7-1.2 3.6-25.5 28.3-5.7 31.9-7.6 131-34.5 17.7-3.5 14.1-1.6 24.8-0.8 81.5-0.1 14.1 0.5 28.4 2.2 10.6 0.3 10.6-0.5 28.3-3 17.7-0.9 233.7-4.3 31.9-0.9 49.5-2.7 17.8 0.2 35.4 2.1 14.1 0 17.7-1.2 56.7-5.3 24.8-3.1 53.1-7.5 14.1-1.4 14.2-0.8 14.2-0.1 14.1 1 10.6 1.8 24.8 5.9 10.7 2.1 10.6 1 10.6 0.2 14.2-0.7 46-3.8 106.2-4 83.8-4.6" stroke="#77AC30"/>
<path d="M267.7 1124.2l10.6 2.7 24.8 7.7 7.1 1.2 7.1 0.1 10.6-1.8 28.3-9.5 14.2-3.1 17.7-1.7 49.6-1.7 10.6-1.5 7.1-2.1 7-4.1 3.6-3.1 3.5-4.2 3.6-5.3 7-14.3 10.7-26.8 7-15.8 3.6-6.2 3.5-5.1 3.6-4 3.5-3.1 3.6-2.5 7-3.6 24.8-9 10.6-4.5 39-20.2 10.6-4.6 7.1-2.2 7.1-1.5 7.1-0.5 7 0.3 10.7 2.2 14.1 5.4 28.3 14.3 14.2 6.2 10.6 3.5 7.1 1.8 14.2 1.9 10.6 0.1 7.1-0.6 7.1-1.2 7-1.9 7.1-2.7 7.1-3.6 7.1-4.6 7.1-5.7 7-6.9 7.1-8 7.1-9.2 10.6-15.9 3.6-13.4 14.1-25.5 14.2-28.4 14.2-30.7 17.7-40.3 38.9-93.1 74.4-182.1 14.1-33 10.7-21.4 7-11 7.1-7.5 7.1-4.4 3.5-1.3 7.1-1.6 10.6-1 63.8-0.5 63.7-1.4 24.8-1.3 116.8-11 31.9-4 63.7-9 28.4-3.3 28.3-2.5 42.5-2.9 10.6-1.7 24.8-5.2 10.6-1.3 10.6 0 7.1 1 7.1 1.9 24.8 8 10.6 1.8 7.1 0 7.1-1 10.6-3 28.3-11.2 21.3-7.4 24.7-10.5 42.5-20.4 17.7-7.8 17.7-6.2 14.2-3.2 14.2-1 7 0.3 7.1 1.3 3.6 1.2 7 3.5 24.8 16.4 7.1 3.9 7.1 2.5 3.5 0.6 7.1 0.6 7.1-0.1 14.2-1.8 42.4-8.5 60.2-8.6 39-6.6 46-9.6 48.4-12.1" stroke="#7E2F8E"/>
<path d="M267.7 1260l35.4 3.7 14.2 0.6 10.6-0.5 28.3-2.7 14.2-0.9 70.8-0.4 17.7-1.3 10.6-2.7 7.1-3.7 7.1-5.5 14.1-13.8 7.1-5.4 7.1-3.6 10.6-2.9 74.4-8.2 24.8-1.7 24.8 0.4 53.1 5.1 28.3 1.2 28.3-1.1 49.6-5.3 21.2-2.6 3.6-17.5 60.2-8.7 134.5-21.3 21.3-2.5 21.2-0.6 88.5-0.1 60.2 0.9 49.6-1.8 194.7-3.5 74.4-0.9 46-1.3 17.7 0.1 39 1.8 14.1 0 74.4-4.5 28.3-2.7 49.6-5.7 28.3-1.8 14.2 0 14.1 0.9 10.6 1.4 35.5 6 21.2 1.1 60.2-2.6 106.2-2.7 83.8-3" stroke="#4DBEEE"/>
<path d="M267.7 1176l35.4 3.2 14.2 0.1 10.6-1.1 28.3-4.8 14.2-1.7 17.7-1.3 60.2-2.8 10.6-1.1 10.6-2.2 7.1-2.6 3.5-1.9 7.1-5.2 7.1-7.1 17.7-20.5 7.1-6 7.1-4.4 7.1-3.3 28.3-10.1 35.4-14.1 10.6-3.4 10.6-2.3 7.1-0.7 7.1-0.1 7.1 0.6 7.1 1.3 14.1 4.1 39 14.5 14.1 3.7 10.7 1.7 10.6 0.8 14.1-0.4 14.2-2 17.7-3.8 24.8-7 21.2-7.3 3.6-8.1 24.8-10.2 31.8-14.6 124-60.9 14.1-6.3 10.6-4 10.7-2.8 10.6-1.5 24.8-1.1 138.1-0.9 116.8-3.2 131-5.3 81.4-1.7 10.7 0.2 7 1.2 3.6 1 7.1 3.6 3.5 2.6 3.5 3.2 7.1 8.3 14.2 20.3 3.5 4.4 3.6 3.5 3.5 2.5 3.6 1.2 3.5 0 3.5-1.4 3.6-2.4 3.5-3.3 3.6-4.1 7-9.9 3.6-156.4 3.5 12 3.6 10.1 10.6 26.7 10.6 30.9 3.5 8.2 3.6 5.6 3.5 2.7 3.6 0.7 7.1-0.4 3.5 0.7 3.5 1.6 10.7 6.6 3.5 1.7 7.1 2.1 14.1 1.7 17.7 0 17.7-1.4 42.5-4.7 14.2-0.8 14.2-0.1 10.6 0.6 10.6 1.6 28.3 6.9 10.7 2.1 10.6 1 10.6 0.2 14.2-0.6 46-3.4 109.8-5.1 80.2-5.5" stroke="#4DBEEE"/>
<path d="M267.7 1108.2l49.6 1.2 53.1-1 63.7-0.1 17.7-0.7 7.1-0.8 7.1-1.4 7.1-2.7 3.5-1.9 7.1-5.6 7.1-7.7 10.6-13.7 7.1-8.1 7.1-6 7-4.2 10.7-4.3 28.3-9.2 38.9-15 10.6-3.1 10.7-1.8 10.6-0.4 7.1 0.5 7.1 1.2 14.1 3.9 28.3 10.1 14.2 4 14.2 2.4 14.1 0.2 14.2-2.1 7.1-1.9 10.6-3.7 31.9-14.5 31.8-16.2 3.6 32.4 28.3-16.9 31.9-21.4 31.8-22.7 67.3-49.5 17.7-12.5 10.6-6.5 7.1-3.3 7.1-2.4 7.1-1.4 14.1-1.2 21.3-0.3 92-0.2 46.1 1.1 38.9-2.9 21.3-1 177-4 38.9-1.6 42.5-2.5 42.5-5.2 14.2-0.9 14.2 0.4 31.8 3.5 14.2 0.3 17.7-2 56.6-9.9 24.8-5.5 56.7-14.6 14.1-2.7 14.2-1.5 14.2-0.3 14.1 1.5 10.6 2.8 31.9 11.7 10.6 2 14.2 0.8 14.2-0.7 46-4.8 63.7-4 42.5-3.3 42.5-4 41.3-4.6" stroke="#D95319"/>
<path d="M267.7 1241.5l35.4 6.1 7.1 0.7 7.1 0 10.6-1.3 28.3-6.3 14.2-2.1 17.7-1.3 49.6-1.5 17.7-1.4 10.6-1.7 7.1-1.9 7-2.6 21.3-9.1 14.2-4.1 42.4-7 42.5-8.8 10.6-1.6 10.7-1 14.1-0.1 14.2 1.4 46 8.7 21.3 2.7 10.6 0.6 10.6-0.1 21.3-1.9 67.2-11.9 3.6-11.1 53.1-11.5 138.1-32.6 21.2-4 21.3-2.2 31.8-0.9 116.9-0.2 177-2.7 141.6-2.4 53.1-2 17.8 0.2 35.4 1.7 14.1-0.1 74.4-4.9 24.8-2.4 53.1-6.2 28.3-1.8 14.2 0 14.1 0.9 10.6 1.5 35.5 6.6 10.6 0.9 10.6 0.2 63.7-3.8 102.7-3 83.8-3.4" stroke="#77AC30"/>
<path d="M267.7 1291.8l10.6 2 24.8 6 10.6 1.1 7.1-0.2 10.6-1.8 24.8-6.2 14.2-2.2 17.7-1.1 56.6-0.6 21.3-1.1 14.1-2 21.3-4.9 14.2-2.5 42.4-4.5 42.5-5.7 21.3-1.7 14.1-0.1 14.2 0.9 49.6 6.2 28.3 2 21.2-0.1 46.1-2.5 31.8-0.9 3.6-17.2 201.8-2.2 109.8-0.1 28.3 0.4 42.5 2.6 10.6-0.3 28.3-2.2 21.3-0.6 389.4-0.7 70.9-0.9 74.3-2.5 24.8-0.4 28.3 0.9 46.1 4.6 17.7 0.8 14.1-0.4 39-2.5 21.2-0.6 179.4-0.9" stroke="#7E2F8E"/>
<path d="M267.7 1339.6l35.4 3.8 10.6 0.4 7.1-0.4 10.6-1.4 10.7-2 35.4-7.5 14.1-3.6 17.7-6.4 10.7-5 7-4 14.2-9.3 31.9-23.7 10.6-7.3 14.1-8.4 14.2-6.6 17.7-6 24.8-5.7 31.9-5 28.3-2.7 17.7-0.5 17.7 0.3 53.1 3.6 28.3 1.3 60.2 0.5 247.9-4.1 378.8-1.4 113.3-0.8 56.7-1 67.3 0.7 77.9-2.9 24.7-1.9 49.6-4.7 24.8-1.1 14.2 0.3 14.1 1 46.1 7.2 10.6 1 10.6 0.4 14.2-0.4 31.8-2 21.3-0.8 182.9-2.9" stroke="#7E2F8E"/>
<path d="M267.7 1256.7l35.4 0.4 14.2-1.4 10.6-2.6 28.3-9.8 14.2-4 17.7-3.7 38.9-6.9 14.2-3.3 10.6-3.6 10.6-5.7 7.1-5.4 17.7-17.5 7.1-6 7.1-4.4 7.1-2.9 10.6-2.6 38.9-5.8 42.5-8.3 17.7-2.3 14.2-0.4 17.7 1.4 14.2 2.3 35.4 6.9 24.8 3.1 24.7 1.2 28.4-0.4 49.5-2.3 3.6-21.9 53.1-3.9 131-11.4 28.3-2 28.3-0.6 85-0.1 60.2 1 49.6-2.1 265.5-4.2 53.1-1.9 17.8 0.3 31.8 1.6 17.7 0 70.8-4.5 28.4-2.7 56.6-6.2 28.3-1.5 14.2 0.2 10.6 0.8 10.6 1.5 35.5 6.9 10.6 1 10.6 0.2 10.6-0.5 31.9-2.7 21.2-1.3 106.3-3.1 80.2-3.3" stroke="#D95319"/>
<path d="M267.7 1175.2l35.4 5.5 14.2 0.5 10.6-1 24.8-5 14.1-2.1 42.5-2.8 10.7-1 10.6-2 7.1-2.3 7-3.5 3.6-2.3 7.1-6.1 3.5-3.9 7.1-9.3 21.2-32.7 7.1-8.7 3.5-3.6 7.1-5.7 7.1-4.2 7.1-3.1 35.4-12.2 14.2-6 28.3-13.2 10.6-3.9 7.1-2 7.1-1.3 7.1-0.4 7 0.2 10.7 1.9 14.1 4.6 28.3 12.2 10.7 4 14.1 3.9 10.7 1.6 10.6 0.3 14.1-1.6 14.2-3.6 14.2-5.4 10.6-4.8 14.1-7.5 10.7-6.4 14.1-9.5 3.6-5.8 14.1-10.8 14.2-11.8 17.7-15.6 21.2-19.6 102.7-99.4 17.7-16.5 10.7-8.6 7-4.5 7.1-3.2 7.1-2.1 10.6-1.6 14.2-0.6 131-1 77.9-2.2 173.5-3.3 35.4-1.5 38.9-2.2 42.5-4.9 14.2-1 14.2 0.4 31.8 3.2 14.2 0.2 17.7-1.8 56.6-9.1 24.8-4.9 53.1-12 14.2-2.5 14.2-1.6 17.7-0.4 14.1 1.4 10.6 2.7 24.8 9.3 10.7 3.1 10.6 1.5 10.6 0.3 14.2-1.2 28.3-4.1 17.7-2 106.2-7 42.5-3.7 41.3-4.3" stroke="#4DBEEE"/>
<path d="M267.7 1198.5l35.4 1.2 14.2-1 10.6-2.1 24.8-7 14.1-3.5 17.7-3 49.6-6.9 10.6-2.4 7.1-2.4 7.1-3.7 3.5-2.6 7.1-7.2 7.1-10.4 17.7-33.2 7.1-10.2 7.1-6.8 7.1-4.3 7-2.8 35.4-8.7 46.1-13.8 10.6-2.2 7.1-0.8 7.1-0.3 10.6 0.5 7.1 1 10.6 2.3 42.5 12.6 21.2 4.3 14.2 1.6 17.7 0.8 17.7-0.4 14.1-1.2 21.3-3.1 21.2-4.3 3.6-4.3 53.1-13.7 134.5-37.6 14.2-3.4 10.6-1.8 21.3-1.2 148.7-0.5 216-4.2 102.6-2.6 42.5-2.7 14.2-0.5 14.2 0.4 31.8 2.1 17.7 0.1 17.7-1.3 53.1-5.4 24.8-3.1 56.7-8.4 17.7-1.8 14.1-0.7 14.2 0.3 10.6 0.9 10.6 1.9 24.8 6.6 10.7 2.3 10.6 1.1 10.6 0.2 10.6-0.6 31.9-3.6 17.7-1.4 106.2-4.6 83.8-5" stroke="#EDB120"/>
<path d="M267.7 1161.5l10.6 3.7 24.8 9.8 7.1 1.9 7.1 1.1 10.6 0.1 24.8-3.4 14.1-0.9 14.2 0.5 31.9 3.2 14.1 0.6 10.7-1.2 7-2.6 3.6-2.2 3.5-3.1 3.6-4.1 3.5-5.4 3.5-6.8 7.1-18.1 14.2-46.8 7.1-20.7 7-15.5 3.6-5.8 3.5-4.6 7.1-6.7 7.1-4.6 24.8-10.9 10.6-5.2 14.2-8.3 28.3-18.3 10.6-5.5 7.1-2.7 7.1-1.7 7.1-0.7 7 0.4 10.7 2.7 7 3 7.1 3.7 28.3 17.6 14.2 7.7 14.2 5.5 10.6 2.4 7.1 0.7 7.1 0 7-0.7 7.1-1.4 7.1-2 7.1-2.7 10.6-5.2 7.1-4.3 14.1-10.4 14.2-12.9 14.2-15 14.1-17.2 21.3-28.2 24.8-35 106.2-156.1 21.2-30.1 10.7-13.5 10.6-10.9 7.1-5.2 3.5-2 7.1-2.9 10.6-2.3 14.2-1.1 84.9-0.9 42.5 0.7 14.2-0.7 35.4-3.1 31.9-1.1 49.5 0.1 88.6 2.4 24.7-0.2 21.3-1.2 28.3-2.8 28.3-4.2 10.7-2.4 28.3-7.5 10.6-2.2 7.1-0.9 7.1-0.3 7.1 0.3 24.7 3.5 10.7 1 7 0 10.7-1.2 10.6-2.3 28.3-8 35.4-9.1 56.7-18.6 17.7-5.3 14.1-3.3 14.2-2.2 14.2-0.7 7 0.3 7.1 0.8 10.6 3.1 24.8 10.9 7.1 2.6 10.6 2 14.2 0.5 14.2-1 38.9-4.6 60.2-5.6 35.4-3.9 49.6-6.7 51.9-8.7" stroke="#7E2F8E"/>
<path d="M267.7 1160.6l10.6 1.3 24.8 4.2 7.1 0.4 7.1-0.4 10.6-2.2 24.8-8.3 14.1-3.8 14.2-2.5 35.4-4.1 14.2-2.1 10.6-2.4 10.6-3.6 10.6-5.9 7.1-5.7 3.6-3.5 10.6-12.8 17.7-25.5 7.1-9.2 7.1-7.6 7-6.2 7.1-5 7.1-4.1 53.1-26.5 14.2-6.2 10.6-3.3 7.1-1.3 7.1-0.6 7 0.3 10.7 1.8 14.1 4.7 24.8 10.7 10.6 4.1 10.6 3 10.7 1.8 10.6 0.3 10.6-1.3 10.6-3 14.2-6.4 14.2-8.6 17.7-12.6 17.7-14.2 14.1-12.5 3.6-18 24.8-24.9 31.8-35.3 35.4-41.3 85-101.1 14.2-15.4 10.6-9.8 10.6-7.3 10.6-4.4 10.7-2.3 17.7-1.3 127.4-1.7 67.3-3.3 131-3.9 49.6-2.1 35.4-2.2 38.9-3.3 10.7-1.6 31.8-5.9 14.2-1.3 14.2 0.6 31.8 5.1 7.1 0.5 7.1-0.1 7.1-0.8 10.6-2 28.3-7.3 24.8-5.7 24.8-6.9 56.6-17.7 17.7-4.2 14.2-2 14.2-0.5 7 0.4 7.1 1 10.6 3.4 24.8 11.7 7.1 2.8 10.6 2.4 14.2 0.5 14.2-1.4 42.4-6.6 70.9-6.7 42.5-4.8 38.9-5.3 41.3-6.6" stroke="#D95319"/>
<path d="M267.7 1135.1l35.4 6.2 7.1 0.6 7.1 0 10.6-1.2 24.8-5.5 14.1-2.3 17.7-1.5 49.6-2.1 10.6-1.2 10.7-2.4 10.6-4.5 7.1-4.7 3.5-3 7.1-7.1 21.2-24.4 7.1-6.3 10.6-6.8 14.2-5.9 24.8-8 31.8-11.2 14.2-4.1 10.6-2 14.2-0.7 14.2 1.5 14.1 3.5 31.9 10.2 14.1 3.7 14.2 2.5 17.7 1.2 10.6-0.2 10.7-0.8 21.2-3.4 21.2-5.7 10.7-3.7 14.1-5.8 3.6 14.7 28.3-14.2 31.9-18.5 35.4-22 74.3-47.9 17.7-10.9 7.1-3.8 7.1-3 7.1-2.1 7.1-1.2 21.2-1 92.1-0.2 42.5 1.1 14.1 0 35.4-2.8 17.7-0.9 145.2-4 95.6-3.7 24.8-1.3 35.4-3.8 17.7-1.1 14.2 0.5 31.8 3.5 14.2 0.3 17.7-1.8 56.6-9.2 24.8-5 56.7-13.2 14.1-2.5 14.2-1.4 14.2-0.2 14.1 1.4 10.6 2.6 24.8 9.1 10.7 3 10.6 1.5 10.6 0.3 14.2-0.9 42.4-4.9 106.3-7 42.5-3.7 44.8-4.6" stroke="#4DBEEE"/>
<path d="M267.7 1272.9l35.4 3.3 14.2-0.2 10.6-1.6 28.3-6.9 14.2-2.6 17.7-2 42.5-3.5 17.7-2.5 10.6-3.3 7.1-3.9 7.1-5.9 14.1-15.7 7.1-6.6 7.1-4.6 7.1-2.8 7.1-1.7 7-1 35.4-3.6 42.5-5.6 17.7-1.6 14.2-0.3 14.2 0.7 67.2 7.9 21.3 1.2 21.2 0.2 35.4-0.9 49.6-2.1 177-10.6 28.4-1.2 169.9-0.2 276.2-1.8 95.6-1.3 67.3 0.7 77.9-2.8 74.3-6 24.8-1 14.2 0.2 14.1 0.9 46.1 6.7 21.2 1.2 67.3-3.1 182.9-2.9" stroke="#4DBEEE"/>
<path d="M267.7 1131.1l10.6 5.3 17.7 11 7.1 3.8 7.1 2.7 7.1 1.1 3.5 0 7.1-1.1 28.3-10.2 7.1-1.7 7.1-1 14.1-0.2 35.5 2.7 10.6 0.4 10.6-0.6 7.1-1.4 7.1-2.7 7-4.7 7.1-7.4 3.6-4.9 7-12.3 17.7-38.5 7.1-13.9 7.1-11.1 7.1-8.4 7.1-6.2 10.6-6.7 60.2-27.6 10.6-3.8 10.6-2.6 10.7-1 10.6 0.8 7.1 1.4 10.6 3.2 35.4 14.7 14.1 4.7 14.2 2.8 7.1 0.5 7.1 0 10.6-1.3 10.6-2.7 10.6-4.1 14.2-7.4 14.2-9.5 10.6-8.5 10.6-9.8 10.6-11 3.6 19.5 21.2-25.7 28.3-38.2 35.5-50.2 84.9-123 21.3-29.2 10.6-12.7 10.6-9.9 7.1-4.7 3.5-1.7 7.1-2.5 10.6-1.9 14.2-1 56.7-0.6 49.5-1.3 102.7-5.1 42.5-1.2 81.4-1.2 42.5-1.9 35.4-3.3 35.4-4.9 10.7-2.4 31.8-8.8 14.2-2.2 7.1-0.1 7.1 0.7 31.8 6.4 7.1 0.6 7.1-0.3 7.1-1.1 10.6-2.8 28.3-10 24.8-7.9 24.8-9.7 56.6-25.5 17.7-6.1 14.2-2.9 14.2-0.8 7 0.5 7.1 1.2 10.6 4.3 24.8 14.3 10.7 4.7 3.5 1 7.1 1 14.1 0.3 14.2-1.1 35.4-4.6 49.6-5.6 42.5-5.8 53.1-9.1 51.9-11.1" stroke="#4DBEEE"/>
<path d="M267.7 1248.3l35.4-0.4 14.2-1.5 10.6-2.4 24.8-7.7 14.1-3.9 17.7-3.6 42.5-7.5 17.7-4.5 10.7-4.2 10.6-6.2 7.1-5.6 17.7-16.4 10.6-7.9 10.6-5.1 10.6-2.9 77.9-11.7 14.2-1.5 10.6-0.5 10.6 0 14.2 1 46 6.3 17.7 1.7 21.3 0.3 21.2-1.9 70.8-12.3 3.6-5 28.3-5.8 31.9-7.3 138.1-33.6 14.1-2.9 10.6-1.3 21.3-0.8 81.4-0.1 56.7 1.6 53.1-2.7 254.9-3.8 63.7-2.2 17.8 0.2 35.4 1.6 14.1-0.1 21.3-1.1 56.6-4.3 24.8-2.8 49.6-6.8 14.1-1.4 14.2-0.8 14.2 0.1 14.1 1 10.6 1.5 35.5 6.8 21.2 1.3 14.2-0.2 49.5-2.4 109.8-3.1 76.7-3.2" stroke="#7E2F8E"/>
<path d="M267.7 1193.3l10.6 2.4 24.8 7.4 7.1 1 7.1 0 10.6-2 28.3-10.4 14.2-3.6 17.7-2.1 49.6-3.1 10.6-1.8 10.6-3.5 7.1-4.3 3.5-3 7.1-8.4 3.5-5.6 7.1-14.1 14.2-34.1 7.1-15.3 7.1-11.7 7-8.3 7.1-5.8 10.6-6 53.1-23.3 10.7-4 7-2.1 10.7-2 7.1-0.5 7 0.3 10.7 1.8 14.1 4.5 28.3 11.9 14.2 5.2 14.2 3.9 14.1 2.2 14.2 0.6 17.7-1.4 17.7-3.6 17.7-5.8 14.2-6.2 14.1-7.4 3.6-11.7 21.2-12.8 28.3-18.7 131.1-91.4 10.6-6.8 10.6-5.8 7.1-3 10.6-2.8 10.6-1.3 14.2-0.5 81.4-0.3 17.7 0.3 28.4 1.7 10.6 0.1 10.6-0.5 28.3-2.8 21.3-1.1 187.6-2.6 35.4-1.4 35.4-2 42.5-4.7 14.2-0.9 14.2 0.3 31.8 2.8 17.7-0.1 17.7-1.9 56.7-8.6 24.8-5.1 56.6-13.6 14.2-2.3 14.1-1.1 14.2 0.3 10.6 1.3 10.6 2.7 31.9 11 10.6 2.1 14.2 0.9 14.2-0.6 46-4.2 109.8-6.4 80.2-6.9" stroke="#7E2F8E"/>
<path d="M267.7 1188.6l35.4 6.1 7.1 0.6 7.1 0 10.6-1.2 28.3-6.3 14.2-2.1 17.7-1.3 46-1.6 10.6-0.8 10.7-1.8 10.6-3.8 7.1-4.4 7-6.2 21.3-23.5 7.1-5.7 7.1-4.2 10.6-4 31.8-8.7 42.5-14.1 10.6-2.7 10.7-1.5 14.1-0.1 14.2 2.1 14.2 3.9 38.9 12.7 14.2 3.4 17.7 3 28.3 2.4 21.2 0.1 10.7-0.9 10.6-1.5 21.2-4.6 3.6 6.9 14.1-4.3 14.2-5.1 35.4-14.5 35.4-16 99.2-46.6 14.1-5.1 7.1-1.6 7.1-1 10.6-0.7 21.2-0.3 77.9-0.1 46.1 0.5 46-1.6 35.4-0.4 166.4-0.3 67.3-2.2 46-3.5 17.7-0.7 42.5 1.7 17.7 0 17.7-1.3 56.7-5.5 28.3-3.9 53.1-8.9 14.2-1.5 14.1-0.7 14.2 0.2 10.6 0.9 10.6 1.8 24.8 5.8 10.7 2 10.6 1 14.1 0.5 155.8-5.9 90.9-4.7" stroke="#A2142F"/>
<path d="M267.7 1291.4l35.4 4.3 14.2 0.1 10.6-1.4 28.3-6.4 14.2-2.3 17.7-1.7 46-2.6 17.7-1.6 10.6-1.8 10.7-3.4 7-3.6 21.3-13.5 7.1-3.1 7.1-2.1 7-1.3 10.7-1.2 67.2-5.9 21.3-1.1 24.8 0.4 60.1 4.8 31.9 1 56.7-1.7 31.8-0.5 3.6-5 322.2 0.4 21.2 0.6 28.4 2.1 10.6 0.3 10.6-0.3 31.9-2.5 21.2-0.5 219.5-0.9 88.5-0.9 56.7 0.5 24.8-0.2 70.8-1.9 67.3-4.2 24.8-0.9 17.7 0.2 14.1 0.9 46.1 6.2 17.7 1 14.1-0.3 35.4-2.5 21.3-0.8 182.9-2.1" stroke="#4DBEEE"/>
<path d="M267.7 1140l10.6 2.8 17.7 6.6 7.1 2.1 7.1 1.1 7.1-0.2 3.5-0.7 7.1-2.2 28.3-13.9 14.2-4.8 17.7-3.2 42.5-4.4 10.6-2.2 7.1-2.3 7.1-3.8 3.5-2.6 7.1-7.1 7.1-9.7 10.6-17.5 7.1-10.7 7-8.3 7.1-5.7 10.7-5.5 21.2-7.8 14.2-6.2 14.1-7.9 24.8-16.2 10.6-6.5 10.6-5 7.1-2.3 7.1-1.2 7.1-0.1 7.1 1 7.1 2.1 7 2.9 7.1 3.8 28.3 17.8 10.7 6 14.1 6.1 10.7 2.7 7 1 7.1 0.1 7.1-0.5 7.1-1.3 14.1-4.5 14.2-6.5 14.2-8.2 10.6-7.2 10.6-8.1 10.6-9.1 3.6-9.2 10.6-10.2 14.2-14.7 28.3-31.8 35.4-42 99.1-119.4 10.7-11.2 7-6 7.1-4.1 7.1-2.3 10.6-1.5 14.2-0.4 95.6-0.5 42.5 0.2 56.6-3.5 162.9-6 53.1-2.7 46-2.9 42.5-5.8 14.2-1.1 14.2 0.8 31.8 4.6 14.2 0.4 7.1-0.7 10.6-1.7 53.1-11.2 24.8-6 56.6-15.6 17.7-3.7 14.2-1.8 14.2-0.5 14.1 1.1 10.6 2.7 24.8 9.4 7.1 2.2 10.6 1.8 14.2 0.5 14.2-0.8 38.9-4 60.2-4.7 38.9-3.5 49.6-5.6 48.4-6.5" stroke="#7E2F8E"/>
<path d="M267.7 1257.4l10.6 3.2 24.8 9.1 7.1 1.5 7.1 0.4 10.6-1.3 28.3-8.6 14.2-2.6 17.7-0.9 42.5 0.2 17.7-1.1 10.6-1.9 10.6-3.4 10.6-5.3 17.7-10.9 7.1-3.9 7.1-3.2 10.6-3.5 14.2-3.1 53.1-9 14.2-2.2 14.1-1.3 14.2-0.4 14.2 0.8 14.1 1.7 46 7.2 14.2 1.4 17.7 1.2 21.3 0.5 17.7-0.3 14.1-1 17.7-2 17.7-3.1 3.6-15.7 21.2-4.6 28.3-7.1 138.1-36.9 17.7-3.6 14.2-1.6 35.4-0.8 131 0.3 49.6-1.3 265.5-3.8 53.1-1.6 17.8 0.3 31.8 1.4 17.7 0 21.3-0.9 56.6-3.8 24.8-2.5 49.6-6.1 14.1-1.3 14.2-0.6 14.2 0.1 14.1 1.1 10.6 1.6 35.5 7 10.6 1 10.6 0.4 14.2-0.5 49.5-3.2 106.3-2.7 80.2-2.9" stroke="#EDB120"/>
<path d="M267.7 1369.9l10.6 2.2 17.7 4.8 10.6 1.9 10.7-0.2 10.6-2.7 10.6-4.3 21.3-10 28.3-12 17.7-8.8 21.2-13.2 35.4-25.4 14.2-9.5 14.2-8.2 14.1-6.8 10.7-4.3 14.1-4.7 28.3-7.6 35.4-7.5 14.2-2.2 14.2-1.3 14.1-0.4 14.2 0.6 53.1 6 24.8 1.9 28.3 0.9 35.4 0.2 247.9-4.4 141.6-0.3 237.2-1.5 113.3-1.1 56.7-1.3 63.7 1 77.9-3.5 24.8-1.9 53.1-5.5 24.8-1.3 14.2 0.2 14.1 1 10.6 1.5 35.5 6.2 10.6 0.9 10.6 0.4 14.2-0.4 31.8-2.1 21.3-0.8 182.9-3.7" stroke="#EDB120"/>
<path d="M267.7 1225.5l35.4 7.5 14.2 1.5 10.6-0.2 24.8-2.9 14.1-1 14.2-0.1 46 1.3 14.2-0.5 10.6-1.4 7.1-1.8 7.1-2.7 10.6-6.4 10.6-9.3 17.7-18.7 7.1-6.7 7.1-5.6 7.1-4.6 10.6-5.1 10.6-4 28.3-8.5 21.3-5.8 10.6-2.3 10.6-1.5 10.7-0.6 10.6 0.4 17.7 2.6 31.8 7.6 14.2 2.8 14.2 2 14.1 0.7 17.7-0.7 17.7-2.3 28.4-5.4 31.8-7.2 3.6 5 24.8-6.6 31.8-9.5 120.4-38.5 17.7-4.4 17.7-2.5 14.2-0.8 21.2-0.3 138.1 0 42.5-1.4 88.5-1.8 106.2-3 81.5-1.5 46-1.9 17.7 0.2 31.9 2.1 17.7 0.4 17.7-0.8 56.6-4.9 77.9-9 28.4-2.2 17.7-0.2 14.1 0.8 14.2 2.1 28.3 5.8 10.6 1.1 10.7 0.3 14.1-0.5 49.6-3.8 106.2-3.9 83.8-4.3" stroke="#D95319"/>
<path d="M267.7 1210l10.6 3.6 24.8 10 7.1 1.7 7.1 0.8 10.6-0.9 28.3-7.3 14.2-2 14.1-0.3 42.5 1.4 17.7-1 7.1-1.2 7.1-2.2 10.6-5.3 10.6-8.1 24.8-23.4 7.1-5.2 7.1-4.2 7.1-3.2 10.6-3.5 24.8-5.7 38.9-7.7 14.2-1.9 10.6-0.7 10.6 0.1 14.2 1.1 42.5 6.8 21.2 2.2 10.7 0.3 10.6-0.4 10.6-1.2 14.2-2.5 67.2-17.6 3.6-13.8 28.3-8.6 35.4-12 134.6-48.9 14.1-4.2 14.2-2.6 10.6-0.9 14.2-0.3 74.3-0.2 17.7 0.4 28.4 2 10.6 0.2 10.6-0.5 28.3-2.9 17.7-1 77.9-2 113.3-4.1 74.4-1.5 46-2.3 17.7 0.3 39 3 14.1 0 17.7-1.3 53.1-5.6 24.8-3.3 56.7-8.6 17.7-1.9 14.1-0.7 14.2 0.2 10.6 0.9 10.6 2 24.8 6.8 10.7 2.3 10.6 1.2 10.6 0.1 10.6-0.6 31.9-3.6 17.7-1.5 106.2-4.8 83.8-5.3" stroke="#7E2F8E"/>
<path d="M267.7 1183.7l10.6 4.6 24.8 12.7 7.1 2.5 7.1 1.2 7.1-0.1 7-1.1 17.7-4.7 10.7-2.1 14.1-1 17.7 1.1 49.6 5.7 17.7 0.6 10.6-1.5 7.1-2.6 3.5-1.9 3.6-2.3 7.1-5.9 14.1-14.5 7.1-6.5 7.1-5.1 10.6-5.2 10.6-3.2 17.7-3.6 39-6.7 21.2-2.4 14.2-0.3 14.2 0.7 14.1 1.8 46 7.1 17.8 1.9 17.7 1.1 21.2 0.7 21.2 0 21.3-0.9 21.2-1.6 3.6 5.6 28.3-3.3 31.9-4.6 148.7-23.5 17.7-2.1 14.1-0.9 88.6-0.5 56.6 0.6 53.1-1.6 240.8-3.2 77.9-2.7 46 1.7 17.7 0 74.4-5 24.8-2.5 53.1-6.4 28.3-1.9 14.2 0.1 14.1 1.1 14.2 2.5 28.3 6.5 10.6 1.5 10.7 0.5 14.1-0.5 31.9-3.3 21.2-1.5 106.3-3.2 80.2-3.3" stroke="#EDB120"/>
<path d="M267.7 1296l10.6 1.7 24.8 5.3 7.1 0.6 7.1-0.2 7.1-1.2 7-1.8 28.4-9.3 10.6-2.3 10.6-1.5 63.7-4.8 46.1-4.6 56.6-2.6 56.7-4.6 21.2-0.9 21.3 0.4 56.6 4.4 31.9 1 60.2-2.1 31.8-0.5 3.6-4.2 382.4 1.2 63.7-0.6 400.1-0.3 63.7-1.2 67.3-4.3 21.3-0.8 14.1 0.2 14.2 0.9 14.1 1.5 35.5 5.1 21.2 1.3 14.2-0.3 35.4-2.1 21.2-0.5 179.4-0.5" stroke="#4DBEEE"/>
<path d="M267.7 1198.1l53.1 5.3 46 2.2 49.6 3.2 10.6 0.3 10.7-0.4 10.6-1.9 7.1-3 3.5-2.1 7.1-5.7 14.1-14.7 7.1-6.6 7.1-5.1 7.1-3.4 10.6-3.1 42.5-7 42.5-9.8 14.1-2.6 17.8-1.4 17.7 1.2 14.1 2.5 42.5 9.4 17.7 2.5 14.2 0.9 17.7-0.1 17.7-1.1 28.3-2.9 28.3-3.7 3.6 7.5 60.2-10.1 127.4-24.5 14.2-2.2 10.6-0.9 21.3-0.4 92-0.1 60.2 0.5 53.1-1.4 240.8-2.7 77.9-2.3 46 1.4 17.7 0 21.3-0.9 56.6-3.8 24.8-2.6 53.1-7 24.8-1.7 14.2 0.3 14.1 1.3 14.2 2.6 31.9 7.5 10.6 1.3 10.6 0.4 10.6-0.4 35.4-3.3 21.3-1.3 102.7-2.6 80.2-2.8" stroke="#0072BD"/>
<path d="M267.7 981.2l38.9 2.5 42.5 3.8 42.5 4.5 35.4 4.7 24.8 4.2 14.2 2.9 7.1 2.2 24.7 9.4 7.1 1.8 7.1 1 14.2-0.3 14.1-1.4 49.6-8.2 17.7-2.4 17.7-1.2 10.6 0.3 10.7 2.3 14.1 5.5 35.4 18.7 14.2 6.5 7.1 2.6 7.1 1.8 10.6 1.2 17.7-0.4 17.7-1.5 14.1-2.2 10.7-2.4 10.6-3 3.5-0.2 315.2 0 70.8-0.8 187.6-4 88.5-2.5 60.2-2.3 42.5-3.8 14.2-0.7 14.2 0.5 31.8 2.9 14.2 0.2 17.7-1.5 56.6-7.9 28.4-5.2 53.1-11.6 14.1-2.2 14.2-1.3 14.2-0.1 14.1 1.4 10.6 2.6 24.8 8.5 10.7 3 10.6 1.5 10.6 0.3 14.2-0.8 46-4.8 102.7-5.8 87.3-7.1" stroke="#4DBEEE"/>
<path d="M267.7 1107.7l35.4 6 14.2 1 10.6-0.5 28.3-3.9 14.2-1.2 53.1-0.2 17.7-0.7 10.6-1.2 10.6-2.7 7.1-3 3.6-2.1 7-5.2 3.6-3.3 7.1-7.8 17.7-22.9 7.1-8.4 7-7.1 7.1-5.9 10.6-7.2 53.1-32.5 14.2-7.2 10.6-3.5 7.1-1.1 7.1-0.2 7.1 0.8 7.1 1.8 14.1 5.7 24.8 13.1 14.2 6.4 7 2.3 7.1 1.7 10.7 1 10.6-1 7.1-1.8 10.6-4.4 10.6-6 14.2-10.1 14.1-11.4 17.7-15.5 17.7-16.8 3.6 31.7 24.8-26.5 31.8-37.1 35.4-43.6 67.3-84.6 21.3-25.4 10.6-11.2 10.6-9 10.6-6.1 10.6-3.5 14.2-2 21.2-0.9 77.9-0.5 46.1 1.1 10.6-0.7 28.3-2.9 21.3-1.3 131-4.1 49.5-2 39-2.3 38.9-3.1 10.7-1.4 31.8-5.5 14.2-1.3 14.2 0.7 31.8 4.9 7.1 0.5 7.1-0.1 7.1-0.8 10.6-1.9 56.6-13.5 24.8-7.4 42.5-14.9 14.2-4.5 14.1-3.6 14.2-2.1 14.2-0.3 7 0.6 7.1 1.2 10.6 3.8 24.8 12.5 7.1 3.1 10.6 2.7 14.2 1 14.2-1.1 28.3-4.3 17.7-2.2 63.7-5.6 42.5-4.6 42.5-5.4 41.3-6.3" stroke="#EDB120"/>
<path d="M267.7 1212.7l53.1 2.1 49.6-0.5 85 1 10.6-0.3 10.6-1.1 7.1-1.7 3.5-1.4 7.1-4.1 7.1-6.5 17.7-20.7 3.5-3.3 7.1-5.1 7.1-3.4 7.1-2.3 42.5-9.8 24.7-4.6 10.7-1 10.6-0.2 10.6 0.7 10.6 1.3 42.5 8.4 21.3 2.9 10.6 0.6 10.6 0 10.6-0.6 14.2-1.7 31.9-5.8 31.8-7.1 3.6-2.3 49.5-13.4 134.6-39.3 24.8-6.1 17.7-2.5 14.1-0.9 21.3-0.3 74.3-0.3 49.6 0.5 49.6-2 265.5-6.6 53.1-2.5 17.8 0.4 31.8 2.4 14.2 0.2 17.7-1 56.6-5.6 81.5-10.8 28.3-2.3 14.2-0.2 14.1 0.8 10.6 1.7 24.8 5.5 10.7 1.9 10.6 0.9 10.6 0.1 14.2-0.6 42.4-3.3 106.3-4.4 87.3-5.1" stroke="#4DBEEE"/>
<path d="M267.7 1247.4l10.6 2.5 24.8 7 7.1 1.2 7.1 0.5 10.6-0.6 28.3-5.1 14.2-1.4 17.7-0.2 49.6 1.8 17.7-0.7 10.6-1.9 7.1-2.6 3.5-1.7 7.1-4.6 21.2-17.1 7.1-4.3 10.6-4.3 10.7-2.5 14.1-2.2 49.6-6.5 24.8-2 14.1 0 14.2 0.8 49.6 5.9 21.2 1.8 21.3 0.8 24.7 0 28.4-0.8 31.8-1.8 3.6-1.3 169.9-13.6 28.4-2 21.2-0.8 109.8-0.3 53.1 1.3 56.6-2 212.5-1.4 53.1-0.8 49.5-1.3 67.3 1 77.9-3.3 74.4-5.7 28.3-1.3 14.2 0.1 14.1 0.7 46.1 5.8 21.2 0.9 63.7-2.6 106.3-1.9 80.2-2" stroke="#77AC30"/>
<path d="M267.7 1150.2l10.6 0.7 24.8 2.8 7.1-0.1 7.1-0.8 10.6-2.7 28.3-11 14.2-4.2 14.1-3 35.5-5.8 14.1-3 10.6-3.1 10.7-4.6 7-4 21.3-13.6 10.6-4.9 10.6-3.1 31.9-5.9 14.2-3.4 14.1-4.5 35.4-12.8 10.6-2.8 7.1-1.3 7.1-0.7 7.1-0.1 14.2 1.8 14.1 3.8 28.3 10.2 14.2 4.5 14.2 3.4 17.7 2.3 17.7 0.5 21.2-1.3 24.8-3.2 28.3-5.5 3.6-0.1 28.3-7.9 31.9-10.6 35.4-13 99.1-37.8 14.2-4.2 14.1-2.3 21.3-0.9 85-0.3 42.5 1.3 14.1 0 49.6-3.5 102.7-2.9 162.8-5.9 39-3.2 14.1-0.8 14.2 0.3 35.4 3.5 14.2 0.3 17.7-1.5 53.1-7.5 28.3-4.9 56.7-11.1 14.1-2 14.2-1.3 14.2-0.3 14.1 0.9 10.6 2 31.9 8.5 10.6 1.4 14.2 0.4 155.8-9.1 46-3.5 48.4-4.4" stroke="#D95319"/>
<path d="M267.7 1151.6l35.4 4.6 10.6 0.6 7.1-0.2 10.6-1.2 21.3-3.4 14.1-1.7 46.1-2.1 14.1-1.2 14.2-2.7 10.6-4.2 7.1-4.8 3.5-3.1 7.1-8.2 3.6-5.2 3.5-5.8 7.1-13.8 14.1-31.2 7.1-14.4 7.1-12 3.6-5 7-8.3 10.7-9.2 10.6-6.9 49.5-28.9 10.7-5.3 10.6-3.9 7.1-1.6 7.1-0.6 7 0.3 10.7 2.2 14.1 5.5 28.3 14.5 10.7 4.8 14.1 4.7 14.2 2.6 7.1 0.4 10.6-0.2 10.6-1.5 7.1-1.6 7.1-2.3 7.1-3.1 7-3.7 7.1-4.6 7.1-5.4 10.6-9.7 7.1-7.3 10.6-12.2 3.6-10.5 14.1-18.8 14.2-20.4 17.7-27.4 17.7-28.6 35.4-59.4 70.8-121.3 21.3-34.1 10.6-14.4 7.1-7.8 7.1-6 3.5-2.3 7.1-3.4 10.6-2.9 14.2-1.6 84.9-1.4 46.1 0 10.6-0.9 31.9-3.8 17.7-1.4 138.1-6.7 46-3.1 35.4-3.5 38.9-5.2 10.7-2.5 31.8-9.3 7.1-1.3 7.1-0.8 7.1 0.1 7.1 1 31.8 8 7.1 0.8 7.1-0.3 7.1-1.2 10.6-3.1 28.3-11.5 24.8-9 24.8-10.8 42.5-21.1 14.1-6.4 17.7-6.4 14.2-3.3 14.2-1 7 0.4 7.1 1.3 10.6 4.6 24.8 15.9 7.1 3.8 7.1 2.4 3.5 0.6 14.2 0.7 14.2-1.4 38.9-6.5 56.7-7.7 38.9-6.3 49.6-10 51.9-12.8" stroke="#A2142F"/>
<path d="M267.7 1056l10.6 2.7 24.8 7.9 7.1 1.3 7.1 0.3 10.6-1.3 28.3-8 14.2-2.4 17.7-1.1 53.1-0.3 10.6-1 10.6-2.6 7.1-3.3 3.6-2.3 7-6.4 7.1-8.7 14.2-20.6 7.1-9.1 7.1-7.1 7-5.4 10.7-5.9 28.3-13.7 28.3-16.5 10.6-5.7 7.1-3.1 7.1-2.4 10.6-2 10.6 0.2 7.1 1.4 7.1 2.2 10.6 4.6 28.3 15.6 14.2 6.9 10.6 3.9 7.1 1.9 14.2 2.3 10.6 0.4 10.6-0.7 10.6-1.6 10.7-2.3 10.6-2.9 14.1-4.9 10.7-4.3 14.1-6.7 3.6 56.8 14.1-8 14.2-8.8 31.9-22.1 38.9-29.4 74.4-58.2 21.2-15.6 10.6-6.6 10.7-5.3 10.6-3.6 10.6-2.1 14.2-1.3 24.8-0.6 60.1-0.4 35.5 1.2 14.1-0.1 49.6-3.8 74.3-2.8 116.9-6 74.3-2.8 39-3.6 14.1-0.8 17.8 0.8 31.8 4.2 10.6 0.5 7.1-0.3 17.7-2.2 53.1-9.3 24.8-5.5 56.7-14.7 17.7-3.2 14.1-1.3 14.2 0.2 10.6 1.3 10.6 2.9 31.9 12.2 10.6 2.2 14.2 0.7 14.2-0.9 46-5.2 67.3-4.4 46-3.7 76.7-8.1" stroke="#77AC30"/>
<path d="M267.7 1061.2l56.7-2.9 74.3-5.8 35.4-4.1 28.3-5 7.1-2.4 7.1-3.5 24.8-16 10.6-6.1 49.6-22.5 17.7-7.1 14.1-4.8 14.2-3.5 10.6-1.6 10.7-0.6 7 0.4 7.1 1.4 7.1 2.1 14.2 5.9 38.9 20.4 10.6 4.4 7.1 2.1 10.6 1.7 7.1-0.1 10.6-1.1 10.7-2.3 10.6-3.4 10.6-4.7 10.6-6.1 14.2-10.2 14.2-5.3 10.6-4.6 24.8-12.7 31.8-18.7 95.6-58.6 24.8-14.4 10.6-5.3 7.1-2.7 7.1-2.1 7.1-1.4 10.6-1.1 14.2-0.6 77.9-0.3 53.1-1.3 233.7-8.8 53.1-2.9 49.5-3.4 10.7-1.4 31.8-5.2 14.2-1.1 14.2 0.8 31.8 5.1 7.1 0.5 7.1-0.2 7.1-0.6 10.6-1.9 28.3-6.9 24.8-5.5 24.8-6.8 56.6-17.7 17.7-4.2 14.2-2 14.2-0.5 14.1 1.5 10.6 3.2 24.8 11.1 7.1 2.7 10.6 2.2 14.2 0.7 14.2-1.1 42.4-5.4 63.8-5.6 38.9-4 46.1-5.8 44.8-6.7" stroke="#4DBEEE"/>
<path d="M267.7 1151.5l10.6 4.6 17.7 9.8 7.1 3.3 7.1 2.1 7.1 0.6 3.5-0.4 7.1-1.8 28.3-13.2 7.1-2.4 7.1-1.7 7.1-1 10.6-0.7 31.9-0.1 10.6-0.5 10.6-1.7 7.1-2.4 3.5-1.8 7.1-5.6 3.5-4.1 7.1-11.2 7.1-15.5 14.2-37.7 7-16.4 7.1-12.3 7.1-8.8 3.6-3.3 7-5.4 24.8-14.7 10.6-7.4 10.7-8.3 24.7-21.3 7.1-5.5 10.6-6.6 7.1-3 7.1-1.7 7.1-0.2 7.1 1.2 7.1 2.5 7 3.7 7.1 4.7 28.3 21.7 10.7 7.1 7 3.7 7.1 2.9 10.7 2.5 7 0.5 7.1-0.5 7.1-1.5 7.1-2.5 7.1-3.5 7-4.4 7.1-5.3 7.1-6.4 10.6-11.3 10.6-13.5 10.7-15.5 14.1-23.7 3.6-19.3 14.1-27.2 14.2-29.5 31.9-71.6 31.8-75.7 77.9-190 17.7-41.7 10.7-21.6 7-11.1 3.6-4.2 3.5-3.4 7.1-4.4 7.1-2.2 10.6-1.4 74.4-0.8 63.7-2.3 70.8-5.1 123.9-7 49.6-3.6 42.5-4.4 38.9-5.3 10.7-2.4 31.8-9.7 7.1-1.4 7.1-0.8 7.1 0.2 7.1 1.1 24.7 7.1 7.1 1.6 7.1 0.9 7.1-0.3 7.1-1.2 10.6-3.4 28.3-12.2 24.8-9.5 24.8-11.6 42.5-22.4 14.1-6.9 17.7-6.9 14.2-3.4 7.1-0.8 7.1-0.2 7 0.6 7.1 1.5 3.6 1.4 7 3.9 24.8 18.4 7.1 4.3 7.1 2.9 3.5 0.8 7.1 0.7 7.1 0 14.2-1.9 28.3-6.7 14.1-2.9 63.8-9.7 38.9-7.1 46.1-10.3 44.8-11.9" stroke="#4DBEEE"/>
<path d="M267.7 1087.4l35.4 4.7 10.6 0.7 7.1 0 46-4.2 49.6-0.5 14.2-0.6 10.6-1.6 7.1-2.5 7.1-4.7 3.5-3.6 3.5-4.6 3.6-5.8 7.1-15.1 10.6-27.1 7.1-16 3.5-6.4 3.5-5.3 3.6-4.2 3.5-3.5 7.1-5 7.1-3.6 21.2-9.4 14.2-8.2 14.2-10.3 21.2-17.5 10.6-8.1 10.6-6.3 7.1-2.9 7.1-1.5 7.1-0.2 7.1 1.1 7.1 2.5 7 3.6 7.1 4.5 24.8 18.5 10.6 7.1 7.1 3.9 7.1 3.1 10.6 2.6 7.1 0.3 7.1-0.9 10.6-3.8 10.6-6.5 7.1-5.8 7.1-6.8 7.1-7.6 10.6-12.9 10.6-14.5 7.1-10.6 10.6-17.5 10.6-19.4 3.6-2.8 17.7-37.6 10.6-24.8 14.2-35 28.3-74.7 35.4-98.1 67.3-190.2 14.1-38.3 10.7-24.8 7-12.5 3.6-4.8 3.5-3.7 3.6-2.7 3.5-2.1 7.1-2.4 7.1-1.1 7-0.5 67.3-0.6 63.8-2.1 17.7-1.1 42.4-3.8 35.4-1.9 42.5-1.1 81.5 0 21.2-0.8 17.7-1.3 17.7-2 17.7-2.7 35.4-7.4 10.7-3.5 31.8-13.1 10.6-2.8 7.1-0.8 7.1 0.3 7.1 1.4 21.2 6.2 7.1 1.6 7.1 0.7 7.1-0.4 7.1-1.6 10.6-3.9 28.3-14 28.3-12.3 21.3-11 42.5-23.8 17.7-8.9 14.1-5.6 14.2-3.6 7.1-1 7.1-0.3 7 0.4 7.1 1.5 3.6 1.4 7 4 24.8 19.3 7.1 4.6 7.1 2.9 3.5 0.7 7.1 0.7 7.1-0.2 14.2-2.2 28.3-7.3 14.1-3.1 63.8-10.8 38.9-8 46.1-11.5 44.8-13.4" stroke="#77AC30"/>
<path d="M267.7 1152.2l10.6 2.4 24.8 6.6 7.1 1.1 7.1 0.4 10.6-0.8 24.8-4.9 14.1-2 14.2-0.6 31.9 0.1 14.1-0.4 10.7-1.2 10.6-2.8 7.1-3.5 3.5-2.4 7.1-6.5 3.5-4.2 7.1-10.1 14.2-24.2 7-11.2 7.1-9.2 3.6-3.7 7.1-6 7-4.3 10.7-4.6 28.3-9.4 31.8-11.5 17.7-5 10.7-1.7 7.1-0.3 7 0.2 10.7 1.5 14.1 3.6 28.3 9.7 14.2 4.3 14.2 3.2 17.7 2.2 17.7 0.5 17.7-1.4 17.7-3.5 14.1-4.6 10.7-4.6 14.1-7.4 3.6-8.7 10.6-6.7 14.2-9.9 28.3-22.1 38.9-32.6 77.9-67.3 21.3-17.2 10.6-7.2 7.1-3.7 7.1-2.8 10.6-2.6 10.6-1.1 14.2-0.6 84.9-0.5 42.5 0.5 46.1-2.3 24.7-0.8 138.1-1.6 42.5-1 35.4-1.5 35.4-2.2 42.5-5.2 14.2-1 14.2 0.3 31.8 3.1 14.2 0.2 17.7-1.9 56.6-9 24.8-4.8 53.1-11.7 14.2-2.4 14.2-1.6 17.7-0.4 14.1 1.4 14.2 3.9 28.3 10.4 10.6 2.1 10.7 0.6 14.1-0.8 31.9-4.8 17.7-2 106.2-7.1 42.5-3.6 41.3-4.2" stroke="#D95319"/>
<path d="M267.7 1088.2l49.6 0.6 46-1.7 56.7-1.4 14.1-1 10.6-1.4 7.1-1.7 7.1-2.6 7.1-3.9 3.5-2.6 7.1-6.8 3.5-4.3 10.7-16.5 14.1-25.9 7.1-11.8 7.1-9.9 10.6-11.3 10.6-8.4 53.1-36.7 14.2-8 10.6-4 7.1-1.3 7.1-0.2 7.1 1 7.1 2 7 2.9 7.1 3.7 24.8 15 10.6 5.8 7.1 3.1 7.1 2.4 10.6 1.9 7.1 0.1 7.1-0.9 10.6-3.4 10.6-5.8 7.1-5.1 7.1-6.1 10.6-10.7 10.6-12.4 10.6-14.2 7.1-10.4 7.1-11.3 10.6-18.4 17.7-34.5 21.3-46.6 28.3-67.5 31.9-79.9 67.2-172.1 21.3-51.4 10.6-22.2 7.1-12.1 3.5-5.2 7.1-8.1 3.6-3.1 7-4.4 3.6-1.6 7.1-2.1 7-1.2 10.7-0.9 84.9-1.6 120.4-5.8 28.4-0.6 24.7 0.1 88.6 2.4 24.7-0.6 21.3-1.7 28.3-4 28.3-5.8 10.7-3.2 28.3-10.6 10.6-3 7.1-1.3 7.1-0.4 7.1 0.6 24.7 5.3 10.7 1.6 7 0 10.7-1.6 10.6-3.4 24.8-10.2 21.2-7.6 17.7-7.2 21.3-9.8 38.9-19.4 14.2-6.2 14.1-5 14.2-3.2 14.2-1.1 7 0.4 7.1 1.2 10.6 4.5 24.8 15.5 10.7 5 3.5 1 7.1 1 14.1 0.2 14.2-1.4 35.4-5.3 53.1-6.9 39-6.1 24.8-4.6 28.3-5.9 51.9-12.6" stroke="#77AC30"/>
<path d="M267.7 1237.2l35.4 0.5 14.2-1.2 10.6-2.1 28.3-7.9 14.2-3.2 17.7-2.9 63.7-8.9 14.2-2.6 28.3-6.5 14.2-1.6 38.9-2.7 56.7-7.1 21.2-1.3 10.6 0 14.2 0.9 53.1 6.7 24.8 2.2 31.9 1.1 67.2 0.7 3.6 2.9 223 3.4 159.4 0.4 56.6-1 237.3-1.8 81.4-1.6 63.7 1 77.9-3.2 77.9-6.3 24.8-1.1 14.2 0.1 14.1 0.7 46.1 5.7 21.2 0.9 63.7-2 102.7-1.7 83.8-1.9" stroke="#D95319"/>
<path d="M267.7 1108.1l10.6 2.2 24.8 6.4 7.1 1 7.1 0.3 10.6-0.9 24.8-5.4 14.1-2.2 14.2-0.9 39-0.9 10.6-1.1 10.6-2.6 7.1-3.2 3.5-2.2 7.1-5.8 3.5-3.8 7.1-9.2 17.7-28.1 7.1-9.9 7.1-8 7.1-6 7.1-4.4 7-3.5 24.8-9.6 14.2-6.2 35.4-18.3 10.6-4.5 7.1-2.2 7.1-1.4 7.1-0.7 7 0.3 10.7 1.9 14.1 4.8 24.8 11.1 10.6 4.1 14.2 3.9 10.6 1.3 7.1 0 7.1-0.6 7.1-1.4 7-2 7.1-2.7 7.1-3.4 10.6-6.5 10.6-8.1 14.2-13.2 14.2-16 14.1-18.5 3.6-8.3 14.1-21.1 14.2-22.7 17.7-30.1 17.7-31.3 31.9-58.4 70.8-133.1 17.7-32.2 10.6-17 7.1-8.9 7.1-6.2 7.1-3.8 3.5-1.1 7.1-1.4 14.1-0.9 56.7-0.2 85-1.3 53.1-5.1 95.6-6.1 56.6-4.2 63.8-5.6 49.5-5.4 10.7-2.1 31.8-8.3 14.2-1.8 7.1 0.3 7.1 1.1 24.7 6.8 7.1 1.6 7.1 0.8 7.1-0.1 7.1-1.2 10.6-3 28.3-11.3 24.8-8.9 24.8-11 42.5-22.1 14.1-6.9 17.7-6.8 14.2-3.3 7.1-0.8 7.1-0.2 7 0.5 7.1 1.3 10.6 4.8 24.8 16 10.7 5.2 3.5 1 7.1 1.1 14.1 0.4 14.2-1.2 77.9-10.2 46-6.9 24.8-4.5 28.3-5.8 28.4-6.5 27.1-6.9" stroke="#7E2F8E"/>
<path d="M267.7 1182.8l10.6 3 24.8 8.7 7.1 1.4 7.1 0.3 10.6-1.6 28.3-9.3 14.2-2.9 17.7-1.3 49.6-0.9 10.6-1.1 7.1-1.5 7-2.4 3.6-1.8 7.1-4.9 3.5-3.2 7.1-8 14.1-19.6 7.1-8.9 7.1-7.2 3.6-2.8 7-4.5 7.1-3.3 7.1-2.5 28.3-8.6 28.3-9.2 14.2-3.8 10.6-1.8 14.2-0.6 14.2 1.5 14.1 3.3 31.9 9.9 14.1 3.8 14.2 2.7 17.7 2 21.3 0.6 24.7-1.3 21.3-2.5 21.2-4.1 3.6 10.5 24.8-7.2 31.8-11.4 120.4-48.3 21.3-8.2 17.7-5.5 7-1.5 10.7-1.5 24.7-1.2 67.3-0.3 21.3 0.4 28.3 1.6 10.6-0.1 35.4-2.9 21.3-1 155.8-2.3 63.7-1.7 42.5-2 35.4-3.3 17.7-1 14.2 0.3 31.8 2.5 14.2 0.2 17.7-1.4 53.1-6.6 24.8-3.5 56.6-9.3 17.7-2.1 14.2-1.1 14.2-0.2 14.1 0.7 10.6 1.7 31.9 7.3 10.6 1.2 14.2 0.3 14.2-0.6 42.4-3 106.3-5.3 87.3-6.4" stroke="#7E2F8E"/>
<path d="M267.7 1082.1l35.4 4.2 10.6 0.6 7.1-0.2 10.6-1 24.8-3.6 14.2-1.3 53.1-1.4 14.2-0.8 10.6-1.5 10.6-3.1 7.1-3.8 3.5-2.7 7.1-7.2 7.1-9.7 14.1-23.7 7.1-10.8 7.1-8.7 7.1-6.6 10.6-7.4 17.7-10.2 10.6-6.8 10.7-7.6 21.2-16.3 10.6-7.5 10.6-5.8 10.7-3.5 7.1-0.8 3.5 0.1 7.1 1.1 7.1 2.4 7 3.4 7.1 4.3 31.9 22.9 14.1 8.2 10.7 4.3 7.1 1.8 7 1 7.1 0.1 10.6-1.4 10.7-3.3 10.6-4.7 10.6-6.2 14.2-9.9 10.6-8.7 10.6-9.9 10.6-11 3.6 50 10.6-12.4 14.2-17.7 31.8-43.6 39-56.4 77.9-115.3 17.7-25.1 10.6-13.1 7.1-6.7 7.1-4.6 7-2.8 10.7-1.8 17.7-0.8 88.5-0.6 38.9 0.7 14.2-0.9 31.9-3.5 28.3-1.6 49.6-1.3 88.5-0.9 35.4-1.4 35.4-2.9 38.9-5.1 10.7-2.2 31.8-8.5 10.6-1.8 7.1-0.4 7.1 0.2 7.1 1 28.3 5.4 7.1 0.5 7.1-0.2 7.1-1.1 10.6-2.6 28.3-9.4 24.8-7.3 24.8-9 56.6-23.5 17.7-5.5 14.2-2.6 14.2-0.7 7 0.5 7.1 1.4 10.6 4.2 24.8 14.7 7.1 3.5 7.1 2.4 3.5 0.6 7.1 0.7 7.1 0.1 14.2-1.4 42.4-7.3 63.8-7.3 38.9-5.4 46.1-7.7 44.8-9" stroke="#D95319"/>
<path d="M267.7 1155.8l10.6 3.6 24.8 9.9 7.1 1.7 7.1 0.7 10.6-1.2 28.3-8.4 14.2-2.4 17.7-0.6 35.4 1.2 14.2 0.1 10.6-1 7.1-1.9 7-3.7 3.6-2.8 7.1-8.2 7-11.8 10.7-21 7-12.1 7.1-8.9 7.1-5.9 3.6-2.1 7-3.2 24.8-7.9 14.2-5.2 38.9-17 10.6-3.4 7.1-1.6 7.1-0.9 7.1-0.1 7.1 0.7 7.1 1.3 14.1 4.5 28.3 11.7 10.7 3.8 14.1 3.6 10.7 1.4 14.1-0.1 14.2-2.3 14.1-4.3 14.2-6.1 10.6-5.4 10.6-6.2 10.7-7.1 10.6-8 3.5-2.9 3.6-5.9 14.1-12.8 14.2-14.2 21.2-23.4 28.4-33.7 31.8-39.6 63.8-81 14.1-17 7.1-7.4 7.1-5.8 7.1-3.9 7.1-2.2 10.6-1.4 14.1-0.4 95.6-0.4 35.5 0.6 14.1-0.1 49.6-3.3 141.6-4.6 99.2-4.3 28.3-1.7 35.4-4.4 17.7-1.2 14.2 0.6 31.8 4.1 10.6 0.4 7.1-0.3 17.7-2.4 53.1-10.1 28.4-7 53.1-15.3 17.7-3.5 14.1-1.4 14.2 0.2 10.6 1.3 10.6 3 24.8 9.9 7.1 2.4 10.6 2.2 14.2 0.9 14.2-0.6 42.4-4.1 99.2-7.2 46-4.6 48.4-5.7" stroke="#0072BD"/>
<path d="M267.7 1227.6l35.4 5.5 14.2 1.1 10.6-0.3 24.8-2.3 14.1-0.9 56.7 0.5 10.6-0.3 10.6-1.2 7.1-1.7 7.1-2.9 7.1-4.5 3.5-3 3.6-3.6 7-8.6 17.7-24.7 7.1-7.8 3.6-3.2 3.5-2.6 7.1-4.2 7.1-2.9 7.1-2.2 67.2-15.1 14.2-2.2 10.6-0.8 10.6 0.1 14.2 1.4 49.6 9.9 21.2 2.6 14.2 0.6 14.1-0.5 14.2-1.4 14.2-2.1 24.7-4.9 24.8-6 3.6 0.3 10.6-2.9 53.1-16.5 123.9-41.5 17.7-4.8 14.2-2.1 24.8-0.8 85 0 53.1 2.2 10.6-0.4 28.3-2.3 21.3-0.8 159.3-0.9 56.6-0.9 42.5-1.4 56.7-3.2 14.2 0.1 31.8 1.5 14.2 0.1 17.7-0.9 56.6-4.7 28.4-3 53.1-6.6 17.7-1.5 14.1-0.5 14.2 0.2 10.6 0.8 10.6 1.7 35.5 7.6 10.6 1 10.6 0.2 10.6-0.5 31.9-3.1 21.2-1.4 102.7-3.5 83.8-4" stroke="#77AC30"/>
<path d="M267.7 1101.8l35.4 5 17.7 1.1 49.6-1.7 81.4 2.6 10.6-0.6 10.7-2.2 7-3.4 3.6-2.5 3.5-3.3 3.6-4.3 3.5-5.2 7.1-13.6 14.2-33.2 7-14.4 7.1-11 7.1-7.8 7.1-5.8 7.1-4.6 38.9-21.7 14.2-6.6 7-2.5 7.1-1.9 7.1-0.9 7.1-0.1 7.1 0.8 7.1 1.6 14.1 5.3 28.3 14 14.2 6.1 14.2 4.4 14.1 2.2 10.7 0.3 14.1-1.4 10.6-2.3 14.2-4.7 10.6-4.8 10.6-5.8 10.7-7 14.1-10.9 3.6 18.9 10.6-9.6 14.2-14.1 14.1-15.1 17.7-19.9 39-45.9 77.9-94.1 21.2-24.4 10.6-10.8 10.7-8.7 10.6-6 10.6-3.5 14.2-2.1 21.2-0.8 63.7-0.5 35.5 1.5 14.1-0.1 35.4-4 17.7-1.3 141.7-6 99.1-5.9 24.8-2 35.4-5.9 17.7-1.6 14.2 0.8 31.8 5.4 7.1 0.6 7.1-0.2 7.1-0.7 10.6-2 28.3-7.2 24.8-5.6 24.8-6.9 53.1-16.2 17.7-4.3 14.2-2.3 10.6-0.8 7.1 0 7 0.4 7.1 1 7.1 2.1 7.1 3 21.2 10.7 7.1 2.9 7.1 2 3.5 0.6 10.7 0.5 14.1-1.3 31.9-6.2 14.1-2.2 70.9-6.9 35.4-4 42.5-5.6 44.8-7.1" stroke="#A2142F"/>
<path d="M267.7 1194.2l10.6 4.3 17.7 9 7.1 3 7.1 2.1 7.1 0.6 3.5-0.3 7.1-1.5 28.3-11.1 7.1-2 7.1-1.4 7.1-0.7 10.6-0.4 49.6 0.9 14.1-1.1 7.1-1.8 3.5-1.3 7.1-4.2 3.6-3 7-7.9 17.7-27.1 7.1-9.3 7.1-6.9 7.1-4.8 7.1-3.3 7.1-2.4 24.7-7.1 35.4-11.6 14.2-3.9 10.6-1.8 7.1-0.7 14.2 0.5 7.1 1 10.6 2.5 38.9 12.1 10.6 2.7 10.7 2.1 10.6 1.3 14.2 0.6 10.6-0.3 14.1-1.1 60.2-8.1 3.6-11.3 28.3-5 31.9-6.7 131-30.5 14.1-2.7 10.7-1.3 24.7-1 88.6-0.1 14.1 0.4 28.4 1.9 10.6 0.2 10.6-0.4 28.3-2.6 21.3-1 120.3-2.1 152.3-3.5 10.6 0.2 7.1 1.1 7.1 2.7 7.1 5.2 3.5 3.7 3.5 4.7 7.1 11.8 10.7 21.5 7 13 3.6 4.8 3.5 3.3 3.6 1.5 3.5-0.3 3.5-2.1 3.6-3.6 3.5-4.9 7.1-12.6 3.5-7.7 3.6-2 10.6-23.7 3.5-5.2 3.6-1.2 3.5 3.1 7.1 13.1 3.5 4.7 3.6 0.4 3.5-4.3 10.7-23.6 3.5-4.8 3.5-2.1 3.6-0.3 7.1 1.5 7 0.1 28.4-5.4 35.4-5.5 24.8-3.1 21.2-1.4 14.2-0.1 14.1 1 14.2 2.5 28.3 6.9 10.6 1.4 10.7 0.4 14.1-0.7 31.9-3.8 21.2-1.7 106.3-4.1 80.2-4.3" stroke="#7E2F8E"/>
<path d="M267.7 1228.4l35.4 1.5 17.7 0.2 46-1.4 53.2-0.5 14.1-0.8 10.6-1.5 10.7-3.3 7-3.7 3.6-2.4 7.1-6.1 21.2-22 7.1-5.6 10.6-5.8 10.6-3.5 35.4-7.8 39-10.6 17.7-3.6 14.2-1 7 0.2 10.7 1.1 14.1 2.9 39 10 14.1 2.6 10.7 1.1 14.1 0.5 14.2-0.8 14.1-1.9 17.7-3.3 21.3-4.8 21.2-5.4 3.6-21.9 53.1-16 134.5-43.3 17.7-4.8 14.2-2.3 21.2-0.9 85-0.3 56.7 1.1 42.5-2.3 24.7-0.7 180.6-1.1 35.4-1.1 35.4-1.9 42.5-4 17.7-0.9 14.2 0.4 28.3 1.9 14.2 0.1 17.7-1.3 56.6-6.9 28.4-4.5 53.1-10 17.7-2.3 14.1-0.8 14.2 0.2 10.6 1 10.6 2.1 31.9 8.7 10.6 1.6 14.2 0.7 14.2-0.6 46-3.6 113.3-5.4 76.7-5.4" stroke="#EDB120"/>
<path d="M267.7 1127.8l10.6 4.6 17.7 10.1 7.1 3.4 7.1 2.1 7.1 0.4 3.5-0.4 7.1-2.1 28.3-14.4 7.1-2.7 7.1-1.9 7.1-1.2 10.6-1 42.5-1.4 10.6-1.3 10.6-2.6 10.6-4.7 10.7-7.7 7-6.8 17.7-20.3 7.1-7.4 7.1-6.4 7.1-5.2 10.6-6.1 31.9-15.2 35.4-18.5 10.6-4.5 10.6-3 7.1-1 7.1-0.1 7.1 0.7 7.1 1.6 14.1 5.1 28.3 13.4 10.7 4.4 14.1 4.4 14.2 2.2 14.2 0 7-0.8 10.7-2.2 10.6-3.4 7.1-2.9 14.1-7.5 10.6-7.2 7.1-5.5 10.7-9.5 7-7.2 17.7-21.7 14.2-19.2 21.2-32.2 28.4-47.4 31.8-56.6 56.7-103.4 10.6-18.7 10.6-17.5 10.7-15 7-7.9 3.6-3.2 7.1-5 3.5-1.9 7.1-2.6 10.6-2.1 17.7-1.2 81.4-0.6 35.5 2 10.6 0 10.6-0.7 31.9-4 24.7-1.5 53.2-1 88.5-0.3 38.9-1.2 35.4-2.5 35.4-4 10.7-1.8 31.8-6.9 10.6-1.5 7.1-0.4 14.2 0.9 28.3 4.2 7.1 0.5 7.1-0.3 7.1-0.8 10.6-2.1 28.3-7.6 24.8-5.8 24.8-7.2 56.6-18.4 17.7-4.4 14.2-2.1 14.2-0.6 7 0.4 7.1 0.9 10.6 3.2 24.8 11.1 7.1 2.7 10.6 2.2 14.2 0.5 14.2-0.9 38.9-4.8 63.7-5.8 35.4-3.8 49.6-6.5 48.4-7.7" stroke="#0072BD"/>
<path d="M267.7 1154.6l10.6 1.5 24.8 4.7 7.1 0.5 7.1-0.3 10.6-2.1 28.3-9.4 14.2-3.4 17.7-2.5 53.1-4.7 10.6-1.8 7.1-2.1 3.5-1.6 7.1-4.8 3.6-3.7 3.5-4.7 3.5-6 7.1-15.9 10.6-29.2 7.1-16.8 3.6-6.5 3.5-5.3 3.6-4.1 7-5.9 7.1-3.8 28.3-11.3 39-18.9 14.1-5.3 10.7-2.3 7.1-0.6 7 0.3 7.1 1.1 14.2 4.4 31.8 14.2 14.2 5.3 14.2 3.3 7.1 0.7 7 0.2 10.7-1.1 10.6-2.5 10.6-3.9 10.6-5.2 10.6-6.2 14.2-9.8 14.2-11.1 14.1-12.4 3.6 17.8 24.8-24.3 31.8-33.5 134.6-147.6 7.1-7 7-6 7.1-4.3 7.1-2.6 10.6-1.6 17.7-0.5 88.5-0.4 35.5 1.4 14.1-0.2 42.5-5 56.7-4 31.8-2.8 77.9-9.2 28.3-2.9 35.4-2.2 46.1-1.3 35.4-3.9 10.6-0.6 10.6 0.2 7.1 0.9 35.4 7.7 10.6 0.9 7.1-0.3 14.2-2.4 28.3-7.5 24.8-6 24.8-7.4 56.6-18.6 17.7-4.4 14.2-2.2 14.2-0.7 7 0.3 7.1 0.9 10.6 3.2 24.8 11.1 7.1 2.6 10.6 2.1 14.2 0.4 14.2-1 38.9-4.9 60.2-5.8 38.9-4.4 49.6-7 48.4-8.2" stroke="#77AC30"/>
<path d="M267.7 1310.1l35.4 4.9 14.2 0.6 10.6-0.6 24.8-3.4 14.1-1.4 17.7-0.8 42.5-0.6 17.7-1.3 10.7-1.8 10.6-3.1 10.6-4.6 24.8-12.6 7.1-2.6 10.6-2.9 21.2-3.4 56.7-7 17.7-1.5 14.2-0.5 17.7 0.6 56.6 6.1 28.3 1.7 21.3-0.1 74.3-2.4 3.6-56 208.9-2.4 99.1-0.1 31.9 0.3 42.5 2.3 10.6-0.3 31.9-2.3 21.2-0.5 219.5-1.2 92.1-1.2 63.7 0.7 77.9-2.4 77.9-5.2 24.8-0.8 14.2 0.1 14.1 0.8 46.1 6 17.7 1 14.1-0.3 35.4-2.1 21.3-0.8 182.9-2.7" stroke="#0072BD"/>
<path d="M267.7 1233.6l10.6 2.6 24.8 7.5 7.1 1.3 7.1 0.3 10.6-1.1 28.3-7.1 14.2-2.1 17.7-0.8 53.1 0.5 14.2-0.9 10.6-2.5 7.1-3.4 7-5.3 14.2-14.4 7.1-6.4 7.1-4.8 7.1-3.1 7-2.1 7.1-1.4 31.9-4.8 35.4-6.5 14.1-2 10.7-0.9 14.1 0 14.2 1.2 46 7.7 17.7 2.3 17.7 1.3 17.7 0 77.9-4.3 3.6-5.3 63.7-3.8 127.5-8.5 28.3-1.4 31.9-0.4 134.5-0.1 311.6-4.7 56.6-1.9 17.8 0.2 35.4 1.5 14.1 0 74.4-4.7 28.3-2.7 49.6-5.9 28.3-1.8 14.2 0.1 14.1 1 14.2 2.4 28.3 6.3 10.6 1.4 10.7 0.5 14.1-0.5 31.9-2.9 21.2-1.4 106.3-3 80.2-3" stroke="#7E2F8E"/>
<path d="M267.7 1308.7l35.4 5.6 10.6 0.5 7.1-0.4 10.6-1.8 28.4-7.1 38.9-8.2 17.7-4.9 17.7-6.6 17.7-8 46-23.1 17.8-7.5 14.1-5 21.3-6 24.7-5.2 24.8-3.8 21.3-1.9 28.3-0.3 74.4 3.7 60.1 0.5 60.2-1.2 198.3-6.9 141.6-0.4 237.3-1.7 109.7-1.3 56.7-1.4 63.7 1.1 77.9-3.7 24.8-2.1 53.1-5.8 24.8-1.3 14.2 0.2 14.1 1 10.6 1.5 35.5 6.3 10.6 1 10.6 0.4 14.2-0.4 31.8-2.1 21.3-0.9 102.7-2 80.2-2.1" stroke="#4DBEEE"/>
<path d="M267.7 1188.3l35.4 2.6 14.2 0.4 49.5-2.5 77.9-0.1 14.2-0.6 10.6-1.1 10.6-2.6 10.7-5.1 7-4.9 14.2-11.6 7.1-5 7.1-4 7.1-3 10.6-3.5 53.1-15.3 14.1-3.1 10.7-1.3 10.6-0.3 14.2 1.4 14.1 2.9 28.3 7.7 14.2 3.3 14.2 2.2 10.6 0.9 14.2-0.2 17.7-2.1 17.7-3.4 49.5-10.8 3.6 7.2 53.1-14 134.5-39.3 17.7-4.1 17.7-2.2 24.8-0.8 77.9-0.3 60.2 0.9 49.6-2.5 106.2-2.2 159.3-4.2 53.1-3 14.2 0.2 35.4 2.6 14.2 0.2 17.7-1.1 53.1-5.5 81.4-10.9 28.4-2.5 17.7-0.3 14.1 0.7 10.6 1.6 24.8 5.5 10.7 1.9 10.6 0.8 10.6 0.1 14.2-0.7 42.4-3.4 106.3-4.6 87.3-5.4" stroke="#A2142F"/>
<path d="M267.7 1090l35.4 6.3 7.1 0.7 7.1 0.1 10.6-1.1 24.8-5 14.1-2.1 17.7-1.3 53.2-1.4 10.6-1.5 7.1-1.9 3.5-1.5 7.1-4.8 3.5-3.5 3.6-4.5 3.5-5.7 7.1-15.1 14.1-39 7.1-17.2 7.1-12.8 7.1-8.8 3.5-3.3 7.1-5.2 21.3-12.7 10.6-7 28.3-21.6 10.6-7.4 10.6-5.9 7.1-2.7 7.1-1.4 7.1-0.1 7.1 1.1 7.1 2.5 7 3.4 7.1 4.4 28.3 20.9 14.2 9.2 7.1 3.7 7.1 3.1 10.6 3.3 10.6 1.6 7.1 0.1 7.1-0.6 7.1-1.5 7-2.6 7.1-3.7 10.6-8.3 7.1-7.4 10.6-14.1 10.7-17.5 14.1-27.9 3.6 0.2 3.5-7.8 21.3-50.9 24.7-64.2 113.3-307.6 21.3-55.2 10.6-23.8 7.1-13 3.5-5.3 7.1-8.3 3.6-3.1 7-4.2 3.6-1.4 7.1-1.8 10.6-1.3 14.1-0.6 53.2-0.6 49.5-2.4 99.2-8.1 116.8-7.9 42.5-3.9 42.5-5.6 38.9-7 10.7-3.2 31.8-12.5 7.1-1.8 7.1-1.1 7.1 0.2 7.1 1.4 24.7 9 7.1 2.1 7.1 1 7.1-0.3 7.1-1.6 10.6-4.3 28.3-15.6 17.7-8.4 10.6-5.6 21.3-12.6 42.5-27.8 17.7-10.3 14.1-6.5 7.1-2.5 7.1-1.8 7.1-1.2 7.1-0.4 7 0.4 7.1 1.6 3.6 1.5 7 4.4 24.8 20.6 7.1 4.8 7.1 3.1 3.5 0.7 7.1 0.7 7.1 0 14.2-1.8 38.9-8.4 60.2-11.1 31.9-7 24.8-6.4 28.3-8.1 24.8-7.9 27.1-9.6" stroke="#D95319"/>
<path d="M267.7 1238.8l155.8 12.2 17.7 0.8 14.2-0.7 7-1.5 3.6-1.2 7.1-3.9 3.5-2.8 7.1-7.2 14.1-17.9 7.1-7.6 7.1-5.6 7.1-3.7 10.6-3.3 10.6-1.7 53.1-5.7 24.8-1.9 14.2-0.2 14.2 0.5 56.6 5.2 31.9 1.6 35.4-0.2 56.6-2.1 3.6 4.1 60.2-3.4 134.5-8.7 35.4-1.4 99.2-0.3 53.1 1.3 56.6-1.9 233.7-1.8 81.4-1.4 67.3 0.9 74.4-2.7 81.4-5.5 28.3-0.9 24.8 0.9 14.2 1.6 31.9 4.6 21.2 0.9 14.2-0.5 31.8-2.3 21.3-0.9 182.9-3.5" stroke="#EDB120"/>
<path d="M267.7 1161.6l10.6 1.5 24.8 4.9 7.1 0.6 7.1-0.4 10.6-2.1 28.3-9.8 14.2-3.5 17.7-2.5 53.1-4.7 10.6-1.7 7.1-2 7.1-3.4 3.5-2.5 3.6-3.2 3.5-4.1 7.1-10.9 10.6-20.8 7.1-12.3 7.1-8.9 7.1-5.6 3.5-1.9 7.1-2.8 31.8-8.6 39-13.2 14.1-3.8 10.7-1.6 7.1-0.3 14.1 1 7.1 1.3 10.6 2.8 28.3 9.3 14.2 3.9 17.7 3.1 14.2 0.8 17.7-1.1 21.2-4 28.3-7.8 24.8-8.7 3.6 2.4 28.3-12.4 31.9-15.9 38.9-20.9 74.4-41.1 21.2-11.2 17.7-7.6 7.1-2.3 10.6-2.3 10.6-1.2 14.2-0.8 123.9-1.5 127.5-4.5 123.9-6.1 70.8-2.9 39-3.9 14.1-0.8 7.1 0 10.7 0.8 31.8 4.2 10.6 0.5 7.1-0.3 17.7-2.3 53.1-9.6 24.8-5.6 56.7-15.1 17.7-3.3 14.1-1.4 14.2 0.1 10.6 1.2 10.6 2.7 24.8 9 10.7 3 10.6 1.4 14.1 0.4 148.7-10.7 49.6-4.6 48.4-5.5" stroke="#77AC30"/>
<path d="M267.7 1198.1l35.4 3.1 14.2 0.4 10.6-0.4 38.9-2.9 60.2-1.4 17.7-1.9 7.1-1.5 7.1-2.3 7.1-3.2 7.1-4.3 10.6-8.6 21.2-20 7.1-5.5 10.6-6.4 10.7-4.7 10.6-3.6 46-13.7 14.2-3.6 10.6-1.9 10.6-1 7.1-0.1 10.6 0.9 17.7 3.3 42.5 11.2 14.2 2.5 14.1 1.7 14.2 0.7 14.2 0 28.3-1.9 17.7-2.3 21.2-3.8 3.6-5.9 53.1-12.2 134.5-34.4 14.2-3 14.2-1.9 24.7-1 141.7-0.7 201.8-3.4 116.8-2.8 53.1-2.9 17.8 0.3 35.4 2.2 14.1-0.1 17.7-1.2 53.1-5.2 28.4-3.6 53.1-8.1 17.7-1.9 14.1-0.7 14.2 0.2 10.6 0.9 10.6 1.8 24.8 5.8 10.7 2 10.6 1 10.6 0.3 14.2-0.5 46-3.1 102.7-4 87.3-4.8" stroke="#0072BD"/>
<path d="M267.7 1139.1l10.6 3.3 17.7 7.8 7.1 2.5 7.1 1.3 7.1-0.2 3.5-0.7 7.1-2.6 28.3-16 7.1-3.1 7.1-2.4 7.1-1.7 10.6-1.8 53.1-5.5 10.6-2.2 7.1-2.3 7.1-3.9 3.5-2.7 7.1-7.5 7.1-10.6 17.7-30.9 7.1-9.1 7.1-6.5 10.6-6.4 21.2-10 10.6-5.7 42.5-27.8 10.6-5.2 7.1-2.3 7.1-1.3 7.1-0.1 7.1 1.1 7.1 2.1 7 3.1 7.1 3.8 28.3 18.4 10.7 6.2 14.1 6.2 10.7 2.9 10.6 1.1 7.1-0.2 7-1 10.7-2.9 14.1-6 10.6-5.8 14.2-9.4 14.2-11 14.1-12.8 3.6 6.3 21.2-22 28.3-31.9 113.3-135.1 21.3-24.3 10.6-10.7 10.6-8.6 7.1-4.1 10.6-3.8 10.7-1.8 14.1-0.9 70.8-0.6 56.7-1 166.4-5.9 159.3-7.4 39-4.4 14.1-1 7.1-0.1 10.7 0.8 24.7 3.5 10.7 1 14.1-0.1 17.7-2.4 53.1-10.2 28.4-7 53.1-15.3 17.7-3.6 14.1-1.4 14.2 0.3 10.6 1.5 10.6 3.2 24.8 10.9 7.1 2.7 10.6 2.5 14.2 0.8 14.2-1 28.3-3.9 17.7-2 70.8-5.1 42.5-3.8 38.9-4.1 37.8-4.6" stroke="#A2142F"/>
<path d="M267.7 1158.6l10.6 3 17.7 6.6 7.1 2.2 7.1 1.3 7.1 0 10.6-2.3 28.3-11.9 14.2-4 17.7-2.4 49.6-2.8 10.6-1.4 10.6-2.6 7.1-3 3.5-2 7.1-5.7 3.5-3.7 7.1-9.1 14.2-22.1 7.1-9.9 7.1-7.9 7-5.7 10.7-5.7 10.6-3.8 49.5-14.8 17.7-4.2 10.7-1.3 7.1-0.3 7 0.2 10.7 1.2 14.1 3 31.9 9.1 14.1 3.3 17.8 2.8 14.1 0.9 21.3-0.5 10.6-1.1 14.1-2.3 21.3-5.1 21.2-7.3 3.6 5.2 21.2-9.5 28.3-14.2 113.3-61.7 21.3-11.2 10.6-4.9 10.6-4.1 7.1-2.1 10.6-2.2 14.2-1.3 24.8-0.7 74.3-0.2 46.1 1 38.9-2.6 21.3-1 138.1-2.9 56.6-1.7 49.6-2.3 35.4-2.6 10.6-0.2 7.1 0.9 3.5 1 7.1 3.3 3.5 2.4 7.1 6.4 14.2 16.1 7.1 6.5 3.5 2 3.6 1.1 3.5 0.1 3.5-0.9 3.6-1.8 3.5-2.5 7.1-6.8 3.5-4.2 3.6-167.5 7.1 25.5 10.6 30.3 10.6 32.8 3.5 8.8 3.6 6 3.5 3.2 3.6 1.1 7.1 0.4 3.5 1 3.5 1.8 10.7 7 3.5 1.7 7.1 2.2 14.1 1.7 14.2-0.1 17.7-1.6 49.6-6.5 14.1-0.9 14.2 0.1 10.6 0.9 7.1 1.3 28.3 8.4 10.7 2.6 10.6 1 10.6 0.1 14.2-0.8 46-4.5 67.3-3.9 42.5-3.1 80.2-7.5" stroke="#D95319"/>
<path d="M267.7 1175.6l35.4 5.8 14.2 0.9 10.6-0.5 28.3-3.5 14.2-1 60.2-0.4 10.6-1.2 7.1-1.9 7.1-3.4 3.5-2.5 7.1-7 7.1-9.8 10.6-17.6 7.1-10.9 7-8.3 7.1-5.8 3.6-2.2 7.1-3.3 24.7-8.1 14.2-5.5 10.6-5 35.4-18.7 10.6-4.1 7.1-1.9 7.1-1 7.1-0.1 7.1 0.8 7.1 1.7 14.1 5.4 28.3 14.4 10.7 4.7 10.6 3.7 10.6 2.5 10.6 1 7.1-0.1 7.1-0.7 10.6-2.1 14.2-4.6 14.1-6 14.2-6.9 14.2-7.9 14.1-8.7 3.6-12.4 24.8-17.6 31.8-24.9 138.1-115.6 10.6-7.7 7.1-4.1 7.1-2.9 7.1-1.9 10.6-1.3 21.2-0.6 77.9-0.3 46.1 1.2 46-2.9 31.9-0.7 49.5 0.2 88.6 2 24.7-0.1 21.3-0.6 28.3-1.7 28.3-2.6 39-5.8 17.7-1.9 14.2 0 35.4 2.4 17.7-0.7 74.3-11.1 74.4-13.8 24.8-2.9 17.7-0.4 14.1 1.1 14.2 3.5 28.3 9.3 10.6 1.9 10.7 0.4 14.1-1 31.9-4.8 17.7-2 106.2-6.7 83.8-7.4" stroke="#A2142F"/>
<path d="M267.7 1218.7l10.6 1.2 24.8 4 7.1 0.5 7.1-0.2 10.6-1.6 28.3-7.3 14.2-2.5 17.7-1.8 49.6-3.1 17.7-2.1 10.6-2.4 7.1-2.5 7-3.3 21.3-11.9 7.1-3.1 7.1-2.3 10.6-2.4 31.8-5.2 42.5-8.4 10.6-1.6 10.7-0.9 14.1-0.1 14.2 1.3 14.2 2.3 35.4 6.9 24.8 3.4 28.3 1.8 31.8 0.2 42.5-2 3.6-5.4 60.2-5.5 134.5-14.2 31.9-2.2 102.7-0.3 14.1 0.5 28.4 2.1 10.6 0.3 10.6-0.4 31.9-2.8 21.2-0.7 226.6-2.7 31.9-0.5 49.5-1.7 17.8 0.2 35.4 1.3 14.1-0.1 77.9-4.6 24.8-2.4 49.6-6 28.3-1.8 14.2 0.1 14.1 1 10.6 1.6 35.5 6.7 10.6 1 10.6 0.3 14.2-0.4 49.5-3 102.7-2.5 83.8-2.8" stroke="#7E2F8E"/>
<path d="M267.7 1232.9l35.4 7.7 14.2 2 10.6 0.5 38.9-0.3 60.2 4.6 14.2 0.3 10.6-0.7 7.1-1.3 7.1-2.2 7.1-3.4 3.5-2.2 10.6-8.8 24.8-25.5 7.1-5.8 10.6-6.7 10.6-4.8 10.7-3.6 42.4-11.3 14.2-2.8 10.6-1.3 10.7-0.6 10.6 0.4 17.7 2.3 31.8 6.5 14.2 2.5 14.2 1.5 10.6 0.4 10.6-0.4 14.2-1.4 14.1-2.4 21.3-4.6 38.9-9.3 3.6-47.5 56.6-15.5 134.6-39.5 17.7-4.3 17.7-2.9 14.1-1 14.2-0.4 81.4-0.4 46.1 0.4 67.2-2.3 180.6-1.9 70.8-2.8 42.5-3.7 14.2-0.8 14.2 0.3 31.8 2.2 17.7 0 17.7-1.6 56.7-6.8 24.8-3.8 53.1-9.4 14.1-1.8 14.2-1.1 14.2 0 14.1 1.3 14.2 3.2 28.3 8.5 10.6 1.8 10.7 0.5 14.1-0.6 31.9-3.8 17.7-1.6 106.2-5.2 83.8-5.7" stroke="#EDB120"/>
<path d="M267.7 1092.1l10.6 3.1 24.8 8.7 7.1 1.5 7.1 0.4 10.6-1.2 28.3-7.9 14.2-2.3 17.7-0.8 38.9 0.7 14.2-0.2 14.2-1.4 10.6-3 7.1-3.8 3.5-2.6 7.1-7.1 3.5-4.6 7.1-11.2 14.2-26.7 7.1-12.4 7-10.3 3.6-4.3 7.1-7.2 7-5.9 7.1-4.9 46-29.7 14.2-7.4 10.6-3.6 7.1-1.2 7.1-0.1 7.1 0.8 7.1 1.9 7 2.7 7.1 3.4 24.8 13.9 10.6 5.5 14.2 5.3 10.6 2.2 7.1 0.5 7.1-0.3 7.1-1.2 7-2 7.1-2.9 7.1-3.9 10.6-7.4 10.6-9.5 14.2-15.8 14.2-19.3 14.1-22.4 3.6 4 21.2-38.9 28.3-56.7 31.9-67.1 74.4-159.6 21.2-43.3 7.1-13 7.1-11.7 7.1-9.9 3.5-4.1 3.5-3.7 7.1-5.7 3.6-2.1 7-3.1 10.7-2.7 17.7-1.6 131-1.8 56.6-3.8 123.9-5.3 60.2-3.3 39-2.9 38.9-3.6 10.7-1.7 31.8-6.6 14.2-1.5 7.1 0.2 7.1 0.8 31.8 6.2 7.1 0.6 7.1-0.1 7.1-0.9 10.6-2.4 28.3-8.6 28.3-8 24.8-8.9 53.1-21.6 17.7-5.4 14.2-2.6 14.2-0.5 7 0.6 7.1 1.4 10.6 4.3 24.8 14.5 7.1 3.5 7.1 2.4 3.5 0.7 7.1 0.8 7.1 0.1 14.2-1.3 28.3-5 17.7-2.5 60.2-6.5 42.5-5.5 42.5-6.7 44.8-8.4" stroke="#EDB120"/>
<path d="M267.7 1109.5l10.6 1.1 24.8 3.8 7.1 0.3 7.1-0.6 10.6-2.3 28.3-9.8 14.2-3.6 17.7-2.9 42.5-5.1 10.6-2.1 7.1-2.2 7.1-3.2 3.5-2.2 7.1-5.8 7.1-7.8 14.1-17 3.6-3.5 7-5.7 10.7-5.6 24.8-9.2 14.1-7 7.1-4.3 10.6-7.6 24.8-20.3 10.6-8.1 10.6-6.3 10.7-3.9 7.1-0.9 7 0.5 7.1 1.8 7.1 3 10.6 6.3 24.8 18.4 10.6 7 10.6 5.6 10.7 3.6 7.1 1.1 7 0.1 10.7-1.8 10.6-4.1 7.1-3.9 7-4.8 7.1-5.6 10.6-9.6 10.7-11 10.6-12.2 10.6-13.6 10.6-14.9 3.6-3.5 17.7-28.2 24.8-43.7 31.8-60.8 31.9-63.5 81.4-165 7.1-12.7 7.1-10.6 3.5-4.2 3.6-3.2 3.5-2.4 3.6-1.7 7-1.9 14.2-1 145.2-1.1 60.2-4.5 131-5.2 46-2.4 42.5-3.2 38.9-4 10.7-1.9 31.8-7.2 14.2-1.6 7.1 0.1 7.1 0.8 31.8 6.4 7.1 0.6 7.1-0.2 7.1-0.9 10.6-2.5 28.3-9.1 28.3-8.4 24.8-9.5 42.5-18.8 14.2-5.8 14.1-4.5 14.2-2.7 14.2-0.5 7 0.7 7.1 1.5 10.6 4.6 24.8 15.4 7.1 3.7 7.1 2.6 3.5 0.7 7.1 0.9 7.1 0.2 14.2-1.3 28.3-5 17.7-2.6 60.2-6.8 38.9-5.2 46.1-7.5 44.8-8.8" stroke="#77AC30"/>
<path d="M267.7 1271.2l10.6 3.3 24.8 9.1 7.1 1.7 7.1 0.8 10.6-0.5 28.3-5.3 14.2-1.3 17.7 0.3 46 3 10.6 0 10.7-1.2 7-2 3.6-1.5 7.1-4.6 3.5-3.1 7.1-7.9 14.1-19.8 7.1-9.1 7.1-7.1 3.6-2.9 7-4.3 10.7-4.2 10.6-2.7 49.5-10.2 17.7-2.8 17.8-1.2 17.7 1 14.1 2.1 46 8.4 14.2 1.8 17.7 1.3 21.3 0.5 21.2-0.4 21.2-1.1 24.8-2.3 3.6-75.6 49.5-6.8 124-20.7 28.3-3.9 14.2-1 21.2-0.6 148.7-0.3 46-1.4 113.3-2 152.3-3.6 56.6-2.8 17.8 0.3 35.4 2.3 14.1 0 17.7-1.3 53.1-5 28.4-3.5 53.1-7.7 14.1-1.4 14.2-0.9 14.2 0 14.1 1 14.2 2.6 28.3 6.9 10.6 1.5 10.7 0.4 14.1-0.5 49.6-4.4 106.2-4.3 83.8-4.7" stroke="#A2142F"/>
<path d="M267.7 1229.8l10.6 1.5 24.8 5.2 7.1 0.5 7.1-0.6 10.6-2.8 28.3-12 14.2-4.5 17.7-3.4 46-6.2 10.6-2.2 10.7-3.1 10.6-5 7.1-5 3.5-3 10.6-11.7 14.2-18.4 7.1-8.3 7.1-6.9 7-5.2 7.1-4 10.6-4.7 53.1-19.9 17.7-5.3 10.7-1.7 7.1-0.4 7 0.3 7.1 0.9 7.1 1.4 10.6 3 28.3 10 14.2 4.4 17.7 3.6 14.2 1.2 17.7-0.5 17.7-2.4 24.8-5 28.3-7.4 3.5-1 3.6-24.4 28.3-9.4 31.9-11.8 127.4-51.4 14.2-4.8 10.6-2 21.3-1.1 141.6-0.8 81.4-2.3 166.4-2.5 39-1.6 38.9-2.3 42.5-5 14.2-0.9 14.2 0.3 31.8 3.1 14.2 0.2 17.7-1.8 56.6-9 24.8-4.8 56.7-12.6 14.1-2.3 14.2-1.4 14.2-0.1 14.1 1.3 10.6 2.6 24.8 8.9 10.7 3 10.6 1.4 10.6 0.3 14.2-1 42.4-5.2 106.3-6.8 42.5-3.6 44.8-4.5" stroke="#7E2F8E"/>
<path d="M267.7 1099.9l10.6 3.4 17.7 7.7 7.1 2.6 7.1 1.4 7.1 0 3.5-0.6 7.1-2.3 7.1-3.3 17.7-9.6 7.1-3.1 7-2.5 14.2-3.1 31.9-3.6 10.6-1.7 10.6-2.7 7.1-2.8 7.1-4 3.5-2.6 7.1-6.6 3.5-4.2 10.7-15.3 14.1-23.9 7.1-10.9 7.1-9.1 3.5-3.8 7.1-6.2 7.1-4.8 7.1-3.8 24.8-11.5 10.6-5.4 35.4-20.4 10.6-5 7.1-2.4 7.1-1.6 7.1-0.7 7 0.4 7.1 1.3 7.1 2.1 7.1 2.8 31.8 16.4 14.2 6 7.1 2.2 7.1 1.5 7.1 0.8 7 0.1 10.7-1.2 10.6-2.8 10.6-4.5 14.2-8.4 10.6-8.2 14.1-13 10.7-11.3 14.1-16.8 3.6 27.6 21.2-28.4 28.3-41 31.9-48.2 74.4-114.4 21.2-31 14.2-17.9 10.6-10.5 3.5-2.7 7.1-4.4 10.6-4.2 7.1-1.6 7.1-0.9 21.2-1.2 77.9-0.7 35.5 1.2 10.6-0.1 10.6-0.8 31.9-3.7 21.2-1.3 49.6-1.7 92-2.1 42.5-2 35.4-2.7 35.4-3.9 10.7-2 31.8-7.2 14.2-1.8 7.1 0 7.1 0.7 31.8 5.7 7.1 0.6 7.1-0.2 7.1-1 10.6-2.3 28.3-8.6 24.8-6.6 24.8-8.1 42.5-15.5 14.1-4.7 17.7-4.8 14.2-2.3 14.2-0.8 7 0.3 7.1 0.9 10.6 3.4 24.8 11.9 7.1 2.8 7.1 1.8 3.5 0.4 14.2 0.5 14.2-1 38.9-5 56.7-5.7 38.9-4.7 49.6-7.4 51.9-9.4" stroke="#D95319"/>
<path d="M267.7 1134.5l49.6-5 49.5-7.8 63.8-8.7 17.7-3.2 7.1-1.8 7-2.5 7.1-3.5 3.6-2.3 7-6.1 3.6-4 7.1-9.4 17.7-26.6 7.1-8.4 7-6.5 10.7-7.2 17.7-10.2 10.6-6.7 28.3-20.3 10.6-7 10.6-5.5 7.1-2.5 7.1-1.3 7.1-0.2 7.1 1.1 7.1 2.3 7 3.2 7.1 4.1 28.3 19.3 10.7 6.5 14.1 6.7 10.7 3.2 7 1.2 7.1 0.4 7.1-0.3 7.1-1.1 7.1-1.9 7-2.8 7.1-3.8 7.1-4.7 10.6-9 10.6-11.4 10.7-13.4 14.1-20.9 3.6-0.6 3.5-5.8 21.3-37 28.3-53.1 116.8-228.7 21.3-40.3 10.6-17.5 7.1-9.3 7.1-6.6 3.5-2.3 7.1-3.1 10.6-2 14.2-0.7 88.5-0.9 35.4 0.5 10.6-0.5 46-5 116.9-7.7 148.7-12.8 14.2-2.2 28.3-6.5 14.1-2 7.1-0.1 7.1 0.7 35.4 8.5 7.1 0.8 7.1-0.1 7.1-1 10.6-2.8 28.3-10.2 24.8-7.9 24.8-9.7 38.9-17.1 17.7-7.2 17.7-5.7 14.2-2.8 14.2-0.9 7 0.4 7.1 1.3 10.6 4.4 24.8 15.3 7.1 3.6 7.1 2.4 3.5 0.6 7.1 0.6 7.1 0 14.2-1.7 42.4-8.2 63.8-8.2 38.9-6 46.1-8.6 44.8-10.1" stroke="#4DBEEE"/>
<path d="M267.7 1076.9l10.6-5.9 14.2-9.8 14.1-11.6 14.2-13 10.6-12.9 24.8-36.8 7.1-8.9 7.1-6.9 14.1-9.2 10.7-5.9 10.6-4.3 7.1-1.5 7.1-0.2 7 0.7 14.2 3.3 35.4 11.9 24.8 11.6 7.1 2.8 7.1 2 7 0.8 10.7-0.7 14.1-2.9 14.2-4.5 31.8-11.9 17.7-5.2 14.2-2 7.1 0 3.5 0.5 10.7 3.5 10.6 5.8 10.6 7.5 31.9 25.5 7 4.9 7.1 4.2 7.1 3.3 7.1 2.1 7.1 0.8 7.1-0.3 14.1-1.7 14.2-3.5 10.6-4.1 7.1-3.4 7.1-4 10.6-7.1 24.8-5.9 28.3-8.4 148.7-51.3 14.2-3.8 14.1-2.4 24.8-1.2 77.9-0.3 53.1-1 233.7-7.6 56.7-2.6 49.5-2.9 42.5-5.7 14.2-0.9 14.2 0.6 31.8 4.4 14.2 0.3 17.7-2.2 56.6-11.5 24.8-6.1 56.7-15.8 14.1-2.9 14.2-1.8 14.2-0.3 14.1 1.4 10.6 3 24.8 10.2 7.1 2.5 10.6 2.2 14.2 0.7 14.2-1 46-5.5 63.7-4.8 42.5-3.9 42.5-4.7 41.3-5.4" stroke="#EDB120"/>
<path d="M267.7 1194.8l10.6 2.6 24.8 7.6 7.1 1.1 7.1 0.1 10.6-1.9 28.3-9.6 14.2-3.2 17.7-1.7 42.5-2 7.1-0.9 7-1.5 7.1-2.9 3.6-2.2 3.5-2.8 3.5-3.7 3.6-4.6 7.1-12.1 10.6-22.1 7.1-13.1 7-9.6 3.6-3.4 7.1-4.7 7.1-2.7 10.6-2.3 31.8-4.6 42.5-7.7 21.3-2.3 10.6-0.2 14.2 0.9 14.1 1.9 42.5 7.3 14.2 1.4 14.1 0.6 21.3-1.1 42.5-5.3 31.8-3.2 3.6 46.7 31.8-3.4 31.9-4.1 138.1-19.6 14.2-1.6 14.1-0.8 155.8-0.4 315.1-5.1 53.1-1.6 17.8 0.3 31.8 1.5 17.7 0 70.8-4.2 81.5-7.6 17.7-1.2 14.1-0.5 14.2 0.3 10.6 0.8 14.2 2.2 31.9 6.3 10.6 1 10.6 0.1 14.2-0.9 31.8-3.3 17.7-1.1 109.8-3.1 76.7-3" stroke="#7E2F8E"/>
<path d="M267.7 1223.7l10.6 1.4 24.8 4.8 10.6 0.3 7.1-1 10.6-3.1 24.8-9.6 14.2-4 21.2-3.5 53.1-5.8 10.7-1.9 7-2 7.1-3 7.1-4.5 17.7-16.1 7.1-5.3 7.1-3.6 7.1-2.2 10.6-1.9 35.4-4.3 38.9-6.1 21.3-1.9 14.1-0.1 14.2 1.1 53.1 7.7 24.8 2.2 21.2 0.3 46.1-0.8 31.8 1.1 3.6-4.5 46 3.4 134.6 11.8 24.7 1.8 24.8 0.6 102.7 0.2 46 2.3 14.2-0.3 31.9-2.4 21.2-0.5 230.2-2.2 77.8-1.7 53.2 1.2 21.2-0.2 74.4-3.8 74.3-7.4 24.8-1.3 14.2 0.2 14.1 0.8 46.1 6.8 21.2 1.2 63.7-2.2 102.7-2 83.8-2.2" stroke="#7E2F8E"/>
<path d="M267.7 1266.1l53.1 4.5 46 1.8 63.8 3.5 14.1 0.4 10.7-0.3 10.6-1.4 10.6-3 10.6-5 21.3-12.2 10.6-4.2 10.6-2.8 17.7-2.8 53.1-6.2 14.2-1.1 14.2-0.4 21.2 0.8 53.1 5.4 24.8 1.4 24.8 0 74.3-2.4 3.6-13.6 216-3.3 113.3 0 53.1 2.5 10.6-0.4 31.9-2.2 21.2-0.5 219.5-1.1 92.1-1.1 67.3 0.6 77.9-2.6 24.7-1.7 49.6-4.3 24.8-1.1 14.2 0.2 14.1 0.9 46.1 6.3 21.2 1.2 67.3-2.3 182.9-2.5" stroke="#D95319"/>
<path d="M267.7 1171.3l10.6 2.8 17.7 6.3 7.1 2.1 7.1 1.1 3.5 0.1 7.1-0.8 10.6-3.4 24.8-11.4 14.2-4.4 17.7-2.7 46-4 10.6-1.7 10.7-2.7 7-2.8 7.1-3.7 28.3-20 7.1-3.7 10.7-3.7 14.1-2.8 31.9-4.4 35.4-5.5 14.1-1.6 10.7-0.8 14.1 0 14.2 1 53.1 7.4 28.3 2.1 31.9-0.2 63.7-3.8 3.6 39.8 60.2-5 134.5-12.5 24.8-1.6 159.3-0.5 70.8-1.2 173.5-1.2 77.9-1.8 56.7-2.7 14.2 0.1 31.8 1.5 17.7 0 70.8-5 28.4-2.8 56.6-6.6 28.3-1.6 14.2 0.3 10.6 0.9 14.2 2.4 31.9 7 10.6 1.1 10.6 0.2 10.6-0.6 31.9-3.3 21.2-1.5 106.3-3.3 80.2-3.5" stroke="#4DBEEE"/>
<path d="M267.7 1143.4l10.6 1.4 24.8 4.3 7.1 0.5 7.1-0.2 10.6-1.6 24.8-6.6 10.6-2.4 14.2-2.1 38.9-4 10.6-2.2 7.1-2.1 7.1-3.2 7.1-4.4 7.1-6.1 3.5-3.8 7.1-8.9 17.7-26.7 7.1-9.8 7-8.1 3.6-3.3 7.1-5.5 7.1-4 10.6-4.5 31.8-10.4 39-15 14.1-4.1 10.7-1.8 7.1-0.4 7 0.2 10.7 1.6 14.1 4 31.9 11.8 14.1 4.4 14.2 3.1 17.7 1.8 10.6 0.1 10.7-0.7 21.2-3 21.2-5.1 24.8-8.2 3.6 3.5 24.8-10.5 28.3-13.3 134.5-67.1 10.7-4.5 7-2.5 7.1-1.9 7.1-1.2 14.2-1.2 17.7-0.3 84.9-0.4 42.5 0.7 14.2-0.6 31.9-2.4 28.3-1 49.6-0.8 88.5-0.5 35.4-0.8 35.4-1.9 38.9-3.3 42.5-6.9 17.7-1.5 14.2 0.8 28.3 3.4 14.2 0.2 17.7-2.4 56.6-11.5 24.8-5.9 53.1-14.4 14.2-3 14.2-2 17.7-0.6 14.1 1.4 10.6 3 24.8 10.5 10.7 3.6 10.6 1.6 10.6 0.2 14.2-1.2 42.4-6.1 106.3-8.7 42.5-4.6 44.8-5.7" stroke="#EDB120"/>
<path d="M267.7 1091.7l10.6 3.7 24.8 10.5 7.1 1.9 7.1 0.6 10.6-1.1 24.8-7.6 14.1-2.9 14.2-1 31.9 0.4 14.1-0.6 10.7-2 7-2.7 3.6-2 7.1-5.8 3.5-3.9 7.1-10.4 7.1-13.7 21.2-48.6 7.1-12.9 7.1-10 3.5-4.1 7.1-6.8 24.8-18.4 14.1-12 10.7-10.4 21.2-22.6 10.6-10.3 10.6-8.1 7.1-3.6 3.6-1.2 7.1-1.1 7 0.7 7.1 2.4 7.1 4 7.1 5.4 7.1 6.4 24.7 24.9 10.7 9.6 7 5.3 7.1 4.5 10.7 4.8 7 1.9 7.1 0.9 7.1-0.1 10.6-1.9 7.1-2.5 7.1-3.4 7.1-4.6 7-5.6 10.7-10.6 10.6-13.2 10.6-15.6 10.6-18.1 3.6 1.3 10.6-20.7 21.2-45.9 24.8-58.5 31.9-79.1 67.3-170.7 14.1-34.7 10.7-24.3 10.6-21.4 7.1-11.7 3.5-4.9 3.5-4.3 7.1-6.8 3.6-2.5 7-3.8 7.1-2.3 7.1-1.4 17.7-1.5 81.4-1.3 35.5 0.6 10.6-0.2 10.6-1 28.3-4.2 17.7-1.8 116.9-7.9 60.2-4.9 46-4.8 38.9-5.1 10.7-2.4 31.8-9.6 7.1-1.3 7.1-0.7 7.1 0.2 7.1 1.2 24.7 7.5 7.1 1.7 7.1 0.9 7.1-0.2 7.1-1.3 10.6-3.4 28.3-12.5 28.3-11.1 21.3-10 42.5-21.7 17.7-8 14.1-5.1 14.2-3.4 14.2-1.3 7 0.2 7.1 1 3.6 1.2 7 3.2 21.3 13.4 10.6 5.7 7.1 2.3 3.5 0.4 7.1 0.5 10.6-0.3 14.2-1.6 81.4-11.9 42.5-7.2 24.8-5 28.3-6.5 28.4-7.2 27.1-7.7" stroke="#0072BD"/>
<path d="M267.7 1171.9l35.4 8.2 7.1 1 7.1 0.5 10.6-0.5 24.8-3.8 14.1-1.4 17.7-0.4 46.1 1.1 10.6-0.6 7.1-1.2 7.1-2.5 3.5-1.9 7.1-5.9 3.5-4.1 7.1-10.9 14.2-26.8 7-11.3 7.1-8.2 7.1-5.4 7.1-3.3 10.6-3 31.9-6 42.5-9.1 10.6-1.4 10.6-0.8 17.7 0.6 17.7 2.7 31.9 6.7 17.7 3.1 17.7 2 17.7 0.8 21.2-0.1 21.3-1.6 17.7-2.7 17.7-4 3.5-0.9 3.6-10.8 14.1-4.6 14.2-5.4 31.9-14.4 38.9-20 74.4-40.1 17.7-9.1 14.1-5.7 7.1-1.8 7.1-1.2 10.6-0.7 21.3-0.3 84.9-0.3 35.5 0.8 14.1-0.1 49.6-3.1 109.7-3.4 155.8-6.2 39-3.7 14.1-0.9 14.2 0.3 35.4 3.9 14.2 0.3 17.7-1.7 56.6-9.1 24.8-5.1 56.7-13.3 14.1-2.4 14.2-1.4 14.2-0.2 14.1 1.4 10.6 2.7 24.8 9.1 10.7 3.1 10.6 1.4 10.6 0.4 14.2-0.9 42.4-5 106.3-7 42.5-3.6 44.8-4.6" stroke="#0072BD"/>
<path d="M267.7 1230.1l10.6 3.5 24.8 9.7 7.1 1.7 7.1 0.6 10.6-1.2 28.3-8.4 14.2-2.4 17.7-0.7 46 1.2 17.7-0.9 10.6-2 10.7-4.1 7-4 21.3-14.1 7.1-3.6 10.6-3.8 10.6-2.3 14.2-2 53.1-6.2 24.8-1.8 14.1 0 14.2 0.7 63.7 6.2 31.9 0.8 81.4-3 3.6-1.6 216-7 113.3-0.3 53.1 0.6 60.2-1.4 219.5-1.7 42.5-0.7 53.1-1.6 49.6 1.2 17.7-0.2 74.3-3.9 24.8-2.2 53.1-5.8 24.8-1.3 14.2 0.1 14.1 0.9 10.6 1.4 35.5 5.9 21.2 1.2 14.2-0.3 49.5-2.3 102.7-2.2 83.8-2.4" stroke="#77AC30"/>
<path d="M267.7 1222.9l10.6 2.4 24.8 7 7.1 1.1 7.1 0.2 10.6-1.4 28.3-7.8 14.2-2.4 14.1-1.1 42.5-1.2 10.7-0.9 7-1.1 10.7-3.1 10.6-5.6 7.1-5.5 17.7-17.1 7-6.1 7.1-4.9 7.1-3.6 7.1-2.6 10.6-2.7 77.9-14.1 17.7-1.5 17.7 0.6 17.7 2.3 31.9 6 17.7 2.9 17.7 1.9 17.7 1.1 21.2 0.5 21.3-0.5 17.7-1.4 21.2-2.7 3.6 5.7 24.8-4.8 28.3-6.5 138.1-34.8 17.7-3.6 14.1-1.6 28.4-0.7 134.5-0.1 315.1-4.5 53.1-1.6 17.8 0.2 31.8 1.3 17.7 0.1 74.4-4.2 81.4-7.6 28.3-1.3 14.2 0.3 10.6 0.8 14.2 2.2 31.9 6.3 10.6 1 10.6 0.2 14.2-0.9 31.8-3.2 17.7-1.1 109.8-2.9 76.7-2.7" stroke="#7E2F8E"/>
<path d="M267.7 1218.3l10.6 1.7 24.8 5.1 10.6 0.8 7.1-0.4 10.6-1.9 24.8-6.5 14.2-2.4 17.7-1.5 46-2 10.6-0.9 10.7-1.6 14.1-3.8 28.3-12.3 7.1-2.2 10.7-2.4 84.9-10.4 24.8-1.7 10.6 0 14.2 0.9 53.1 6.3 28.3 1.9 31.9 0 63.7-2.4 3.6 22.7 63.7-3.2 134.6-7.8 28.3-1.2 102.7-0.2 53.1 1.4 56.6-2.1 223.1-2 42.5-0.6 49.5-1.4 53.2 1.2 17.7-0.1 74.3-3.7 24.8-2.1 53.1-5.6 24.8-1.3 14.2 0.1 14.1 1 46.1 7.1 21.2 1.3 14.2-0.3 49.5-2.4 106.3-2.1 80.2-2.2" stroke="#A2142F"/>
<path d="M267.7 1214.4l10.6 2.9 24.8 8.4 10.6 1.6 7.1-0.3 10.6-2.3 24.8-8.1 7.1-1.7 10.6-1.7 17.7-1 60.2-0.3 10.6-0.8 7.1-1.2 7.1-2.1 7.1-3.4 7.1-5 17.7-14.6 7.1-4.2 7-2.8 14.2-3.1 63.7-9.1 17.7-1.7 17.7-0.2 17.7 1.3 46.1 6.4 21.2 2 28.3 0.7 31.9-1.2 46-3.6 3.6-4.5 53.1-6 138.1-17.4 31.8-2.8 39-0.7 123.9 0.2 49.6-1.1 265.5-3.4 53.1-1.4 49.6 1.5 17.7 0 74.4-3.8 77.9-6.9 28.3-1.5 14.2 0 14.1 0.7 46.1 6.2 21.2 0.9 60.2-2.4 106.2-2.4 83.8-2.6" stroke="#0072BD"/>
<path d="M267.7 1251.2l35.4 3.9 14.2 1 46-0.5 49.6 1.2 17.7-0.6 10.6-1.6 10.6-3.6 7.1-3.6 21.2-13.2 7.1-3.2 10.6-3 17.8-2.4 38.9-2.6 49.6-4.6 21.2-1 24.8 0.6 49.6 4.4 28.3 1.2 21.2-0.5 46.1-3.2 31.8-1.1 3.6 5.3 219.5-2.7 109.8 0 53.1 0.9 56.6-1.3 223.1-1.1 92-1 70.9 0.5 77.9-2.4 24.7-1.6 49.6-4.2 24.8-1 14.2 0.3 14.1 0.9 46.1 6.7 21.2 1.2 67.3-3 182.9-2.4" stroke="#EDB120"/>
<path d="M267.7 1217.5l35.4 7.7 14.2 2 10.6 0.5 38.9-0.3 60.2 4.7 14.2 0.4 10.6-0.7 10.6-2.1 10.7-4.5 7-4.3 24.8-18.2 10.7-5.7 10.6-3.9 17.7-4.2 49.5-9.2 17.7-2.5 14.2-1 14.2 0.3 14.1 1.3 42.5 7 17.7 2.3 17.7 1.3 17.7 0.2 77.9-2.6 3.6-2.4 208.9-4.4 120.4-0.2 53.1 2.1 56.6-3 258.5-3.3 53.1-1.6 17.7 0.1 39 1.4 17.7-0.1 74.3-4.4 24.8-2.5 53.1-6.7 24.8-1.6 14.2 0.2 14.1 1.1 10.6 1.6 35.5 7.2 10.6 1.1 10.6 0.3 14.2-0.3 49.5-3.1 106.3-2.5 80.2-2.6" stroke="#D95319"/>
<path d="M267.7 1251.7l49.6-6.9 95.6-18 21.2-5.2 7.1-2.6 7.1-3.3 7.1-4.5 7-6 7.1-8 3.6-4.9 7-11.3 21.3-38.4 7.1-10.2 3.5-4.3 7.1-6.8 7.1-5.1 10.6-5.3 10.6-3.9 39-12.5 14.1-4.1 14.2-3 10.6-1 10.6 0.1 14.2 1.8 10.6 2.4 39 10.8 14.1 2.7 14.2 1.4 14.2 0.1 17.7-1.4 17.7-2.9 24.7-5.1 24.8-6.2 3.6-25.6 28.3-8.3 31.9-10.4 127.4-44.2 14.2-4.2 14.2-3.2 14.1-1.6 21.3-0.8 138.1-0.3 38.9-1.8 88.5-2.8 102.7-4.8 85-2 46-2.4 17.7 0.4 39 3.7 14.1 0 17.7-1.5 53.1-6.5 24.8-3.8 56.7-10 17.7-2.2 14.1-0.8 14.2 0.2 10.6 1.1 10.6 2.3 24.8 7.8 10.7 2.7 10.6 1.3 10.6 0.2 10.6-0.7 31.9-4.2 17.7-1.7 106.2-5.6 83.8-6.1" stroke="#EDB120"/>
<path d="M267.7 1178.8l10.6 4.2 17.7 9.2 7.1 3.1 7.1 2 7.1 0.4 3.5-0.5 7.1-1.9 28.3-13.6 7.1-2.6 7.1-1.8 7.1-1.1 10.6-0.9 46-1.4 10.6-1.1 7.1-1.5 10.6-3.8 7.1-4 3.6-2.6 7-6.1 21.3-21 7.1-5.4 10.6-5.8 14.2-4.9 28.3-7.1 31.8-8.8 10.7-2.5 10.6-1.8 14.2-1 7 0.2 10.7 1.1 14.1 2.8 28.3 7.3 14.2 3.1 14.2 2.2 10.6 0.8 14.2 0 14.1-1.2 14.2-2.3 17.7-3.8 21.2-5.5 17.7-5.4 3.6-15.8 24.8-8.7 28.3-11 134.5-54.9 17.7-6.2 10.7-2.6 7-1.1 10.7-1 14.1-0.5 127.5-0.8 81.4-2.3 170-2.8 35.4-1.4 38.9-2.3 42.5-4.8 14.2-0.9 14.2 0.3 31.8 3.1 14.2 0.2 17.7-1.8 56.6-8.8 24.8-4.7 56.7-12.3 14.1-2.2 14.2-1.3 14.2-0.2 14.1 1.2 10.6 2.5 24.8 8.5 10.7 2.9 10.6 1.3 10.6 0.3 14.2-1 42.4-4.8 106.3-6.7 42.5-3.5 44.8-4.4" stroke="#77AC30"/>
<path d="M267.7 1174.3l35.4 0 17.7-1 46-6.5 63.8-5.7 10.6-1.6 10.6-2.7 7.1-3 3.5-2.1 7.1-5.7 7.1-7.9 14.2-19.7 7-8.6 7.1-6.6 7.1-4.5 10.6-4.4 24.8-7.2 10.6-3.5 39-15.8 10.6-3.6 7.1-1.7 7.1-1.1 7.1-0.5 7 0.3 10.7 1.7 14.1 4.3 28.3 11.3 14.2 4.9 14.2 3.4 10.6 1.5 14.2 0.4 14.1-1.4 14.2-2.9 14.1-4.2 21.3-8.7 21.2-11 3.6-15.8 24.8-15.3 28.3-19 141.6-99.6 7.1-4.3 7.1-3.6 7.1-2.7 7-1.6 10.7-1.1 10.6-0.3 63.7-0.3 70.8-1 63.8-2.6 169.9-5.4 46-2.2 42.5-2.8 42.5-5.9 14.2-1 14.2 0.6 31.8 4.4 14.2 0.3 17.7-2.3 56.6-11.8 24.8-6.5 56.7-17.2 14.1-3.1 14.2-1.9 14.2-0.3 14.1 1.5 10.6 3.2 24.8 10.6 7.1 2.5 10.6 2.3 14.2 0.9 14.2-0.8 42.4-4.6 60.2-4.5 39-3.5 46-5 48.4-6.3" stroke="#4DBEEE"/>
<path d="M267.7 1176.2l35.4 5.9 17.7 1.9 46 1 60.2 3.9 10.7-0.1 10.6-1.1 7.1-1.8 7-3 7.1-4.7 7.1-6.7 10.6-13.9 21.3-32.9 7.1-8.8 3.5-3.6 7.1-6.1 10.6-6.6 10.6-4.7 28.3-9.9 21.3-6.6 10.6-2.6 10.6-1.7 10.7-0.7 10.6 0.5 7.1 1 10.6 2.1 35.4 10 14.1 3.5 17.8 2.8 17.7 1.2 21.2-0.5 21.2-2.1 21.3-3.2 21.2-4.5 3.6 8.7 24.8-7.1 31.8-10.8 138.1-51.5 10.6-3.3 10.7-2.8 17.7-2.7 28.3-1.1 92-0.7 120.4-1.8 113.3-0.5 42.5-0.6 70.8-2.8 42.5-3.9 14.2-0.8 14.2 0.2 35.4 2.2 14.1-0.1 17.7-1.6 56.7-6.9 24.8-4 53.1-10.2 14.1-1.9 14.2-1.1 14.2 0 14.1 1.3 10.6 2.3 24.8 7.6 10.7 2.7 10.6 1.3 10.6 0.4 14.2-0.7 46-4.3 106.2-5.1 83.8-5.6" stroke="#0072BD"/>
<path d="M267.7 1142.8l10.6 2 24.8 5.9 7.1 0.8 7.1 0 10.6-1.5 28.3-8.2 14.2-2.7 17.7-1.6 49.6-2.2 10.6-1.2 10.6-2.6 7.1-3.2 3.5-2.3 7.1-6.4 7.1-9.1 14.1-22.9 7.1-10.2 7.1-7.7 7.1-5.4 7.1-3.8 7.1-2.7 28.3-9.1 35.4-13.1 10.6-3.2 7.1-1.5 7.1-1 7.1-0.4 7 0.3 10.7 1.5 14.1 3.8 28.3 10.3 14.2 4.6 14.2 3.4 17.7 2.6 17.7 0.7 21.2-1.1 21.3-3.4 17.7-4.6 14.1-5 3.6-13.4 10.6-4.7 14.2-7.1 14.1-7.9 17.7-10.7 31.9-20.6 67.3-45.2 21.2-13.8 10.6-6.1 10.7-5.1 10.6-3.7 10.6-2.3 14.2-1.5 17.7-0.6 84.9-0.4 42.5 0.7 14.2-0.5 31.9-2.2 28.3-0.9 49.6-0.7 88.5-0.3 38.9-0.8 35.4-1.7 35.4-2.6 42.5-5.9 17.7-1.2 14.2 0.6 28.3 2.9 14.2 0.1 17.7-2 53.1-8.9 24.8-4.7 53.1-11.2 17.7-2.9 14.2-1.6 17.7-0.5 14.1 1 14.2 3.5 28.3 9.5 10.6 1.7 10.7 0.4 14.1-0.9 46-6 106.3-7.5 42.5-3.9 44.8-4.8" stroke="#A2142F"/>
<path d="M267.7 1080.5l10.6 4.5 24.8 11.5 7.1 2.6 7.1 1.8 10.6 1.2 24.8-0.3 14.1 0.8 17.7 2.7 46.1 9.1 10.6 1.2 10.6 0.1 10.6-1.8 7.1-2.9 3.6-2 10.6-8.1 17.7-16.9 7.1-5.9 7.1-5 7-4 14.2-6 56.6-21 10.7-3.4 10.6-2.5 7.1-1 7.1-0.4 7 0.3 10.7 1.5 14.1 3.7 28.3 9.9 14.2 4.3 14.2 3 14.1 1.4 17.7-0.5 10.7-1.4 10.6-2.1 14.1-3.6 14.2-4.2 28.3-10 3.6 11.2 21.2-8.9 28.3-13 113.3-55 21.3-9.9 10.6-4.4 10.6-3.6 7.1-1.8 10.6-1.9 10.7-1 17.7-0.7 138.1-1 38.9-2.2 88.5-3.8 113.3-6.8 74.4-2.8 46-4.1 10.6-0.1 7.1 0.5 31.9 4.6 10.6 0.9 7.1-0.1 17.7-1.9 56.6-10.5 24.8-5.8 56.7-15.4 14.1-2.9 14.2-1.7 14.2-0.3 14.1 1.4 10.6 2.8 24.8 9.5 7.1 2.3 10.6 2 14.2 0.7 14.2-0.6 42.4-4.1 60.2-4.1 39-3.2 46-4.5 48.4-5.8" stroke="#7E2F8E"/>
<path d="M267.7 1099.1l35.4 4.4 14.2 0.2 10.6-1.3 24.8-5.5 14.1-2.4 17.7-1.7 35.5-2.2 10.6-1.2 10.6-2.5 7.1-3.1 7.1-5.3 3.5-3.8 7.1-10.7 7.1-14.6 14.1-32.8 7.1-12.5 7.1-8.7 3.5-3.2 7.1-4.9 24.8-13.1 14.2-9.7 14.1-12.6 24.8-25.9 10.6-10.3 10.6-8.1 7.1-3.7 3.6-1.2 7.1-1.1 7 0.7 7.1 2.4 7.1 4 7.1 5.3 7.1 6.3 24.7 24.7 10.7 9.3 7 5.2 7.1 4.2 10.7 4.4 7 1.6 7.1 0.6 7.1-0.5 7.1-1.4 7.1-2.4 7-3.3 7.1-4.4 7.1-5.4 10.6-10.1 10.6-12.4 10.7-14.8 14.1-22.8 3.6-13 14.1-26.8 14.2-29.1 17.7-38.8 17.7-40.5 35.4-84 67.3-162.6 14.2-32.9 10.6-21.4 7.1-10.7 3.5-4 3.5-3.1 7.1-3.8 3.6-1.1 7-1.3 14.2-0.7 99.1-0.8 35.5 1.2 10.6-0.2 10.6-0.9 35.4-4.6 38.9-2 42.5-0.8 81.5 0.5 21.2-0.6 17.7-1 17.7-1.5 17.7-2.3 35.4-6 10.7-2.8 31.8-10.6 10.6-2.3 7.1-0.6 7.1 0.2 7.1 1 28.3 6.1 7.1 0.6 7.1-0.3 7.1-1.3 10.6-3.1 28.3-11.1 28.3-9.9 21.3-8.9 46-21.1 14.2-5.7 14.1-4.6 14.2-3 14.2-0.9 7 0.4 7.1 1.2 10.6 4.6 24.8 15.8 7.1 3.7 7.1 2.5 3.5 0.6 7.1 0.6 7.1-0.1 14.2-1.7 42.4-8.3 63.8-8.6 38.9-6.3 46.1-9.2 44.8-10.6" stroke="#77AC30"/>
<path d="M267.7 1206.8l10.6 3.2 17.7 7.2 7.1 2.4 7.1 1.4 7.1 0 7.1-1.3 7-2.5 17.7-8.5 10.7-4.3 14.1-3.7 17.7-2.1 60.2-3.1 10.6-1.4 10.7-2.7 7-3.4 3.6-2.4 7.1-6.5 7-9.3 14.2-23.3 7.1-10.6 7.1-8.4 7.1-6.1 7-4.7 7.1-3.7 42.5-20 14.2-5.8 7-2.2 7.1-1.5 7.1-0.9 7.1-0.1 7.1 0.7 7.1 1.4 14.1 4.6 28.3 12.3 14.2 5.3 14.2 3.8 10.6 1.7 14.2 0.6 17.7-1.6 17.7-3.6 21.2-6 14.2-4.9 14.1-5.7 3.6-15.7 24.8-11.9 31.8-17.6 35.4-21.2 88.6-54.2 14.1-7.7 10.6-4.7 10.7-3.5 10.6-2 14.1-1.3 21.3-0.6 74.3-0.3 49.6 0.6 49.6-2.9 109.7-3.1 155.8-5.6 39-3.5 14.1-0.8 14.2 0.3 35.4 3.6 14.2 0.3 17.7-1.6 56.6-8.3 24.8-4.5 56.7-11.5 14.1-2.1 14.2-1.3 14.2-0.2 14.1 1.1 10.6 2.2 31.9 9.7 10.6 1.7 14.2 0.4 14.2-0.8 46-4.4 67.3-3.7 46-3.2 76.7-6.8" stroke="#77AC30"/>
<path d="M267.7 1139.2l10.6 4.6 24.8 12.6 7.1 2.3 7.1 1.1 10.6-0.7 24.8-7 14.1-2.5 7.1-0.4 10.6 0.2 31.9 2.4 10.6 0.3 10.7-0.8 7-1.6 3.6-1.4 7.1-4.3 3.5-3.2 7.1-9 3.5-6 7.1-15 17.7-47.7 7.1-17 7.1-13.3 7.1-9.8 7-7.2 10.7-7.6 28.3-16.1 35.4-22.2 10.6-5.4 7.1-2.6 7.1-1.7 7.1-0.7 7 0.4 10.7 2.6 7 2.8 7.1 3.5 28.3 16.6 10.7 5.4 10.6 4.1 10.6 2.4 7.1 0.6 7.1-0.4 10.6-2.2 10.6-4.5 7.1-4.2 7.1-5.1 7.1-6 7-6.8 14.2-16 14.2-19.1 14.1-22.1 3.6 4.7 21.2-38 28.3-55 35.5-71.8 77.8-160.3 21.3-42 10.6-18.6 7.1-10.5 3.5-4.5 7.1-7.1 3.6-2.7 7-3.9 10.7-3 14.1-1.5 134.6-2.3 49.5-3.4 88.6-4.7 67.2-4.4 113.3-8.9 10.7-1.6 28.3-5.9 14.1-1.8 7.1-0.1 7.1 0.6 35.4 7.5 7.1 0.7 7.1-0.2 7.1-0.9 10.6-2.4 28.3-9.1 24.8-7.2 28.3-10.5 53.1-22.5 17.7-5.7 14.2-2.6 14.2-0.6 7 0.7 7.1 1.5 10.6 4.7 24.8 15.9 7.1 3.9 7.1 2.6 3.5 0.8 7.1 0.8 7.1 0.1 14.2-1.7 28.3-6.1 17.7-3.1 67.3-7.8 42.5-6.1 38.9-6.7 41.3-8.2" stroke="#A2142F"/>
<path d="M267.7 1043.7l63.7-1.9 81.5-4.3 49.5-3.7 42.5-4.5 17.7-2.6 14.2-3.5 46-15.4 17.7-5.2 14.2-2.8 10.6-1 7.1 0 7.1 0.9 7.1 1.8 7 2.4 14.2 6.4 31.9 17.1 10.6 4.7 7.1 2.5 10.6 2.5 7.1 0.5 7.1-0.2 17.7-1.6 14.1-2.7 14.2-4.2 17.7-7.2 46-6.1 148.7-25.6 17.7-2.6 14.2-1.4 24.8-0.8 77.9-0.2 49.5-0.7 233.7-6 60.2-2.2 53.1-2.6 42.5-4.5 14.2-0.8 14.2 0.5 31.8 3.6 14.2 0.2 17.7-1.8 56.6-9.4 24.8-5.2 56.7-13.7 14.1-2.6 14.2-1.4 14.2-0.2 14.1 1.4 10.6 2.8 31.9 11.5 10.6 2 14.2 0.7 14.2-0.9 46-5.1 70.8-4.5 42.5-3.2 76.7-7.6" stroke="#4DBEEE"/>
<path d="M267.7 1198.1l10.6 1.8 24.8 5.3 7.1 0.8 7.1 0.1 10.6-1.2 28.3-6.4 14.2-2.1 17.7-1.1 42.5-1 10.6-0.9 7.1-1.3 7.1-2.3 3.5-1.8 7.1-5.6 3.5-3.9 7.1-10.7 17.7-34.4 7.1-10.3 3.5-3.8 7.1-5.5 3.6-1.9 7-2.7 35.4-8.3 46.1-13.1 14.1-2.4 10.7-0.7 10.6 0.5 14.1 2.3 46.1 12.7 14.1 3.1 14.2 2.1 17.7 1.3 17.7 0.1 17.7-1.2 17.7-2.8 14.2-3.3 14.1-4.2 3.6-4.1 24.8-9.1 28.3-11.7 127.5-56.6 17.7-6.7 10.6-2.8 7.1-1.2 14.1-1.2 24.8-0.4 81.4-0.2 35.5 1 14.1-0.1 49.6-3.4 106.2-3.3 159.3-6.2 39-3.7 14.1-0.8 14.2 0.3 35.4 3.8 14.2 0.3 17.7-1.6 56.6-9 24.8-5 56.7-13.1 14.1-2.4 14.2-1.4 14.2-0.2 14.1 1.4 10.6 2.7 24.8 9.1 10.7 3.1 10.6 1.4 10.6 0.4 14.2-1 42.4-5 106.3-6.9 42.5-3.7 44.8-4.5" stroke="#A2142F"/>
<path d="M267.7 1164.2l10.6 4.2 17.7 9.3 7.1 3.1 7.1 2 7.1 0.4 3.5-0.4 7.1-2 28.3-13.4 7.1-2.5 7.1-1.8 7.1-1.1 10.6-0.9 35.4-0.5 14.2-0.7 10.6-1.6 7.1-2.1 3.5-1.5 7.1-4.7 3.5-3.3 7.1-9.1 7.1-12.8 14.1-31.8 7.1-14.7 7.1-11.5 7.1-8.5 3.5-3.3 7.1-5.4 31.9-18.7 35.4-23.5 10.6-5.7 10.6-3.8 7.1-1.3 7.1-0.1 7.1 1 7.1 2.1 7 3 7.1 3.8 28.3 17.9 14.2 7.7 7.1 3 7.1 2.3 10.6 2.2 7.1 0.5 7.1-0.2 7-1 7.1-1.7 14.2-5.3 7.1-3.5 10.6-6.3 10.6-7.5 10.6-8.8 7.1-6.5 10.6-11 3.6-18.5 14.1-17 14.2-18.8 14.2-20.1 17.7-26.4 35.4-55.2 99.1-158.1 10.6-15.1 7.1-8.4 7.1-6.4 3.5-2.3 7.1-3.2 10.6-2.2 10.7-0.7 127.4-1.4 77.9-4 127.5-2.9 35.4-1.3 31.9-2 35.4-3.1 17.7-2 24.8-4.3 7-0.5 7.1 0.5 3.6 0.9 7 3.1 7.1 5.1 17.7 17 7.1 4.7 3.6 1.3 3.5 0.4 3.5-0.4 3.6-1.1 7.1-3.9 3.5-2.9 3.5-3.8 3.6 23.5 10.6-22.8 3.5-5.5 3.6-2.4 3.5 1 7.1 7.3 3.5 2.2 3.6-0.9 3.5-4.5 10.7-21.1 3.5-4.5 3.5-2.5 3.6-1 7.1-0.7 7-1.6 67.3-26.7 17.7-5.8 14.2-3.4 10.6-1.6 10.6-0.7 10.6 0.5 7.1 1.1 10.6 3.6 24.8 12.1 7.1 2.9 10.6 2.5 14.2 0.8 14.2-1 42.4-5.6 60.2-5.7 39-4.4 46-6.4 48.4-8.1" stroke="#EDB120"/>
<path d="M267.7 1190.9l35.4 6.6 14.2 1.8 10.6 0.7 38.9 0.9 63.8 5.4 10.6 0.1 7.1-0.6 7.1-1.9 3.5-1.6 3.5-2.2 3.6-3 3.5-3.9 3.6-4.9 7-12.8 17.7-38.6 7.1-11.4 7.1-7.9 7.1-5.1 7.1-3.5 35.4-11.8 38.9-15.1 10.6-3.1 10.7-1.9 10.6-0.3 10.6 1.1 7.1 1.5 10.6 3.1 28.3 10.4 14.2 4.5 14.2 3 10.6 1.3 14.2 0.3 14.1-1.2 14.2-2.6 14.1-3.9 10.7-3.9 10.6-4.4 21.2-10.7 3.6-7.5 24.8-14.8 28.3-18.2 109.7-74.9 24.8-16.2 10.7-6.2 10.6-5.1 10.6-3.7 10.6-2.4 14.2-1.6 17.7-0.6 74.3-0.5 46.1 0.2 60.2-2.5 187.6-3.5 70.8-3.2 42.5-4.4 14.2-0.8 14.2 0.4 31.8 2.9 17.7 0 17.7-1.9 53.1-7.9 28.4-5.4 53.1-11.6 17.7-2.7 14.1-1 14.2 0.2 10.6 1.1 10.6 2.6 24.8 8.6 10.7 2.9 10.6 1.4 10.6 0.4 14.2-0.9 42.4-4.6 106.3-6.4 42.5-3.3 44.8-4.1" stroke="#A2142F"/>
<path d="M267.7 1290.6l35.4 5 7.1 0.5 7.1-0.3 10.6-1.5 28.3-7.2 14.2-2.6 17.7-1.8 35.4-2.4 14.2-1.7 10.6-2.7 7.1-3.2 7-4.7 14.2-12.2 7.1-5.1 7.1-3.5 7-2.1 10.7-1.7 42.5-3.1 49.5-5.7 17.7-1.4 14.2-0.2 17.7 0.8 49.6 5.6 21.2 1.7 17.7 0.7 21.3 0 67.2-1.6 3.6-13.8 212.4-6.1 116.9-0.3 53.1 0.8 56.6-1.3 223.1-1.3 92-1.3 70.9 0.7 77.9-2.9 24.7-1.8 49.6-4.4 24.8-1.1 14.2 0.2 14.1 0.8 46.1 6 21.2 1.1 67.3-1.9 182.9-2.9" stroke="#77AC30"/>
<path d="M267.7 1130.2l35.4 3.6 14.2 0.9 49.5 0.3 46.1 1.5 21.2-0.5 7.1-0.9 7.1-1.7 7.1-2.9 3.5-2 7.1-5.4 7.1-7.2 17.7-21.9 7-7.7 7.1-6.2 7.1-4.7 10.6-5.1 24.8-9.3 10.6-4.6 42.5-21.5 10.6-4 10.7-2.5 10.6-0.5 7.1 0.7 7.1 1.6 14.1 5.1 28.3 13.4 10.7 4.4 14.1 4.2 10.7 1.6 7 0.3 7.1-0.2 14.2-2.4 14.1-4.7 7.1-3.2 10.6-5.8 10.7-7 10.6-8.2 10.6-9.6 10.6-10.8 3.6-36.2 14.1-16.8 14.2-18.6 14.2-20.1 17.7-26.7 31.8-50.8 74.4-123.1 17.7-28 10.6-14.2 7.1-7.4 7.1-5.2 3.5-1.8 7.1-2.5 10.6-1.7 14.2-0.7 60.2-0.2 77.9-1.1 49.5-2.9 95.6-4.4 173.5-10.4 10.7-1.2 28.3-4.5 14.1-1.3 14.2 0.4 35.4 6.1 7.1 0.5 7.1-0.1 7.1-0.6 10.6-2 28.3-7 24.8-5.5 24.8-6.7 53.1-15.6 17.7-4.1 14.2-2.2 17.7-0.9 7 0.4 7.1 1 7.1 2 7.1 2.9 21.2 10.4 7.1 2.8 10.6 2.5 10.7 0.5 14.1-1.4 31.9-6.3 14.1-2.2 70.9-6.8 35.4-3.9 42.5-5.6 44.8-7" stroke="#77AC30"/>
<path d="M267.7 1127.7l10.6 2.8 24.8 8.4 7.1 1.2 7.1 0.1 10.6-2.2 28.3-11.1 14.2-3.7 14.1-1.9 35.5-2 14.1-1.4 10.6-2 10.7-4 7-4.5 3.6-3.2 7.1-8.4 3.5-5.4 7.1-13.2 14.1-31.7 7.1-14.8 7.1-12 7.1-9.3 3.5-3.8 7.1-6.3 31.9-22.4 35.4-27.6 10.6-6.7 10.6-4.5 7.1-1.4 7.1-0.2 7.1 1.2 7.1 2.5 7 3.5 7.1 4.4 28.3 21 14.2 9.1 7.1 3.5 7.1 2.7 10.6 2.4 7.1 0.5 7.1-0.5 7-1.4 7.1-2.3 7.1-3.1 7.1-3.9 7.1-4.6 10.6-8.1 10.6-9.5 7.1-7.3 10.6-12.4 7.1-9.3 3.5-4.9 3.6-9.6 10.6-16.6 14.2-24.5 21.2-40.5 24.8-50.5 31.9-67.3 67.2-144.5 17.7-36.5 7.1-12.9 7.1-10.6 7.1-7.5 7.1-4.4 3.5-1.3 7.1-1.5 14.1-1 141.7-1.4 56.6-6.4 113.3-7.7 53.1-4.3 49.6-5.2 46-6.1 10.7-2.6 31.8-9.9 7.1-1.4 7.1-0.8 7.1 0.2 7.1 1.3 24.7 7.7 7.1 1.8 7.1 0.9 7.1-0.2 7.1-1.3 10.6-3.6 28.3-13 24.8-10.1 24.8-12.4 42.5-24 14.1-7.4 17.7-7.4 14.2-3.7 7.1-0.9 7.1-0.3 7 0.5 7.1 1.4 3.6 1.4 7 3.8 24.8 18.1 7.1 4.2 3.6 1.6 3.5 1.2 7.1 1.1 7.1 0.4 7-0.3 10.7-1.2 38.9-7.1 56.7-8.7 38.9-7.1 24.8-5.4 24.8-6 24.8-6.6 27.1-7.9" stroke="#0072BD"/>
<path d="M267.7 1194.7l10.6 1.7 24.8 5.3 7.1 0.6 7.1-0.1 10.6-1.9 24.8-7.7 14.1-3.5 14.2-2 35.4-2.8 14.2-1.7 10.6-2 10.6-3.3 7.1-3.5 3.5-2.3 7.1-5.8 3.6-3.6 10.6-13.5 21.2-31.9 7.1-8.7 10.6-9.9 10.7-6.9 14.1-6.8 46-20.4 10.7-4 10.6-2.9 7.1-1.2 7.1-0.4 7 0.3 10.7 1.7 14.1 4.3 28.3 11.4 14.2 5 14.2 3.4 10.6 1.5 14.2 0.4 17.7-1.7 17.7-3.7 21.2-6.1 14.2-5 14.1-5.6 3.6-9.1 24.8-11.5 31.8-16.7 120.4-68 10.6-5.4 10.7-4.6 10.6-3.5 10.6-2.2 10.6-1.2 17.7-0.8 74.4-0.4 21.2 0.3 31.9 1.7 10.6 0 35.4-3.2 17.7-1 155.8-3.6 102.7-3.6 46-3.8 14.2-0.6 14.2 0.4 31.8 2.9 17.7 0.1 17.7-1.8 56.7-8 24.8-4.8 53.1-12.1 14.1-2.4 14.2-1.3 14.2 0.1 14.1 1.6 10.6 2.8 24.8 9.3 10.7 3.2 10.6 1.7 10.6 0.4 14.2-0.9 28.3-3.7 17.7-1.7 106.2-6.1 83.8-6.7" stroke="#EDB120"/>
<path d="M267.7 1110.7l10.6 2.7 24.8 7.8 7.1 1.3 7.1 0.5 10.6-0.8 24.8-5.5 14.1-2.1 17.7-0.7 35.5 0.8 14.1-0.2 14.2-1.6 7.1-2.1 3.5-1.5 7.1-4.4 3.5-3 7.1-8 7.1-10.7 21.2-38.7 7.1-10.7 7.1-8.6 10.6-9.9 21.3-16.6 10.6-9 28.3-27 10.6-9.3 10.6-7.3 7.1-3.3 3.6-1.1 7.1-1 7 0.7 7.1 2.2 7.1 3.7 7.1 4.8 7.1 5.8 24.7 22.6 10.7 8.6 7 4.9 7.1 3.9 10.7 4 7 1.4 7.1 0.3 7.1-0.7 7.1-1.7 7.1-2.6 7-3.6 7.1-4.4 7.1-5.1 10.6-9.1 7.1-7.1 14.2-16.4 17.7-24.4 14.1-23.5 21.3-39.6 28.3-57.4 35.4-75.1 70.8-152.6 21.3-43.8 10.6-19.1 7.1-10.6 3.5-4.4 7.1-7 3.5-2.5 7.1-3.7 10.6-2.8 17.7-1.5 77.9-1 35.5 0.9 14.1-0.5 42.5-5.8 53.1-5 31.9-3.7 28.3-4.2 56.7-9.3 24.7-3.4 35.4-3.2 46.1-2.1 10.6-1.4 24.8-4.3 10.6-1.1 10.6 0.3 7.1 1.2 7.1 1.9 21.2 7.1 7.1 1.9 10.6 1.2 7.1-0.5 7.1-1.3 7.1-2.1 28.3-10.7 24.8-8.6 24.8-10.7 42.5-20.9 14.1-6.4 17.7-6.5 14.2-3.2 14.2-1 7 0.4 7.1 1.3 10.6 4.5 24.8 15.4 10.7 5 3.5 1 7.1 1 14.1 0.2 14.2-1.4 35.4-5.3 53.1-6.9 39-6.1 53.1-10.3 51.9-12.5" stroke="#77AC30"/>
<path d="M267.7 1329.1l10.6 2.1 24.8 6 7.1 0.9 7.1 0 7.1-0.8 7-1.5 31.9-9 35.4-6.5 14.2-3.3 17.7-5.8 14.1-6.3 14.2-7.7 42.5-25.7 14.2-7.3 14.1-6.1 21.3-7.4 28.3-7.9 21.2-4.6 21.3-2.7 14.1-0.4 14.2 0.7 53.1 7 24.8 2.3 28.3 1 31.9 0 56.6-2 166.5-9.9 31.8-1.4 141.6-0.5 237.3-2.5 109.7-1.9 56.7-2.1 49.6 1.7 17.7-0.1 74.3-5.2 24.8-2.6 49.6-6.4 14.1-1.3 14.2-0.7 14.2 0.1 14.1 1 10.6 1.6 35.5 7.1 10.6 1 10.6 0.3 14.2-0.4 49.5-3.1 102.7-2.8 83.8-3.3" stroke="#77AC30"/>
<path d="M267.7 1183.9l10.6 2.5 24.8 6.8 7.1 1.2 7.1 0.4 10.6-0.7 24.8-5 14.1-1.9 17.7-0.7 31.9 0.6 14.2-0.1 10.6-1.2 7.1-2 7.1-3.9 3.5-2.9 3.5-3.9 3.6-4.9 7.1-13.3 14.1-35.2 7.1-15.7 7.1-11.5 7.1-7.6 7.1-4.9 7-3.2 31.9-10.3 14.2-5.6 28.3-12.4 10.6-3.8 7.1-1.8 7.1-1.2 7.1-0.5 7 0.3 10.7 1.8 14.1 4.5 28.3 12 14.2 5.3 14.2 3.9 17.7 2.9 17.7 0.6 10.6-0.5 10.6-1.2 17.7-3.8 17.7-6 17.7-8.4 3.6-19.5 14.1-8.5 14.2-9.6 14.2-10.5 17.7-14.1 35.4-29.7 85-73.8 10.6-8.2 10.6-6.8 10.6-4.8 10.6-2.7 10.7-1.3 14.1-0.6 77.9-0.5 17.7 0.3 28.4 1.5 10.6 0.1 10.6-0.6 31.9-3.3 24.7-1.1 46.1-0.7 88.5 0 35.4-0.5 42.5-2 38.9-3.3 21.3-2.6 10.6 0 7.1 1.8 3.5 1.8 3.6 2.6 3.5 3.4 3.5 4.2 7.1 11.2 14.2 27.8 3.5 6 3.6 4.9 3.5 3.4 3.6 1.7 3.5-0.1 3.5-1.9 3.6-3.2 3.5-4.5 7.1-12 3.5-7.7 3.6-91.8 3.5 1.2 7.1-1.3 3.5 1.2 3.6 4.9 3.5 9.3 7.1 24.8 3.5 9.4 3.6 3.9 3.5-2 10.7-20.7 3.5-3.9 3.5-0.9 3.6 1.2 7.1 3.9 3.5 1.2 3.5 0.5 7.1-0.4 28.3-5.6 49.6-13 10.6-2 10.7-1.4 17.7-0.5 14.1 1.5 10.6 3.1 24.8 10.1 7.1 2.4 10.6 2.2 14.2 0.8 14.2-0.6 46-4.7 60.2-4.2 38.9-3.3 46.1-4.7 44.8-5.5" stroke="#7E2F8E"/>
<path d="M267.7 1220.3l35.4 9.5 7.1 1.4 7.1 0.7 10.6-0.1 28.3-3.2 14.2-0.5 17.7 0.6 42.5 2.9 14.1 0.4 10.7-0.8 10.6-2.3 7.1-2.7 17.7-8.4 7-2.9 10.7-2.8 14.1-2.1 77.9-6.4 21.3-1.1 24.8 0.3 53.1 4.1 28.3 1.1 21.2-0.4 46.1-2.6 31.8-1.1 3.6-10.1 237.2-3.3 95.6 0.1 49.6 2.5 10.6-0.4 31.9-2.4 21.2-0.7 251.4-2.6 56.6-1.5 53.2 1.3 14.1 0 77.9-4 24.8-2.2 53.1-5.9 24.8-1.4 14.2 0.2 14.1 1 10.6 1.4 35.5 6.3 10.6 0.9 10.6 0.4 14.2-0.4 49.5-2.6 106.3-2.2 80.2-2.3" stroke="#0072BD"/>
<path d="M267.7 1143.7l35.4 2.1 14.2-0.3 10.6-1.3 28.3-5.5 14.2-2.1 17.7-1.7 49.6-3.6 21.2-2.5 10.6-2.2 10.6-3.6 7.1-3.3 21.3-11.2 14.1-5.2 39-8.6 38.9-9.3 14.2-2.4 10.6-0.8 10.6 0.1 14.2 1.5 10.6 2 31.9 7.5 14.1 2.9 14.2 2.1 17.7 1.7 21.3 0.7 21.2-0.4 21.2-1.6 24.8-3.1 3.6 54.1 28.3-5.2 31.9-6.9 141.6-33.8 17.7-3.4 17.7-1.8 24.8-0.6 67.3-0.2 56.6 1.1 42.5-2.4 85-2.3 102.7-4 38.9-0.9 49.6-0.5 42.5-1.5 17.7 0.2 38.9 2.8 17.7 0.2 17.7-1.1 53.1-4.8 24.8-2.9 56.7-7.7 17.7-1.7 14.1-0.7 14.2 0.1 10.6 0.7 10.6 1.5 31.9 6.2 10.6 1.1 14.2 0.4 60.2-3 106.2-3.9 83.8-4.6" stroke="#EDB120"/>
<path d="M267.7 1117.1l56.7-1 70.8-2.3 21.2-1.2 10.6-1 10.7-1.8 10.6-3.2 7.1-3.5 7-5 3.6-3.3 7.1-8.3 3.5-5.1 10.6-19.1 21.3-43.8 7.1-12.1 10.6-14.5 10.6-11.4 24.8-23.5 24.8-25.4 10.6-10.2 10.6-8.5 7.1-4.1 3.5-1.6 7.1-1.9 7.1-0.2 7.1 1.5 7.1 3 7 4.3 7.1 5.5 28.3 26 10.7 8.7 7 4.9 7.1 3.9 7.1 3 7.1 2.1 7.1 1.1 7.1 0.1 7-0.8 10.7-2.8 10.6-4.9 7.1-4.4 7-5.3 7.1-6.4 10.6-11.5 7.1-9 7.1-10.1 10.6-17.2 3.6 3.8 10.6-20.2 14.2-29.8 21.2-49.8 28.3-72.6 31.9-86.1 60.2-166.7 17.7-46.7 10.6-24.2 7.1-12.7 7.1-9.3 3.5-3.4 7.1-4.6 3.5-1.5 7.1-1.9 14.2-1.4 63.7-0.6 67.3-1.8 81.4-5.5 127.5-4.7 42.5-2.6 35.4-3.5 38.9-5.4 10.7-2.5 31.8-9.5 7.1-1.4 7.1-0.8 7.1 0 7.1 0.9 31.8 7.7 7.1 0.7 7.1-0.3 7.1-1.2 10.6-3.1 28.3-11.3 24.8-8.9 24.8-10.9 42.5-21.5 14.1-6.6 17.7-6.6 14.2-3.2 7.1-0.7 7.1 0 7 0.7 7.1 1.7 3.6 1.4 7 4 24.8 18.9 7.1 4.5 7.1 3.1 3.5 0.9 7.1 0.9 7.1 0 7.1-0.8 7.1-1.4 28.3-7.6 17.7-3.7 67.3-9.8 46-8.1 38.9-8.3 37.8-9.4" stroke="#7E2F8E"/>
<path d="M267.7 1349.6l35.4 4.9 14.2 0.2 7.1-0.8 10.6-2.1 42.5-11.9 17.7-6.3 10.6-5 7.1-3.9 17.7-11.9 28.3-22.1 14.2-10.2 14.1-8.6 14.2-6.6 17.7-6.1 24.8-6.2 49.5-10.1 14.2-2.1 10.6-1 14.2-0.5 17.7 1 53.1 7.5 24.8 2.4 28.3 1.2 39 0.1 53.1-1.1 191.2-5.9 141.6-0.5 237.2-2.6 113.3-1.9 56.7-2.2 46 1.7 17.7 0 17.7-0.9 56.7-4.2 28.3-3 49.6-6.5 14.1-1.4 14.2-0.7 14.2 0.1 14.1 1 10.6 1.6 35.5 7.2 10.6 1 10.6 0.3 14.2-0.4 49.5-3.1 102.7-3 83.8-3.4" stroke="#A2142F"/>
<path d="M267.7 1226.2l35.4 7.6 14.2 1.5 10.6-0.2 24.8-2.9 14.1-1 17.7 0 42.5 1.5 10.7-0.2 7-0.7 10.7-2.7 7-3.6 7.1-5.3 17.7-18.2 7.1-6.3 7.1-4.6 7.1-3.1 10.6-2.6 10.6-1.5 70.8-7.7 21.3-1.5 14.1 0 14.2 0.7 49.6 5.5 24.8 1.9 28.3 0.9 31.8 0 42.5-1 219.6-9.5 162.8-0.4 223.1-2.2 99.1-1.5 56.7-1.9 46 1.4 17.7 0 74.4-4.1 77.9-7.4 28.3-1.6 14.2 0 14.1 0.7 46.1 6.4 21.2 1 60.2-2.4 102.7-2.3 87.3-2.9" stroke="#0072BD"/>
<path d="M267.7 1184.9l10.6 0.7 24.8 2.9 7.1 0 7.1-0.6 10.6-2.4 24.8-8.6 14.1-4 14.2-2.8 39-5.9 14.1-3.1 7.1-2.2 7.1-2.9 10.6-6 10.6-8.4 14.2-13 7.1-5.9 7-4.8 7.1-3.7 7.1-2.8 7.1-2.1 35.4-8 42.5-12.4 14.1-3.2 10.7-1.4 7.1-0.3 7 0.2 10.7 1.2 14.1 3.1 39 10.6 14.1 2.6 14.2 1.4 17.7-0.2 17.7-2.1 28.3-5.5 35.4-7.8 3.6 8.2 56.6-15 127.5-36.8 17.7-4.2 17.7-2.6 24.8-1 134.5-0.5 67.3-1.2 155.8-1.8 60.2-1.2 67.3-2.1 10.6 1.2 7.1 2.3 3.5 1.8 3.5 2.2 7.1 5.7 17.7 17.1 3.6 2.5 3.5 1.7 3.6 0.9 3.5 0 3.5-0.8 7.1-3.5 7.1-5.6 3.5-4.2 3.6-156.6 3.5 10.5 10.6 22.4 3.6 11.1 3.5 14.9 7.1 34.5 3.5 13.5 3.6 7.6 3.5 1.3 3.6-3.4 7.1-9.5 3.5-1.7 3.5 1.1 10.7 10.1 3.5 2.6 3.5 1.9 3.6 1.2 7.1 1.2 14.1 1.1 14.2-0.1 14.1-1 42.5-4.4 14.2-0.6 14.2 0.2 10.6 0.9 10.6 1.8 28.3 7.9 10.7 2.5 7 1 10.7 0.7 14.1-0.6 31.9-3.6 21.2-1.6 106.3-4.1 80.2-4.3" stroke="#D95319"/>
<path d="M267.7 1087.9l10.6 2.8 24.8 7.7 7.1 1.4 7.1 0.7 10.6-0.5 24.8-4.4 14.1-1.5 17.7-0.2 31.9 1.4 14.2 0.2 14.1-1.2 10.7-3 7-4 3.6-2.8 7.1-7.6 3.5-5 7.1-12.3 17.7-37.5 7.1-13.3 7.1-10.7 7-8.1 7.1-6.3 7.1-5.1 28.3-17.3 24.8-16.1 14.2-8.1 10.6-4.3 7.1-1.7 7.1-0.6 7 0.4 10.7 2.5 7 2.9 7.1 3.5 28.3 16.6 10.7 5.2 10.6 3.9 10.6 2 7.1 0.1 7.1-0.9 10.6-3.6 10.6-6.2 10.6-8.7 7.1-7.1 7.1-8 14.2-18.6 14.1-22.1 7.1-12.5 10.6-20.5 3.6 1.9 3.5-7.5 21.3-48.2 28.3-70.1 35.4-91.6 81.4-213.8 17.7-44.4 10.7-22.6 7-11.5 3.6-4.3 3.5-3.5 7.1-4.5 3.5-1.4 7.1-1.6 17.7-1.2 88.5-0.9 35.5 1.1 10.6-0.2 10.6-1.1 31.9-5 24.7-2.2 49.6-2.2 88.5-2.4 39-2.3 35.4-4.2 38.9-6.8 10.7-3.1 31.8-11.5 7.1-1.8 7.1-1.1 7.1 0 7.1 0.9 24.7 7.1 7.1 1.6 7.1 0.8 7.1-0.3 7.1-1.5 10.6-3.7 28.3-13.3 24.8-10.4 14.2-7.1 14.1-7.8 39-23.8 14.1-8.1 10.7-5.1 7-2.8 7.1-2.3 7.1-1.5 7.1-0.9 7.1-0.1 7 0.8 7.1 1.8 3.6 1.6 7 4.5 24.8 20.6 7.1 4.9 7.1 3.3 3.5 0.9 7.1 1 7.1 0.2 14.2-1.7 42.4-9.5 60.2-9.7 39-7.5 46-10.8 48.4-13.7" stroke="#0072BD"/>
<path d="M267.7 1126.8l38.9 5.2 17.8 1.3 42.4 0.4 60.2 3.1 14.2-0.6 10.6-2.3 7.1-3.3 7.1-5.5 7.1-8.8 3.5-5.8 7.1-14.4 14.1-34.9 7.1-15.8 7.1-12.6 7.1-9.2 7.1-6.6 10.6-6.9 60.2-29.4 10.6-4.2 10.6-2.9 10.7-1.1 10.6 0.8 7.1 1.6 10.6 3.5 31.8 14.4 14.2 5.4 10.6 2.9 7.1 1.1 7.1 0.6 7.1-0.1 10.6-1.4 10.6-2.9 10.6-4.3 10.7-5.5 14.1-8.8 10.6-7.6 10.7-8.7 14.1-13 3.6 12.7 10.6-11.1 14.2-16 28.3-34.6 38.9-50.4 74.4-98.4 17.7-22.3 7.1-7.7 7.1-6.2 7-4.2 7.1-2.5 10.6-1.5 21.3-0.6 92-0.5 35.5 1.7 10.6 0 10.6-0.9 31.9-4.3 21.2-1.4 53.1-1.8 88.5-1.6 39-1.6 35.4-2.8 38.9-4.7 10.7-2.1 31.8-7.8 14.2-1.9 7.1-0.1 7.1 0.7 31.8 5.9 7.1 0.5 7.1-0.2 7.1-1 10.6-2.5 28.3-9 28.3-8.1 21.3-7.2 42.5-16.2 17.7-6 14.1-3.8 14.2-2.4 14.2-0.8 7 0.3 7.1 1 10.6 3.7 24.8 12.7 7.1 3.1 7.1 1.9 3.5 0.5 14.2 0.5 14.2-1.3 42.4-6.4 60.2-6.5 39-5.1 46-7.4 48.4-9.3" stroke="#77AC30"/>
<path d="M267.7 1152.1l10.6 3.8 17.7 8.1 7.1 2.7 7.1 1.8 7.1 0.6 7.1-0.8 7-1.9 17.7-6.6 10.7-3.4 14.1-2.4 17.7-0.7 53.1 1 10.7-0.5 7-1.1 10.7-3.3 7-3.9 7.1-5.7 21.3-21.5 7.1-5.4 7-4.2 10.7-4.3 28.3-8.7 35.4-12 10.6-2.8 10.6-2 14.2-0.7 14.2 1.6 14.1 3.4 39 11.9 14.1 3 10.7 1.4 14.1 0.6 14.2-0.9 17.7-2.6 17.7-3.7 21.2-5.6 17.7-5.7 3.6-7 14.1-5.3 17.7-7.5 35.4-16.9 42.5-22.1 92.1-49.4 14.2-6 10.6-2.4 10.6-0.8 14.2-0.2 138.1 0.1 38.9-2 74.4-2.7 102.6-6.3 46.1-1.7 53.1-0.2 49.5-1.4 14.2 0.7 35.4 3.6 10.6 0.5 10.7-0.3 17.7-1.6 53.1-6.4 24.8-4.2 56.6-11.4 14.2-1.9 14.1-0.9 14.2 0.2 10.6 1 10.6 2.2 24.8 6.9 10.7 2.4 10.6 1.2 14.1 0.5 152.3-7.3 94.4-6.4" stroke="#77AC30"/>
<path d="M267.7 1173.7l10.6 3.8 17.7 7.9 7.1 2.7 7.1 1.8 7.1 0.6 10.6-1.6 28.3-9.9 14.2-3 14.1-1.1 31.9-0.1 10.6-0.4 10.7-1.3 7-1.6 10.7-4.4 7-4.6 3.6-3 10.6-11.5 21.2-27.1 7.1-7.2 10.7-8 10.6-5.3 10.6-3.8 56.6-17.2 17.7-4.3 10.7-1.4 7.1-0.3 7 0.2 10.7 1.2 14.1 3.1 28.3 8.3 14.2 3.6 14.2 2.6 14.1 1.5 14.2 0.3 17.7-1.1 17.7-2.8 14.2-3.2 14.1-4.2 17.7-6.7 3.6 0.7 14.1-6.5 21.3-10.9 24.8-13.7 102.6-59.4 24.8-13.8 10.7-5.1 10.6-4.3 7.1-2.1 10.6-2.1 10.6-1.2 14.2-0.6 127.4-1.5 219.6-6.5 102.6-4.3 39-4 14.1-0.9 17.8 0.5 35.4 3.8 14.1-0.2 17.7-2.1 53.1-8.8 28.4-6.2 53.1-13.4 17.7-3.1 14.1-1.2 14.2 0.3 10.6 1.4 10.6 2.9 24.8 9.9 10.7 3.5 10.6 1.6 10.6 0.5 14.2-1 28.3-3.8 17.7-1.9 102.7-6.9 42.5-3.7 44.8-4.7" stroke="#A2142F"/>
<path d="M267.7 1189.6l35.4 9.3 7.1 1.3 7.1 0.6 10.6-0.4 28.3-3.9 14.2-1 17.7 0.2 42.5 2 17.7-0.6 7.1-1.2 7-2.4 7.1-3.9 3.6-2.8 7-6.9 21.3-25.9 3.5-3.5 7.1-5.6 7.1-3.8 7.1-2.6 17.7-3.8 56.6-8.7 14.2-1.5 14.2-0.5 10.6 0.2 14.1 1.2 53.1 7 17.8 1.1 14.1-0.1 24.8-2.1 63.7-9 3.6 15.4 53.1-9.7 127.5-26.4 21.2-3.5 17.7-1.7 42.5-0.9 74.3-0.1 46.1 0.5 60.2-2.1 177-2.5 81.4-2.2 42.5-2.8 14.2-0.5 14.2 0.3 31.8 2 17.7 0 17.7-1.2 53.1-5.3 28.4-3.6 53.1-7.9 17.7-1.9 14.1-0.7 14.2 0.1 10.6 0.8 10.6 1.7 31.9 6.7 10.6 1.3 14.2 0.4 14.2-0.4 46-2.6 106.2-4.1 83.8-4.8" stroke="#0072BD"/>
<path d="M267.7 1272.8l10.6 2 24.8 6 7.1 0.9 7.1-0.1 10.6-1.8 28.3-8.8 14.2-3 14.1-1.6 46.1-2.5 21.2-2 14.2-2.8 10.6-3.6 7.1-3.3 21.2-11.7 7.1-3.4 7.1-2.8 10.6-2.9 17.7-3.2 42.5-5.5 17.7-1.9 17.7-0.9 24.8 0.8 53.1 5.8 28.3 1.9 28.4 0.6 67.2-0.5 3.6 8 219.5-1.7 92.1-0.1 28.3 0.3 42.5 1.8 42.5-2 21.2-0.3 308-1.4 70.9 0.4 77.9-1.7 74.3-4.7 24.8-0.8 28.3 1 46.1 5.1 21.2 1 70.8-1.9 179.4-1.4" stroke="#EDB120"/>
<path d="M267.7 1139.7l35.4 4.7 17.7 1.4 49.6 0.3 67.3 3.4 10.6-0.4 7.1-1.2 3.5-1.1 7.1-3.9 3.5-3.1 3.6-4.2 3.5-5.4 7.1-14.5 10.6-27.3 7.1-16.6 7.1-12.2 7.1-8.2 3.5-2.9 7.1-4.6 21.2-10.9 10.6-6.1 42.5-29.6 10.6-5.5 10.7-3.4 7.1-0.7 7 0.5 7.1 1.7 7.1 2.8 7.1 3.7 7.1 4.5 24.7 17.3 10.7 6.6 7 3.7 7.1 3 10.7 3.1 7 1.1 7.1 0.2 7.1-0.6 7.1-1.4 7.1-2.1 7-2.9 14.2-7.9 10.6-7.5 10.6-9 10.7-10.5 14.1-16.2 3.6-30.2 21.2-29.1 28.3-43 31.9-50.9 92.1-149.6 10.6-16 7.1-9.7 10.6-12.2 3.5-3.3 7.1-5 3.6-1.9 7-2.7 10.7-2.1 14.1-1 60.2-0.6 60.2-1.5 60.2-3.1 31.9-1.1 49.5 0.2 88.6 3.7 24.7-0.3 21.3-1.4 28.3-3.7 28.3-5.5 10.7-3 28.3-9.7 10.6-2.8 7.1-1.2 7.1-0.4 7.1 0.4 24.7 4.2 10.7 1.3 10.6-0.3 10.6-2 10.6-3.3 24.8-9 21.3-6.8 14.1-5.2 21.3-9.1 38.9-18.5 14.2-6.1 14.1-4.7 14.2-3 7.1-0.6 7.1 0 7 0.6 7.1 1.5 10.6 4.8 24.8 16 7.1 3.8 7.1 2.6 3.5 0.8 7.1 0.8 7.1 0.2 14.2-1.2 42.4-7.2 60.2-7.2 39-5.6 46-8.1 48.4-10.2" stroke="#4DBEEE"/>
<path d="M267.7 1166.2l10.6 3.5 17.7 7.6 7.1 2.5 7.1 1.6 7.1 0.3 3.5-0.4 7.1-1.7 28.3-11.6 14.2-3.7 14.1-1.6 42.5-2 10.7-1.3 10.6-2.5 7.1-2.6 7-3.8 7.1-5.2 3.6-3.2 10.6-11.9 14.1-18.1 7.1-8.4 7.1-7.1 10.6-8.1 7.1-4.1 10.6-4.8 46.1-17.6 14.1-5 14.2-3.5 14.2-1.4 7 0.2 10.7 1.5 14.1 3.6 28.3 9.5 10.7 3.1 14.1 3 10.7 1.2 14.1 0.2 14.2-1.6 14.1-2.9 17.7-5 21.3-7.3 21.2-8.5 3.6-8.9 28.3-13.5 31.9-16.9 138.1-79.2 14.1-6.6 7.1-2.3 7.1-1.6 10.6-1.3 17.7-0.6 81.4-0.5 35.5 0.5 14.1-0.2 46-3.2 95.6-3.9 173.5-8.8 39-4.5 14.1-1.1 14.2 0.4 35.4 5.1 14.2 0.4 17.7-2.2 53.1-10.4 24.8-5.8 56.6-14.8 14.2-2.8 14.2-2 17.7-0.6 14.1 1.3 10.6 3 24.8 10.3 10.7 3.5 10.6 1.5 10.6 0.2 14.2-1.3 28.3-4.6 14.1-1.7 106.3-8.9 42.5-4.6 44.8-5.8" stroke="#0072BD"/>
<path d="M267.7 1115.8l10.6 2.6 24.8 7.8 7.1 1.1 7.1-0.1 10.6-2.2 28.3-11.1 14.2-3.7 17.7-2.3 49.6-3.6 10.6-1.6 10.6-2.5 7.1-2.6 7.1-3.5 10.6-7.6 10.6-10.3 21.3-23 7-6.4 10.7-7.7 14.1-8 42.5-21.2 14.2-5.9 7-2.3 7.1-1.6 7.1-0.9 7.1-0.1 7.1 0.7 7.1 1.4 14.1 4.6 28.3 12.2 10.7 4 10.6 3.1 10.6 1.9 7.1 0.6 7.1-0.1 10.6-1.3 7.1-1.6 7.1-2.3 14.1-6.5 10.6-6.4 14.2-10.4 14.2-12.6 14.1-14.7 3.6 7.8 21.2-25.7 24.8-32.8 35.4-49.3 74.4-105.3 21.2-28.6 10.6-12.6 10.7-10.3 3.5-2.7 7.1-4.4 10.6-4 14.2-2.4 21.2-1 77.9-0.5 39 1.4 14.1-0.2 46-4.4 81.5-4.4 116.8-8.7 74.4-3 46-4.4 10.6 0 7.1 0.6 28.3 4.9 10.7 1.3 14.1 0 17.7-2.6 53.1-11.5 28.4-8.1 53.1-17.6 17.7-4.1 14.1-1.6 14.2 0.3 10.6 1.6 10.6 3.7 24.8 12.2 7.1 3 10.6 2.8 14.2 1 14.2-1 46-6.2 67.3-5.4 42.5-4.2 38.9-4.7 41.3-5.7" stroke="#EDB120"/>
<path d="M267.7 1006.6l60.2 0.4 81.4 1.5 77.9 3.4 31.9 0.4 10.6-0.7 14.2-2.1 46-9.9 14.2-2.6 14.1-1.7 14.2-0.4 10.6 1.7 7.1 2.1 7.1 2.7 14.1 6.9 28.4 15.2 14.1 6.1 7.1 2.2 7.1 1.4 7.1 0.6 7.1-0.1 17.7-0.9 17.7-2.3 14.1-3.1 14.2-4.4 49.6-3.4 141.6-12.2 31.9-2.2 24.7-0.5 77.9-0.1 49.6-0.6 233.7-5.7 63.7-2.1 53.1-2.4 42.5-4.2 14.2-0.8 14.2 0.5 31.8 3.3 10.6 0.4 7.1-0.3 17.7-2 53.1-8.3 28.4-5.7 53.1-12.4 14.1-2.4 14.2-1.4 14.2-0.1 14.1 1.4 10.6 2.7 24.8 8.9 10.7 3.1 10.6 1.5 10.6 0.3 14.2-0.8 42.4-4.8 106.3-6.7 42.5-3.5 44.8-4.4" stroke="#0072BD"/>
<path d="M267.7 1240.3l10.6 3.3 24.8 8.7 7.1 1.7 7.1 1.1 10.6 0.2 28.3-2.8 14.2-0.3 17.7 1.3 46 5 17.7 0.7 10.6-0.8 10.7-2.7 7-3.1 21.3-12.6 10.6-5.1 7.1-2.4 7.1-1.8 14.1-2.2 56.7-5.6 28.3-1.5 24.8 0.6 53.1 4.3 28.3 1.2 35.4-0.5 53.2-3.1 7-0.6 3.6-7.5 49.5-5.5 141.7-19.3 28.3-2.9 24.8-0.5 85 0 53.1 2 56.6-2.8 258.5-2.7 53.1-1.3 70.8 1.2 77.9-3.7 74.4-6.6 28.3-1.4 14.2 0.1 14.1 0.9 10.6 1.2 35.5 5.8 10.6 0.8 10.6 0.2 63.7-3.3 106.3-2.1 80.2-2.2" stroke="#4DBEEE"/>
<path d="M267.7 1169.9l38.9 2.6 17.8-0.4 38.9-4.2 46-2.4 14.2-1.2 14.2-2.6 10.6-4.1 7.1-4.6 3.5-3.1 7.1-8.1 3.5-5.1 7.1-12.4 17.7-37.8 7.1-13.8 7.1-11.2 7.1-8.7 7-6.7 7.1-5.3 31.9-20.2 35.4-25.5 10.6-6.2 10.6-4.1 7.1-1.4 7.1-0.1 7.1 1 7.1 2.2 7 3.3 7.1 4 28.3 19 10.7 6.4 14.1 6.6 7.1 2.2 7.1 1.6 7.1 0.9 7.1 0.2 7-0.4 10.7-1.7 7-1.9 10.7-3.8 7-3.2 10.7-5.8 14.1-9.5 17.7-14.5 3.6-27.8 14.1-13.9 14.2-15.1 31.9-37.1 35.4-43.9 81.4-103.9 17.7-21.9 10.6-11.8 7.1-6.6 7.1-4.9 3.5-1.9 7.1-2.6 10.6-1.8 10.7-0.7 84.9-0.7 42.5 0.8 14.2-0.8 31.9-3 24.7-1.3 49.6-1.3 92.1-1.3 38.9-1.4 35.4-2.6 35.4-3.7 10.7-1.8 31.8-6.8 14.2-1.7 7.1-0.1 7.1 0.6 31.8 5 7.1 0.5 7.1-0.2 7.1-0.9 10.6-2.1 28.3-7.8 28.3-7.2 24.8-7.9 42.5-15.8 14.2-4.8 14.1-3.7 14.2-2.3 14.2-0.5 7 0.6 7.1 1.2 10.6 3.8 24.8 12.8 7.1 3.1 10.6 2.7 14.2 0.9 14.2-1.1 46-6.4 60.2-5.7 38.9-4.5 46.1-6.4 44.8-7.5" stroke="#7E2F8E"/>
<path d="M267.7 1247.6l35.4-3.9 14.2-2 46-9 60.2-10 17.7-3.7 10.6-3.2 10.6-5 7.1-4.5 14.2-10.4 10.6-6.2 7.1-2.6 10.6-2.3 42.5-4.2 49.6-6.5 21.2-1.5 10.6 0.1 14.2 0.8 49.6 6 24.8 1.7 14.1 0.2 17.7-0.7 39-3.7 31.8-4.3 3.6-10.4 60.2-10.7 127.4-25.6 21.3-3.1 21.2-0.8 99.2-0.1 53.1 2.4 10.6-0.4 28.3-2.5 17.7-0.8 212.5-3 53.1-1.5 49.5-2.8 17.8 0.2 35.4 1.9 14.1-0.1 17.7-1.1 56.7-5.2 24.8-3 53.1-7.8 14.1-1.5 14.2-0.8 14.2 0.1 14.1 1.1 14.2 2.8 28.3 7.2 10.6 1.6 10.7 0.5 14.1-0.5 31.9-3.2 21.2-1.6 102.7-3.7 83.8-4.3" stroke="#D95319"/>
<path d="M267.7 1218.7l35.4 3.1 17.7 0.5 46-2.6 63.8-0.7 10.6-0.8 10.6-1.6 10.6-3.3 10.7-5.6 10.6-8.6 17.7-17.4 7.1-6.1 7.1-5 10.6-5.4 7.1-2.6 10.6-2.9 42.5-9.3 17.7-3.3 17.7-2 14.1 0 14.2 1.2 46 8.3 17.7 2.5 17.7 1.2 17.7 0.1 21.3-1.2 56.6-4.4 3.6-6.9 63.7-5.4 131-12.4 31.9-2.2 24.8-0.4 77.9-0.2 53.1 1.9 53.1-3.1 262-5.2 56.6-2.5 17.8 0.3 35.4 2 14.1 0 17.7-1.1 56.7-5.1 24.8-2.9 53.1-7.4 14.1-1.4 14.2-0.8 14.2 0 14.1 1.1 10.6 1.8 24.8 5.9 10.7 2.1 10.6 1.1 10.6 0.2 14.2-0.7 28.3-2.7 21.2-1.4 102.7-3.7 83.8-4.3" stroke="#4DBEEE"/>
<path d="M267.7 1134.3l35.4 5.5 10.6 0.9 7.1 0.1 46-3.5 56.7-0.4 14.2-1.7 10.6-2.9 7.1-3.5 3.5-2.3 7.1-6.1 3.5-3.8 3.6-4.4 7-10.4 17.7-30.1 7.1-10.7 7.1-8.9 10.6-10.1 10.7-7.3 28.3-15.8 31.8-18.9 14.2-6.9 10.6-3.3 7.1-1.1 7.1-0.1 7.1 0.9 7.1 1.8 14.1 5.9 28.3 15.6 10.7 5.2 14.1 5.4 10.7 2.4 7 0.9 7.1 0.2 7.1-0.4 7.1-1 14.1-3.8 14.2-5.8 10.6-5.6 10.6-6.6 10.7-7.7 14.1-11.8 3.6 3.5 7.1-6.7 21.2-21.8 28.3-31.8 106.2-125.7 24.8-28.2 10.7-10.7 10.6-8.8 10.6-6.3 10.6-3.7 10.6-2 17.7-1.2 113.4-1 17.7-0.6 116.8-7.9 31.9-3.1 60.2-6.8 31.8-2.8 28.3-1.5 42.5-0.8 28.4-1.3 10.6 1.3 7.1 2.8 3.5 2.1 3.5 2.8 7.1 7.2 14.2 18.4 7.1 7.6 3.5 2.5 3.6 1.6 3.5 0.4 3.5-0.6 3.6-1.5 3.5-2.2 7.1-6.6 3.5-4.6 3.6-63.6 3.5 1 7.1-0.9 3.5 0.8 3.6 3.5 3.5 6.7 7.1 17.8 3.5 6.6 3.6 2.6 3.5-1.8 10.7-16 3.5-3 3.5-0.9 14.2 3.5 3.5 0.1 7.1-1 24.8-5.9 49.6-14.3 14.1-3.1 10.7-1.6 10.6-0.7 7.1 0 7 0.4 7.1 1.1 10.6 3.4 24.8 11.9 7.1 2.8 10.6 2.5 14.2 0.6 14.2-1.4 28.3-4.8 17.7-2.4 67.3-6.1 46-5.1 38.9-5.2 37.8-5.8" stroke="#7E2F8E"/>
<path d="M267.7 1126l148.7 4.2 21.3-0.6 7-0.9 7.1-1.7 7.1-2.9 3.5-2 7.1-5.8 3.6-3.8 7-9.4 21.3-34.7 7.1-9 3.5-3.7 7.1-5.9 10.6-6.1 31.9-13.5 35.4-16.8 10.6-4 10.6-2.8 7.1-0.9 7.1-0.1 7.1 0.7 7.1 1.5 14.1 4.8 28.3 12.5 10.7 4.2 14.1 4.2 10.7 1.8 14.1 0.6 14.2-1.4 14.1-3.2 17.7-5.8 21.3-9.1 21.2-11.1 3.6-18.1 28.3-17.9 31.9-22.6 38.9-29.1 81.5-62.4 17.7-12.8 10.6-6.7 7.1-3.7 7-2.7 7.1-1.8 10.6-1.5 14.2-0.7 92.1-0.9 113.3-2.9 49.5-0.2 85 1.2 31.9-0.4 42.5-2.5 31.8-3.3 24.8-3.8 10.6-0.1 7.1 1.7 3.6 1.6 7 5.1 7.1 7.8 17.7 24.2 3.6 3.5 3.5 2.6 3.6 1.3 3.5 0 3.5-1.1 3.6-2.2 7.1-6.7 3.5-4.5 3.5-5.7 3.6 27.4 10.6-30.5 3.5-7 3.6-2.6 3.5 2.2 7.1 12.2 3.5 4.1 3.6-0.5 3.5-5.5 10.7-28.1 3.5-5.9 3.5-2.9 3.6-0.8 7.1 0.5 7-0.9 24.8-8.9 28.3-9.2 21.3-6.1 17.7-4 10.6-1.7 10.6-1 10.7-0.2 10.6 0.8 7.1 1.3 7 2.1 24.8 9.9 10.7 3.3 10.6 1.4 10.6 0.3 14.2-1.1 46-5.6 67.3-5.1 42.5-3.9 38.9-4.3 41.3-5.3" stroke="#0072BD"/>
<path d="M267.7 1120.4l10.6 1.8 24.8 5.2 7.1 0.8 7.1 0.1 10.6-1.2 28.3-6.6 14.2-2.2 17.7-1.1 53.1-1.6 10.6-1 10.6-1.9 10.7-3.6 7-3.8 3.6-2.4 7.1-6 17.7-18.1 7.1-6.6 7-5.4 7.1-4.3 14.2-6.2 46-15.8 14.2-4.2 14.1-2.7 10.7-0.8 14.1 0.9 14.2 2.7 31.8 9 14.2 3.2 17.7 2.1 14.2-0.2 10.6-1.3 10.6-2.3 10.6-3.1 10.7-3.9 24.7-10.9 24.8-13.5 3.6 29.2 28.3-18.4 31.9-23 38.9-29.7 74.4-58 17.7-13.2 10.6-7 10.6-5.5 7.1-2.6 10.6-2.4 14.2-1.4 21.2-0.5 70.8-0.3 35.5 1.2 14.1-0.2 49.6-3.9 85-3.3 109.7-5.6 70.8-3 39-4 14.1-0.9 7.1 0 10.7 0.8 31.8 4.3 14.2 0.4 17.7-1.9 53.1-9.6 24.8-5.2 56.6-13.6 14.2-2.7 14.2-1.8 17.7-0.6 14.1 1.3 10.6 2.8 24.8 9.6 10.7 3.2 10.6 1.4 10.6 0.2 14.2-1.3 42.4-5.9 106.3-8.1 42.5-4.3 44.8-5.3" stroke="#77AC30"/>
<path d="M267.7 1033.9l145.2 8.1 67.2 4.6 35.5 1 14.1-0.7 14.2-1.6 60.2-9.7 14.1-1.3 14.2-0.3 10.6 1.7 10.6 3.4 14.2 6.4 28.3 15.3 10.6 5.1 10.7 4 10.6 2.5 10.6 0.6 31.9-0.6 14.1-1 21.3-3.1 3.5 0 53.1 2.9 148.8 10.2 38.9 1.2 123.9-0.3 240.8-4.1 116.8-3.2 42.5-3 14.2-0.6 14.2 0.4 31.8 2.4 17.7 0 17.7-1.4 56.7-6.6 24.8-4 53.1-10.1 14.1-2 14.2-1.1 14.2 0.1 14.1 1.4 10.6 2.4 24.8 7.8 10.7 2.7 10.6 1.5 10.6 0.4 14.2-0.8 28.3-3.1 17.7-1.5 106.2-4.9 83.8-5.5" stroke="#D95319"/>
<path d="M267.7 1150.6l53.1-1.5 92.1-4.3 17.7-1.8 7.1-1.4 7-2.3 7.1-3.7 3.6-2.5 7-7.1 3.6-4.6 7.1-11.6 14.1-28.3 7.1-12.7 7.1-9.9 7.1-7 7.1-4.8 7-3.4 31.9-11.3 14.2-5.9 28.3-12.8 10.6-3.9 7.1-1.9 7.1-1.3 7.1-0.4 7 0.3 10.7 1.8 14.1 4.6 28.3 12.2 10.7 4.1 14.1 3.9 10.7 1.7 10.6 0.4 14.1-1.4 14.2-3.3 14.2-4.7 24.7-9.9 24.8-11.7 3.6-4 28.3-16.3 35.4-23 95.6-66.4 21.3-14.2 10.6-6.4 10.6-5.3 10.6-4 10.6-2.5 10.7-1.3 17.7-0.9 70.8-0.6 21.2 0.3 31.9 1.8 10.6-0.1 35.4-4.2 14.2-1.2 145.2-6.7 116.8-6.5 28.3-2.8 7.1-0.2 7.1 0.7 3.5 0.9 7.1 3.2 3.5 2.4 7.1 6.4 14.2 16.7 7.1 6.9 3.5 2.3 3.6 1.3 3.5 0.3 3.5-0.7 3.6-1.6 3.5-2.3 7.1-6.5 3.5-4.2 3.6-114.8 3.5 7.7 10.6 16.5 3.6 6.6 10.6 26.2 3.5 6.9 3.6 4 3.5 0.9 3.6-1.5 7.1-4.4 3.5-0.7 3.5 0.4 10.7 4.3 7 1.4 7.1 0 10.6-1.1 21.3-4.3 38.9-10.7 14.2-3.3 14.2-2.1 14.1-0.7 10.6 0.7 10.7 2.2 10.6 4.1 21.2 10.5 10.7 4.1 10.6 1.9 14.1 0.2 10.7-1.1 28.3-4.6 17.7-2.2 70.8-6.1 46-4.8 35.4-4.5 37.8-5.5" stroke="#EDB120"/>
<path d="M267.7 1149.2l35.4 4.6 17.7 0.8 46-4.2 49.6-0.5 14.2-0.6 10.6-1.5 7.1-2 3.5-1.5 7.1-4.5 3.5-3.3 7.1-9 7.1-12.9 17.7-42.3 7.1-14.8 7.1-11.3 7.1-7.9 7-5.7 7.1-4.1 31.9-14.9 35.4-19.3 10.6-4.7 7.1-2.3 7.1-1.5 7.1-0.5 7 0.3 10.7 2.3 14.1 5.6 28.3 14.9 14.2 6.6 14.2 4.7 10.6 2.2 14.2 1.1 7-0.2 10.7-1.2 14.1-3.2 17.7-6.2 17.7-8.8 17.7-11.1 3.6-5.5 24.8-18.7 28.3-23.7 38.9-34.3 85-76.2 17.7-15.2 10.6-7.8 7.1-4.2 7.1-2.9 7.1-1.9 10.6-1.4 17.7-0.6 81.4-0.6 46.1 0.5 42.5-3.6 21.2-1.2 134.6-3.9 42.4-1.8 39-2.6 38.9-3.7 10.7-1.7 31.8-6.4 14.2-1.5 7.1 0 7.1 0.6 31.8 5.4 7.1 0.5 7.1-0.1 7.1-0.9 10.6-2.1 56.6-15.2 24.8-8.1 42.5-16.1 14.2-4.9 14.1-3.8 14.2-2.4 14.2-0.4 7 0.5 7.1 1.2 10.6 3.9 24.8 13 7.1 3.1 7.1 2.1 3.5 0.6 14.2 0.9 14.2-1 46-6.3 56.6-5.4 39-4.5 46-6.4 48.4-8.1" stroke="#7E2F8E"/>
<path d="M267.7 1082.7l70.8-1.1 31.9-1.1 17.7-1.4 21.2-2.7 17.7-3.4 17.7-4.5 17.7-5.8 3.6-2.4 3.5-3.6 7.1-10.1 7.1-13 17.7-36.7 7.1-12.9 7.1-10.2 10.6-12.8 21.2-23 21.3-19.7 38.9-31.3 7.1-4.7 7.1-3.3 7.1-1.3 7 0.8 7.1 2.6 10.6 6.1 21.3 14.7 7.1 5.6 7 6.9 17.7 19.2 10.7 10 7.1 5 7 2.8 3.6 0.5 7.1-0.5 7-1.4 7.1-2.3 10.6-4.6 10.7-5.5 7-4.5 3.6-3 3.5-3.6 7.1-8.5 10.6-15.8 17.7-31.5 7.1-15.3 17.7-49.2 42.5-112.5 39-112 14.1-39.1 39-102.3 17.7-48 7.1-17.1 7-14.1 17.7-28.6 7.1-9.5 3.6-4 3.5-3.2 3.5-2.5 3.6-1.6 3.5-0.8 21.3-2.8 198.2-15.1 102.7-9.8 63.8-7.3 46-6.8 38.9-7 10.7-3.3 21.2-9 10.6-3.9 7.1-1.9 7.1-0.9 7.1 0.2 7.1 1.7 24.7 10 7.1 2.3 7.1 1.2 10.6-0.6 7.1-1.6 7.1-2.4 14.1-6.7 10.7-6.3 31.8-20.2 31.9-17.2 46-28.1 17.7-9 10.7-4.3 7-2.2 10.7-2.2 7-0.6 7.1 0.5 3.6 0.9 10.6 5.2 21.2 13.5 7.1 3.4 3.6 1.1 3.5 0.6 7.1 0.1 24.8-2.1 31.8-4 28.4-4.5 31.8-6.4 28.3-6.7 28.4-7.9 28.3-8.9 28.3-9.9 30.7-12" stroke="#D95319"/>
<path d="M267.7 1188.3l10.6 3.1 24.8 9.1 7.1 1.4 7.1 0.3 10.6-1.7 28.3-9.7 14.2-3.1 17.7-1.4 46-0.6 17.7-1.6 10.6-2.7 7.1-3.1 10.6-6.9 14.2-11.4 7.1-5 7.1-3.9 7.1-2.8 10.6-2.9 35.4-6.7 35.4-7.8 14.1-2.4 10.7-1 14.1-0.1 14.2 1.4 14.2 2.6 35.4 7.5 21.2 3.2 21.3 1.5 28.3 0 28.3-1.1 28.3-1.8 3.6-4.7 60.2-5.6 138.1-14.9 28.3-2.2 102.7-0.5 53.1 2 53.1-3.3 237.2-4.6 31.9-1 49.5-2.7 17.8 0.3 35.4 2.1 14.1 0 17.7-1.3 56.7-5.5 24.8-3.3 53.1-8.1 14.1-1.6 14.2-0.9 14.2 0.1 14.1 1.1 14.2 2.9 28.3 7.7 10.6 1.6 10.7 0.5 14.1-0.5 31.9-3.5 21.2-1.7 102.7-4.1 83.8-4.7" stroke="#EDB120"/>
<path d="M267.7 1173.1l35.4 0 17.7-1.2 49.6-7.3 74.3-7 10.7-1.8 10.6-3.2 7.1-4 3.5-2.8 7.1-8 7.1-11.9 14.1-31.8 7.1-14.6 7.1-11.1 7.1-7.7 3.5-2.9 7.1-4.7 28.3-14.7 28.3-16 10.7-5.2 10.6-3.8 7.1-1.5 7.1-0.6 7 0.3 10.7 2.3 14.1 5.6 28.3 14.8 10.7 4.9 14.1 4.9 14.2 2.6 14.2 0.3 7-0.8 10.7-2.1 7-2.1 10.7-4.2 14.1-7.5 10.6-7 7.1-5.4 17.7-15.8 3.6-7.7 17.7-19.4 17.7-21.6 17.7-23.3 21.2-29.4 88.5-127.5 14.2-19.8 10.6-13.8 10.7-12.1 10.6-9.5 7.1-4.5 10.6-4.5 10.6-2.3 17.7-1.5 123.9-1.6 49.6-3.2 28.3-1.2 49.6-0.8 88.5 0.4 39-1.4 31.8-2.8 35.4-4.8 10.7-2.3 31.8-8.4 10.6-1.8 7.1-0.6 7.1 0.2 7.1 0.8 28.3 4.9 7.1 0.4 7.1-0.3 7.1-0.9 10.6-2.5 28.3-8.9 28.3-7.8 77.9-26.4 14.2-3.8 14.2-2.6 10.6-1 7.1-0.2 7 0.3 7.1 1 10.6 3.6 24.8 12.9 7.1 3 7.1 2 3.5 0.5 14.2 0.3 14.2-1.7 28.3-5.3 14.1-2.2 67.3-7.5 42.5-5.6 42.5-6.9 41.3-7.8" stroke="#0072BD"/>
<path d="M267.7 1360.2l10.6 2 24.8 5.7 10.6 1 7.1-0.5 10.6-2 31.9-9 31.9-6.7 14.1-3.9 10.7-3.9 7-3.1 7.1-3.7 10.6-6.4 14.2-10.1 28.3-22.9 14.2-10.8 14.2-9.2 14.1-7.6 21.3-8.8 28.3-9 21.2-5.1 10.6-1.8 10.7-1.2 14.1-0.4 14.2 0.8 14.2 1.6 38.9 5.9 24.8 2.4 28.3 1.2 35.4 0.3 56.7-0.8 191.2-3.8 141.6-0.4 237.2-1.6 113.3-1.4 56.7-1.4 63.7 1.1 77.9-3.8 24.8-2.1 53.1-5.7 24.8-1.4 14.2 0.2 14.1 1 10.6 1.5 35.5 6.4 10.6 1 10.6 0.3 14.2-0.4 49.5-2.9 106.3-2.1 80.2-2.1" stroke="#D95319"/>
<path d="M267.7 1161.1l53.1-3.7 106.2-8.8 10.7-1.5 7-1.6 7.1-2.4 7.1-4 7.1-6.6 3.5-4.8 3.6-5.8 3.5-7.2 7.1-18.4 17.7-55.2 7.1-16.9 7.1-12.1 3.5-4.6 7.1-7.2 24.8-19.2 10.6-9.1 28.3-28.2 10.6-9.8 10.6-7.7 7.1-3.4 7.1-1.9 7.1-0.2 7.1 1.6 7.1 3.1 7 4.6 7.1 5.6 28.3 27.2 10.7 9.1 7 5.1 7.1 4.1 10.7 4.3 7 1.4 7.1 0.3 7.1-0.8 7.1-1.9 7.1-3 7-3.9 7.1-4.8 10.6-8.8 10.7-10.5 10.6-12.6 10.6-14.5 10.6-16.7 3.6-19.1 10.6-19.1 10.6-20.7 14.2-29.5 14.1-31 35.5-81 70.8-166 17.7-39.8 10.6-21.4 7.1-12.1 3.5-5.2 3.6-4.5 7-7.1 3.6-2.6 7.1-3.7 7-2.2 7.1-1.2 17.7-1.1 88.5-1 35.5 0.9 10.6-0.2 10.6-1 28.3-4.2 17.7-1.8 109.8-7.1 60.2-4.7 49.5-4.8 42.5-5.2 10.7-2.3 31.8-9 7.1-1.3 7.1-0.6 7.1 0.2 7.1 1.1 24.7 7.2 7.1 1.6 7.1 0.9 7.1-0.2 7.1-1.2 10.6-3.3 28.3-11.9 24.8-9.4 24.8-11.5 42.5-22.7 14.1-7 17.7-7 14.2-3.4 7.1-0.8 7.1-0.1 7 0.6 7.1 1.6 3.6 1.4 7 3.9 24.8 18.4 7.1 4.4 7.1 3 3.5 0.7 7.1 0.9 7.1 0 14.2-1.8 42.4-9.1 63.8-9.5 38.9-7 46.1-10.1 44.8-11.7" stroke="#EDB120"/>
<path d="M267.7 1204.6l35.4 6 14.2 1.1 10.6-0.3 24.8-2.9 14.1-1.1 17.7-0.2 49.6 0.9 10.6-0.4 10.7-1.4 7-2 3.6-1.6 7.1-4.5 3.5-3.1 7.1-7.7 17.7-22.2 7.1-6.4 3.5-2.5 7.1-3.6 10.6-3.2 10.6-1.9 56.7-7.9 24.8-2.1 14.1-0.1 14.2 0.9 53.1 6.8 14.2 1.3 17.7 0.9 17.7 0.3 21.2-0.3 53.1-2.5 3.6 17.9 56.6-4.4 145.2-13 21.2-1.5 17.7-0.7 92.1-0.1 14.2 0.6 24.8 2.2 10.6 0.4 10.6-0.5 31.9-3 21.2-0.7 254.9-3.2 53.1-1.1 49.6 1.3 17.7 0.1 74.4-3.4 81.4-6.5 28.3-1 24.8 1 14.2 2 31.9 5.7 10.6 0.9 10.6 0.2 14.2-0.8 31.8-3.1 21.3-1.2 106.2-2.2 76.7-2.2" stroke="#A2142F"/>
</g></g>
<g stroke="#1a1a1a" stroke-width="2.4" fill="none">
<rect x="267.7" y="77.0" width="1910.5" height="1367.0"/>
<path d="M267.7 1444.0h16.5M2178.2 1444.0h-16.5M267.7 1248.7h16.5M2178.2 1248.7h-16.5M267.7 1053.4h16.5M2178.2 1053.4h-16.5M267.7 858.1h16.5M2178.2 858.1h-16.5M267.7 662.9h16.5M2178.2 662.9h-16.5M267.7 467.6h16.5M2178.2 467.6h-16.5M267.7 272.3h16.5M2178.2 272.3h-16.5M267.7 77.0h16.5M2178.2 77.0h-16.5M408.1 1444.0v-18M408.1 77.0v18M850.7 1444.0v-18M850.7 77.0v18M1293.3 1444.0v-18M1293.3 77.0v18M1735.9 1444.0v-18M1735.9 77.0v18M2178.5 1444.0v-18M2178.5 77.0v18"/>
</g>
<g font-family="'Liberation Sans', Arial, Helvetica, sans-serif" fill="#262626" font-size="88.0">
<text x="239.5" y="1478.2" text-anchor="end">0</text><text x="239.5" y="1282.8" text-anchor="end">10</text><text x="239.5" y="1087.3" text-anchor="end">20</text><text x="239.5" y="891.8" text-anchor="end">30</text><text x="239.5" y="696.4" text-anchor="end">40</text><text x="239.5" y="500.9" text-anchor="end">50</text><text x="239.5" y="305.5" text-anchor="end">60</text><text x="239.5" y="110.0" text-anchor="end">70</text><text x="407.8" y="1557.0" text-anchor="middle">500</text><text x="850.1" y="1557.0" text-anchor="middle">1000</text><text x="1292.5" y="1557.0" text-anchor="middle">1500</text><text x="1734.9" y="1557.0" text-anchor="middle">2000</text><text x="2177.2" y="1557.0" text-anchor="middle">2500</text>
</g>
<g font-family="'Liberation Sans', Arial, Helvetica, sans-serif" fill="#262626" font-size="96.8">
<text x="1226.5" y="1680.3" text-anchor="middle">Wavelength (nm)</text>
<text transform="translate(109.7,758.3) rotate(-90)" text-anchor="middle">Reflectance (%)</text>
</g>
</svg>
</body></html>
